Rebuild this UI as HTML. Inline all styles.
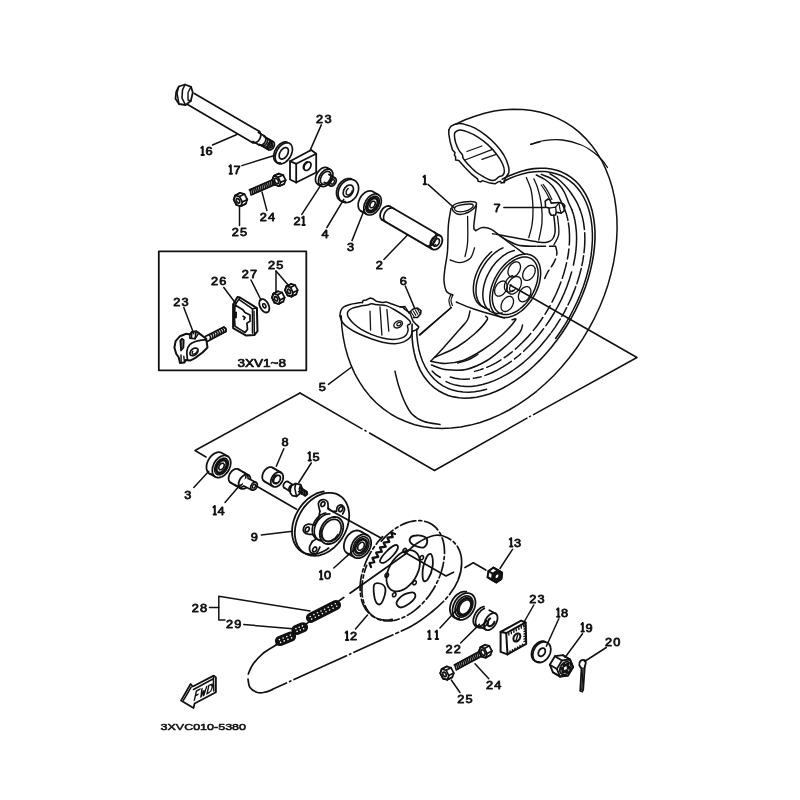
<!DOCTYPE html>
<html><head><meta charset="utf-8"><title>Rear Wheel</title>
<style>html,body{margin:0;padding:0;background:#fff}body{width:800px;height:800px;overflow:hidden}svg{display:block;filter:grayscale(1)}text{font-family:"Liberation Sans",sans-serif;fill:#111}</style>
</head><body>
<svg width="800" height="800" viewBox="0 0 800 800" stroke-linecap="round" stroke-linejoin="round">
<rect width="800" height="800" fill="#fff"/>
<path d="M206,457 L195,450.5 L300,393" fill="none" stroke="#111" stroke-width="1.5"/>
<path d="M300,393 L362,428.8" fill="none" stroke="#111" stroke-width="1.5"/>
<path d="M365,430.5 L366,431.1" fill="none" stroke="#111" stroke-width="1.5"/>
<path d="M369.5,433 L434.5,470.5" fill="none" stroke="#111" stroke-width="1.5"/>
<path d="M434.5,470.5 L527,418.2" fill="none" stroke="#111" stroke-width="1.5"/>
<path d="M529.5,416.7 L530.5,416.2" fill="none" stroke="#111" stroke-width="1.5"/>
<path d="M533.5,414.6 L637,357.5 L510,285" fill="none" stroke="#111" stroke-width="1.5"/>
<path d="M455.6,124.2 L465.2,119.8 L474.9,116.2 L484.6,113.3 L494.3,111.1 L503.9,109.8 L513.4,109.2 L522.7,109.4 L531.8,110.4 L540.6,112.2 L549.1,114.8 L557.3,118.1 L565.1,122.2 L572.5,126.9 L579.4,132.4 L585.8,138.6 L591.7,145.4 L597,152.8 L601.8,160.8 L605.9,169.4 L609.4,178.4 L612.3,187.8 L614.5,197.7 L616,207.9 L616.9,218.5 L617.1,229.2 L616.6,240.2 L615.4,251.3 L613.6,262.5 L611,273.7 L607.9,284.9 L604.1,296 L599.7,307 L594.6,317.8 L589,328.3 L582.9,338.6 L576.3,348.5 L569.1,358 L561.6,367.1 L553.6,375.7 L545.2,383.8 L536.6,391.3 L527.6,398.2 L518.4,404.4 L509,410 L499.5,414.9 L489.9,419 L480.2,422.5 L470.5,425.1 L460.8,427 L451.2,428.1 L441.8,428.4 L432.6,427.9 L423.6,426.7 L414.8,424.7 L406.4,421.8 L398.3,418.3 L390.7,414 L383.4,408.9 L376.7,403.2 L370.4,396.9 L364.7,389.8 L359.6,382.2 L355,374.1 L351.1,365.4 L347.8,356.2 L345.1,346.6 L343.1,336.6 L341.8,326.3 L341.2,315.7" fill="none" stroke="#111" stroke-width="1.5"/>
<path d="M530.6,144.4 C532.8,143.8 538.5,141.3 543.8,140.6 C549.1,139.9 556.2,139.3 562.5,140 C568.8,140.7 576.1,142.9 581.3,145 C586.5,147.1 590.3,150 593.8,152.5 C597.2,155 599.7,157.5 602,160 C604.3,162.5 606.6,166.2 607.5,167.5" fill="none" stroke="#111" stroke-width="1.3"/>
<path d="M502.2,179.2 L508.6,176 L515.1,173.4 L521.4,171.2 L527.7,169.6 L533.8,168.6 L539.8,168.2 L545.7,168.3 L551.3,169 L556.7,170.3 L561.8,172.1 L566.6,174.5 L571.1,177.4 L575.3,180.8 L579.1,184.8 L582.5,189.2 L585.6,194.1 L588.2,199.4 L590.5,205.2 L592.3,211.3 L593.6,217.8 L594.5,224.7 L595,231.8 L595,239.1 L594.5,246.7 L593.6,254.5 L592.2,262.4 L590.4,270.4 L588.2,278.5 L585.6,286.6 L582.5,294.7 L579.1,302.7 L575.3,310.6 L571.1,318.4 L566.6,326 L561.7,333.5 L556.6,340.6 L551.2,347.5 L545.6,354 L539.8,360.2 L533.8,366 L527.6,371.5 L521.4,376.4 L515,380.9 L508.6,384.9 L502.1,388.5 L495.7,391.5 L489.3,393.9 L483,395.8 L476.7,397.2 L470.6,397.9 L464.7,398.2 L459,397.8 L453.5,396.9 L448.2,395.4 L443.2,393.3 L438.5,390.7 L434.1,387.6 L430.1,384 L426.4,379.8 L423.1,375.2 L420.2,370.1 L417.8,364.6 L415.7,358.7 L414.1,352.4 L412.9,345.7 L412.2,338.8 L412,331.6 L412.1,324.1" fill="none" stroke="#111" stroke-width="1.6"/>
<path d="M503.8,181.3 L510,178.3 L516.2,175.9 L522.3,174 L528.3,172.6 L534.2,171.7 L539.9,171.4 L545.5,171.6 L550.9,172.4 L556,173.7 L560.9,175.5 L565.5,177.9 L569.8,180.8 L573.8,184.1 L577.4,188 L580.7,192.3 L583.6,197.1 L586.1,202.3 L588.2,207.8 L589.9,213.8 L591.2,220.1 L592,226.7 L592.4,233.5 L592.4,240.6 L591.9,248 L591.1,255.4 L589.8,263.1 L588,270.8 L585.9,278.6 L583.3,286.4 L580.4,294.2 L577.1,301.9 L573.4,309.5 L569.4,317.1 L565.1,324.4 L560.5,331.5 L555.6,338.5" fill="none" stroke="#111" stroke-width="1.5"/>
<path d="M486.6,389.3 L480.6,390.8 L474.6,391.8 L468.8,392.2 L463.1,392 L457.7,391.3 L452.5,390.1 L447.6,388.2 L442.9,385.8 L438.6,382.9 L434.6,379.5 L431,375.6 L427.7,371.1 L424.9,366.3 L422.4,361 L420.4,355.3 L418.8,349.2 L417.7,342.7 L416.9,336 L416.7,329" fill="none" stroke="#111" stroke-width="1.5"/>
<path d="M550,173.8 C551.3,174.7 555.5,177.1 558,179 C560.5,180.9 562.8,183.2 565,185.5 C567.2,187.8 569.1,190.3 571,193 C572.9,195.7 575.1,199.2 576.6,201.9 C578.1,204.6 579.4,208.1 579.9,209.3" fill="none" stroke="#111" stroke-width="1.5"/>
<path d="M541.3,174.4 C542.9,175.1 548,176.8 551,178.5 C554,180.2 556.8,182.2 559,184.5 C561.2,186.8 562.9,189.5 564.5,192.5 C566.1,195.5 567.4,199.8 568.6,202.7 C569.9,205.5 571.3,208.6 571.9,209.7" fill="none" stroke="#111" stroke-width="1.5"/>
<path d="M536.3,175 C537.8,175.8 542.3,177.7 545,179.5 C547.7,181.3 550.4,183.6 552.5,186 C554.6,188.4 555.9,191.1 557.5,194 C559.1,196.9 560.7,200.7 561.9,203.4 C563.2,206.1 564.5,209.1 565,210.2" fill="none" stroke="#111" stroke-width="1.5"/>
<path d="M579.9,209.3 L581,212.4 L582,215.6 L582.8,218.9 L583.5,222.3 L584,225.9 L584.4,229.5" fill="none" stroke="#111" stroke-width="1.5"/>
<path d="M584.7,232.7 L584.9,239.4 L584.6,246.4 L583.9,253.6 L582.8,260.9 L581.3,268.3 L579.3,275.8 L577,283.4 L574.2,290.9 L571.1,298.4 L567.6,305.8 L563.8,313.1 L559.6,320.2 L555.2,327.1 L550.4,333.8" fill="none" stroke="#111" stroke-width="1.5" stroke-dasharray="20 3 10 3 16 3"/>
<path d="M550.4,333.8 L545.5,340.1 L540.3,346.2 L534.9,351.9 L529.4,357.3 L523.7,362.3 L517.9,366.9 L512.1,371 L506.1,374.7 L500.2,377.9 L494.3,380.6 L488.4,382.8 L482.5,384.5 L476.8,385.7 L471.2,386.4 L465.8,386.5 L460.5,386 L455.5,385.1 L450.6,383.6 L446.1,381.6" fill="none" stroke="#111" stroke-width="1.5"/>
<path d="M571.9,209.7 L573.6,214.9 L574.9,220.3 L575.8,226.1 L576.4,232.1 L576.6,238.3 L576.4,244.8 L575.8,251.4 L574.8,258.1 L573.4,265" fill="none" stroke="#111" stroke-width="1.5"/>
<path d="M571.7,271.9 L569.6,278.8 L567.2,285.8 L564.4,292.7 L561.3,299.6 L557.8,306.4 L554.1,313 L550.1,319.5 L545.9,325.7" fill="none" stroke="#111" stroke-width="1.5"/>
<path d="M543.6,328.8 L539,334.7 L534.2,340.4 L529.2,345.7 L524.1,350.8 L518.8,355.5 L513.4,359.8 L508,363.7 L502.5,367.2 L496.9,370.3 L491.4,373 L485.9,375.1 L480.4,376.9 L475.1,378.1 L469.8,378.9 L464.7,379.2 L459.7,379 L454.9,378.3 L450.3,377.1" fill="none" stroke="#111" stroke-width="1.5" stroke-dasharray="30 4 8 4"/>
<path d="M565,210.2 L565.6,211.8 L566.2,213.5 L566.7,215.1 L567.1,216.9 L567.6,218.6 L567.9,220.4" fill="none" stroke="#111" stroke-width="1.5"/>
<path d="M568.4,223.1 L569.2,228.9 L569.5,234.9 L569.5,241.1 L569.1,247.5 L568.3,254 L567.1,260.7 L565.5,267.4 L563.6,274.2 L561.3,281 L558.7,287.8 L555.8,294.5 L552.5,301.2 L549,307.7 L545.1,314.1 L541,320.2 L536.7,326.2 L532.1,331.9 L527.4,337.4 L522.4,342.5 L517.4,347.3 L512.2,351.8 L506.9,355.8 L501.5,359.5 L496.1,362.8 L490.7,365.6 L485.3,368 L479.9,369.9 L474.6,371.4" fill="none" stroke="#111" stroke-width="1.5" stroke-dasharray="22 4 10 4 16 4"/>
<path d="M526.3,177.5 C527.1,179.8 530.2,185.6 531.3,191 C532.4,196.4 532.9,204.3 533,210 C533.1,215.7 532.7,220.4 532,225 C531.3,229.6 529.3,235.4 528.8,237.5" fill="none" stroke="#111" stroke-width="1.3"/>
<path d="M533.8,178.8 C534.4,180.2 536.2,183.3 537.5,187.5 C538.8,191.7 540.5,198 541.3,203.8 C542,209.6 542.4,216.5 542,222.5 C541.6,228.5 539.3,237.1 538.8,240" fill="none" stroke="#111" stroke-width="1.3"/>
<path d="M448.8,130 C449.2,129.4 449.8,127.3 451.2,126.2 C452.7,125.2 455.2,124.1 457.5,123.8 C459.8,123.4 462.1,123.6 465,124.4 C467.9,125.1 471.5,126.2 475,128.1 C478.5,130 482.7,132.8 486.2,135.6 C489.8,138.4 493.3,141.8 496.2,145 C499.2,148.2 501.8,151.7 503.8,155 C505.7,158.3 507.3,162.1 508.1,165 C509,167.9 509.2,170.3 508.8,172.5 C508.3,174.7 505.8,177.2 505.2,178.1" fill="none" stroke="#111" stroke-width="1.5"/>
<path d="M505.2,178.1 L504.4,182.5 L501.2,183.1 L500.6,181.2 L498.1,181.9 L495,183.8 L490,183.1 L482.5,180.6 L480.6,181.9 L478.1,181.2 L477.5,178.8 L471.2,173.8 L465,167.5 L460.6,162.5 L458.8,160.6 L455.6,160 L455.6,156.9 L454.4,155 L455,152.5 L452.5,150 L450,141.2 L448.8,133.8 L448.8,130" fill="none" stroke="#111" stroke-width="1.5"/>
<path d="M454.4,135 C454.4,133.2 454.7,132.7 455.6,131.9 C456.6,131 458,130 460,130 C462,130 464.6,130.7 467.5,131.9 C470.4,133 474.2,134.8 477.5,136.9 C480.8,139 484.4,141.6 487.5,144.4 C490.6,147.2 493.8,150.5 496.2,153.8 C498.8,157 501.1,160.8 502.5,163.8 C503.9,166.7 504.4,169.3 504.4,171.2 C504.4,173.2 503.4,174.7 502.5,175.6 C501.6,176.6 500,176.1 498.8,176.9 C497.5,177.6 496.5,179.5 495,180 C493.5,180.5 492.1,180.6 490,180 C487.9,179.4 485,177.7 482.5,176.2 C480,174.8 477.5,173.3 475,171.2 C472.5,169.2 469.5,165.9 467.5,163.8 C465.5,161.6 464,159.6 463.1,158.1 C462.3,156.7 463.2,156.4 462.5,155 C461.8,153.6 459.9,152.1 458.8,150 C457.6,147.9 456.4,145 455.6,142.5 C454.9,140 454.4,136.8 454.4,135 Z" fill="none" stroke="#111" stroke-width="1.5"/>
<path d="M466.9,151.5 L481.9,146" fill="none" stroke="#111" stroke-width="1.3"/>
<path d="M465,160 L492.5,149.4" fill="none" stroke="#111" stroke-width="1.3"/>
<path d="M481.9,159.4 L496.2,154.4" fill="none" stroke="#111" stroke-width="1.3"/>
<path d="M530.6,144.4 L540,141.9" fill="none" stroke="#111" stroke-width="1.3"/>
<path d="M532.8,256 L534,256.8 L535.2,257.8 L536.2,258.9 L537.2,260.1 L538,261.5 L538.7,263 L539.4,264.6 L539.9,266.3 L540.2,268.1 L540.5,269.9 L540.6,271.9 L540.7,273.9 L540.5,276 L540.3,278.1 L539.9,280.3 L539.5,282.5 L538.9,284.7 L538.2,286.9 L537.3,289.1 L536.4,291.3 L535.4,293.5 L534.2,295.6 L533,297.7 L531.7,299.7 L530.3,301.7 L528.8,303.6 L527.3,305.3 L525.7,307 L524.1,308.6 L522.4,310.1 L520.7,311.5 L518.9,312.7 L517.2,313.8 L515.4,314.8 L513.6,315.6 L511.8,316.3 L510.1,316.8 L508.4,317.2 L506.7,317.5 L505,317.5 L503.4,317.5 L501.9,317.2 L500.4,316.8 L499,316.3 L497.6,315.6 L496.4,314.8 L495.2,313.8 L494.2,312.7 L493.2,311.5 L492.4,310.1 L491.7,308.6 L491,307 L490.5,305.3 L490.2,303.5 L489.9,301.7 L489.8,299.7 L489.7,297.7 L489.9,295.6 L490.1,293.5 L490.5,291.3 L490.9,289.1 L491.5,286.9 L492.2,284.7 L493.1,282.5 L494,280.3 L495,278.1 L496.2,276 L497.4,273.9 L498.7,271.9 L500.1,269.9 L501.6,268 L503.1,266.3 L504.7,264.6 L506.3,263 L508,261.5 L509.7,260.1 L511.5,258.9 L513.2,257.8 L515,256.8 L516.8,256 L518.6,255.3 L520.3,254.8 L522,254.4 L523.7,254.1 L525.4,254.1 L527,254.1 L528.5,254.4 L530,254.8 L531.4,255.3 Z" fill="none" stroke="#111" stroke-width="1.5"/>
<path d="M531.2,258.7 L532.3,259.4 L533.3,260.3 L534.2,261.3 L535.1,262.4 L535.8,263.6 L536.5,264.9 L537,266.4 L537.4,267.9 L537.8,269.5 L538,271.2 L538.1,273 L538.1,274.8 L537.9,276.7 L537.7,278.6 L537.4,280.6 L536.9,282.6 L536.4,284.6 L535.7,286.6 L535,288.6 L534.1,290.6 L533.2,292.6 L532.1,294.5 L531,296.4 L529.8,298.2 L528.5,300 L527.2,301.7 L525.8,303.4 L524.4,304.9 L522.9,306.4 L521.4,307.7 L519.8,309 L518.3,310.1 L516.7,311.1 L515.1,312 L513.5,312.8 L511.9,313.4 L510.3,313.9 L508.8,314.3 L507.3,314.5 L505.8,314.6 L504.3,314.5 L503,314.4 L501.6,314 L500.4,313.5 L499.2,312.9 L498.1,312.2 L497.1,311.3 L496.2,310.3 L495.3,309.2 L494.6,308 L493.9,306.7 L493.4,305.2 L493,303.7 L492.6,302.1 L492.4,300.4 L492.3,298.6 L492.3,296.8 L492.5,294.9 L492.7,293 L493,291 L493.5,289 L494,287 L494.7,285 L495.4,283 L496.3,281 L497.2,279 L498.3,277.1 L499.4,275.2 L500.6,273.4 L501.9,271.6 L503.2,269.9 L504.6,268.2 L506,266.7 L507.5,265.2 L509,263.9 L510.6,262.6 L512.1,261.5 L513.7,260.5 L515.3,259.6 L516.9,258.8 L518.5,258.2 L520.1,257.7 L521.6,257.3 L523.1,257.1 L524.6,257 L526.1,257.1 L527.4,257.2 L528.8,257.6 L530,258.1 Z" fill="none" stroke="#111" stroke-width="1.5"/>
<path d="M502.3,313 L500.6,313.3 L498.9,313.4 L497.3,313.4 L495.7,313.3 L494.2,313 L492.8,312.5 L491.4,311.9 L490.1,311.2 L488.9,310.3 L487.8,309.2 L486.8,308 L485.9,306.7 L485.1,305.3 L484.4,303.8 L483.9,302.1 L483.4,300.4 L483.1,298.5 L482.9,296.6 L482.8,294.6 L482.9,292.6 L483.1,290.5 L483.4,288.3 L483.8,286.1 L484.3,283.9 L485,281.7 L485.7,279.5 L486.6,277.3 L487.6,275.1 L488.7,273 L489.9,270.9 L491.1,268.8 L492.5,266.8 L493.9,264.9 L495.4,263.1 L497,261.3 L498.6,259.7 L500.3,258.2 L502,256.7 L503.7,255.4 L505.5,254.3 L507.2,253.2 L509,252.3 L510.8,251.6 L512.6,251 L514.3,250.5" fill="none" stroke="#111" stroke-width="1.5"/>
<path d="M489.2,309.3 L487.7,309 L486.2,308.6 L484.8,308 L483.4,307.2 L482.2,306.3 L481.1,305.3 L480,304.1 L479.1,302.8 L478.3,301.4 L477.6,299.8 L477,298.1 L476.5,296.3 L476.2,294.5 L476,292.5 L476,290.5 L476,288.4 L476.2,286.2 L476.5,284 L476.9,281.8 L477.5,279.6 L478.2,277.3 L479,275 L479.9,272.8 L480.9,270.6 L482.1,268.4 L483.3,266.3 L484.6,264.2 L486,262.2 L487.5,260.3 L489.1,258.4 L490.7,256.7 L492.3,255 L494.1,253.5 L495.8,252.1 L497.6,250.8 L499.4,249.7 L501.2,248.7 L503,247.9" fill="none" stroke="#111" stroke-width="1.5"/>
<path d="M484.7,307.4 L483.3,306.9 L481.9,306.3 L480.6,305.5 L479.4,304.6 L478.3,303.5 L477.2,302.3 L476.3,301 L475.5,299.5 L474.9,298 L474.3,296.3 L473.9,294.5 L473.6,292.6 L473.4,290.6 L473.4,288.6 L473.4,286.5 L473.7,284.4 L474,282.2 L474.4,279.9 L475,277.7 L475.7,275.5 L476.5,273.2 L477.5,271 L478.5,268.8 L479.6,266.6 L480.9,264.5 L482.2,262.4 L483.6,260.4 L485.1,258.5 L486.6,256.7 L488.3,255 L489.9,253.3 L491.6,251.8" fill="none" stroke="#111" stroke-width="1.5"/>
<path d="M533.1,265.8 L533.4,266 L533.7,266.2 L534,266.5 L534.2,266.8 L534.5,267.2 L534.6,267.5 L534.8,267.9 L534.9,268.3 L535.1,268.8 L535.1,269.2 L535.2,269.7 L535.2,270.2 L535.2,270.7 L535.1,271.2 L535.1,271.7 L535,272.2 L534.8,272.8 L534.7,273.3 L534.5,273.8 L534.3,274.3 L534,274.9 L533.7,275.4 L533.5,275.8 L533.1,276.3 L532.8,276.8 L532.5,277.2 L532.1,277.7 L531.7,278.1 L531.3,278.4 L530.9,278.8 L530.5,279.1 L530.1,279.4 L529.6,279.6 L529.2,279.8 L528.8,280 L528.3,280.2 L527.9,280.3 L527.5,280.4 L527,280.4 L526.6,280.4 L526.2,280.4 L525.8,280.3 L525.5,280.2 L525.1,280.1 L524.8,279.9 L524.5,279.7 L524.2,279.5 L523.9,279.2 L523.7,278.9 L523.4,278.6 L523.3,278.2 L523.1,277.8 L523,277.4 L522.8,277 L522.8,276.5 L522.7,276 L522.7,275.6 L522.7,275.1 L522.8,274.5 L522.8,274 L522.9,273.5 L523.1,273 L523.2,272.4 L523.4,271.9 L523.6,271.4 L523.9,270.9 L524.2,270.4 L524.4,269.9 L524.8,269.4 L525.1,268.9 L525.4,268.5 L525.8,268.1 L526.2,267.7 L526.6,267.3 L527,267 L527.4,266.6 L527.8,266.4 L528.3,266.1 L528.7,265.9 L529.1,265.7 L529.6,265.5 L530,265.4 L530.4,265.3 L530.9,265.3 L531.3,265.3 L531.7,265.3 L532.1,265.4 L532.4,265.5 L532.8,265.6 Z" fill="none" stroke="#111" stroke-width="1.3"/>
<path d="M528.8,287.1 L529.1,287.3 L529.4,287.6 L529.7,287.9 L529.9,288.2 L530.2,288.5 L530.3,288.9 L530.5,289.2 L530.6,289.7 L530.8,290.1 L530.8,290.5 L530.9,291 L530.9,291.5 L530.9,292 L530.8,292.5 L530.8,293 L530.7,293.6 L530.5,294.1 L530.4,294.6 L530.2,295.1 L530,295.7 L529.7,296.2 L529.4,296.7 L529.2,297.2 L528.8,297.7 L528.5,298.1 L528.2,298.6 L527.8,299 L527.4,299.4 L527,299.8 L526.6,300.1 L526.2,300.4 L525.8,300.7 L525.3,301 L524.9,301.2 L524.5,301.4 L524,301.5 L523.6,301.6 L523.2,301.7 L522.7,301.8 L522.3,301.8 L521.9,301.7 L521.5,301.7 L521.2,301.6 L520.8,301.4 L520.5,301.3 L520.2,301.1 L519.9,300.8 L519.6,300.5 L519.4,300.2 L519.2,299.9 L519,299.5 L518.8,299.1 L518.7,298.7 L518.6,298.3 L518.5,297.8 L518.4,297.4 L518.4,296.9 L518.4,296.4 L518.5,295.9 L518.5,295.4 L518.6,294.8 L518.8,294.3 L518.9,293.8 L519.1,293.2 L519.3,292.7 L519.6,292.2 L519.9,291.7 L520.1,291.2 L520.5,290.7 L520.8,290.3 L521.1,289.8 L521.5,289.4 L521.9,289 L522.3,288.6 L522.7,288.3 L523.1,288 L523.5,287.7 L524,287.4 L524.4,287.2 L524.9,287 L525.3,286.9 L525.7,286.8 L526.1,286.7 L526.6,286.6 L527,286.6 L527.4,286.6 L527.8,286.7 L528.1,286.8 L528.5,287 Z" fill="none" stroke="#111" stroke-width="1.3"/>
<path d="M511.5,296.9 L511.8,297.1 L512.1,297.3 L512.3,297.6 L512.6,297.9 L512.8,298.2 L513,298.6 L513.1,299 L513.3,299.4 L513.4,299.8 L513.5,300.3 L513.5,300.7 L513.5,301.2 L513.5,301.7 L513.5,302.2 L513.4,302.8 L513.3,303.3 L513.2,303.8 L513,304.3 L512.8,304.9 L512.6,305.4 L512.4,305.9 L512.1,306.4 L511.8,306.9 L511.5,307.4 L511.2,307.9 L510.8,308.3 L510.4,308.7 L510,309.1 L509.6,309.5 L509.2,309.8 L508.8,310.1 L508.4,310.4 L508,310.7 L507.5,310.9 L507.1,311.1 L506.7,311.3 L506.2,311.4 L505.8,311.5 L505.4,311.5 L505,311.5 L504.6,311.5 L504.2,311.4 L503.8,311.3 L503.5,311.2 L503.1,311 L502.8,310.8 L502.5,310.5 L502.3,310.3 L502,310 L501.8,309.6 L501.6,309.3 L501.4,308.9 L501.3,308.5 L501.2,308 L501.1,307.6 L501.1,307.1 L501,306.6 L501.1,306.1 L501.1,305.6 L501.2,305.1 L501.3,304.6 L501.4,304 L501.6,303.5 L501.8,303 L502,302.5 L502.2,301.9 L502.5,301.4 L502.8,300.9 L503.1,300.5 L503.4,300 L503.8,299.6 L504.2,299.1 L504.5,298.7 L504.9,298.4 L505.3,298 L505.8,297.7 L506.2,297.4 L506.6,297.2 L507.1,296.9 L507.5,296.8 L507.9,296.6 L508.4,296.5 L508.8,296.4 L509.2,296.4 L509.6,296.3 L510,296.4 L510.4,296.4 L510.8,296.5 L511.1,296.7 Z" fill="none" stroke="#111" stroke-width="1.3"/>
<path d="M505,281.5 L505.3,281.7 L505.6,282 L505.9,282.3 L506.1,282.6 L506.4,282.9 L506.6,283.3 L506.7,283.7 L506.9,284.1 L507,284.5 L507,285 L507.1,285.4 L507.1,285.9 L507.1,286.4 L507,286.9 L507,287.4 L506.9,288 L506.7,288.5 L506.6,289 L506.4,289.6 L506.2,290.1 L505.9,290.6 L505.7,291.1 L505.4,291.6 L505.1,292.1 L504.7,292.5 L504.4,293 L504,293.4 L503.6,293.8 L503.2,294.2 L502.8,294.5 L502.4,294.8 L502,295.1 L501.5,295.4 L501.1,295.6 L500.7,295.8 L500.2,295.9 L499.8,296 L499.4,296.1 L498.9,296.2 L498.5,296.2 L498.1,296.2 L497.8,296.1 L497.4,296 L497,295.8 L496.7,295.7 L496.4,295.5 L496.1,295.2 L495.8,294.9 L495.6,294.6 L495.4,294.3 L495.2,293.9 L495,293.6 L494.9,293.1 L494.8,292.7 L494.7,292.3 L494.6,291.8 L494.6,291.3 L494.6,290.8 L494.7,290.3 L494.7,289.8 L494.9,289.2 L495,288.7 L495.1,288.2 L495.3,287.7 L495.6,287.1 L495.8,286.6 L496.1,286.1 L496.4,285.6 L496.7,285.1 L497,284.7 L497.4,284.2 L497.7,283.8 L498.1,283.4 L498.5,283 L498.9,282.7 L499.3,282.4 L499.8,282.1 L500.2,281.8 L500.6,281.6 L501.1,281.4 L501.5,281.3 L501.9,281.2 L502.3,281.1 L502.8,281 L503.2,281 L503.6,281.1 L504,281.1 L504.3,281.2 L504.7,281.4 Z" fill="none" stroke="#111" stroke-width="1.3"/>
<path d="M518.4,262.3 L518.7,262.6 L519,262.8 L519.3,263.1 L519.5,263.4 L519.7,263.7 L519.9,264.1 L520.1,264.5 L520.2,264.9 L520.3,265.3 L520.4,265.8 L520.5,266.2 L520.5,266.7 L520.5,267.2 L520.4,267.7 L520.4,268.2 L520.3,268.8 L520.1,269.3 L520,269.8 L519.8,270.4 L519.6,270.9 L519.3,271.4 L519,271.9 L518.8,272.4 L518.4,272.9 L518.1,273.3 L517.8,273.8 L517.4,274.2 L517,274.6 L516.6,275 L516.2,275.3 L515.8,275.6 L515.4,275.9 L514.9,276.2 L514.5,276.4 L514,276.6 L513.6,276.7 L513.2,276.9 L512.8,276.9 L512.3,277 L511.9,277 L511.5,277 L511.1,276.9 L510.8,276.8 L510.4,276.6 L510.1,276.5 L509.8,276.3 L509.5,276 L509.2,275.7 L509,275.4 L508.7,275.1 L508.6,274.7 L508.4,274.4 L508.3,273.9 L508.1,273.5 L508.1,273.1 L508,272.6 L508,272.1 L508,271.6 L508.1,271.1 L508.1,270.6 L508.2,270 L508.4,269.5 L508.5,269 L508.7,268.5 L508.9,267.9 L509.2,267.4 L509.5,266.9 L509.7,266.4 L510.1,265.9 L510.4,265.5 L510.7,265 L511.1,264.6 L511.5,264.2 L511.9,263.8 L512.3,263.5 L512.7,263.2 L513.1,262.9 L513.6,262.6 L514,262.4 L514.4,262.2 L514.9,262.1 L515.3,262 L515.7,261.9 L516.2,261.8 L516.6,261.8 L517,261.9 L517.3,261.9 L517.7,262 L518.1,262.2 Z" fill="none" stroke="#111" stroke-width="1.3"/>
<path d="M519,277.1 L519.4,277.4 L519.7,277.6 L520,277.9 L520.3,278.3 L520.6,278.7 L520.8,279.1 L521,279.5 L521.1,280 L521.2,280.5 L521.3,281.1 L521.4,281.6 L521.4,282.2 L521.4,282.7 L521.3,283.3 L521.2,283.9 L521.1,284.5 L521,285.2 L520.8,285.8 L520.5,286.4 L520.3,287 L520,287.6 L519.7,288.2 L519.4,288.7 L519,289.3 L518.6,289.8 L518.2,290.3 L517.8,290.8 L517.3,291.3 L516.9,291.7 L516.4,292.1 L515.9,292.5 L515.4,292.8 L514.9,293.1 L514.4,293.4 L513.9,293.6 L513.4,293.8 L512.9,293.9 L512.5,294 L512,294.1 L511.5,294.1 L511,294 L510.6,294 L510.2,293.8 L509.8,293.7 L509.4,293.5 L509,293.2 L508.7,293 L508.4,292.7 L508.1,292.3 L507.8,291.9 L507.6,291.5 L507.4,291.1 L507.3,290.6 L507.2,290.1 L507.1,289.5 L507,289 L507,288.4 L507,287.9 L507.1,287.3 L507.2,286.7 L507.3,286.1 L507.4,285.4 L507.6,284.8 L507.9,284.2 L508.1,283.6 L508.4,283 L508.7,282.4 L509,281.9 L509.4,281.3 L509.8,280.8 L510.2,280.3 L510.6,279.8 L511.1,279.3 L511.5,278.9 L512,278.5 L512.5,278.1 L513,277.8 L513.5,277.5 L514,277.2 L514.5,277 L515,276.8 L515.5,276.7 L515.9,276.6 L516.4,276.5 L516.9,276.5 L517.4,276.6 L517.8,276.6 L518.2,276.8 L518.6,276.9 Z" fill="none" stroke="#111" stroke-width="1.3"/>
<path d="M513.2,290.2 L512.8,290.6 L512.3,290.9 L511.8,291.2 L511.4,291.4 L510.9,291.6 L510.4,291.8 L509.9,291.9 L509.5,292 L509,292.1 L508.6,292.1 L508.1,292.1 L507.7,292 L507.3,291.9 L506.9,291.7 L506.6,291.5 L506.2,291.3 L505.9,291 L505.6,290.7 L505.4,290.4 L505.2,290 L505,289.6 L504.8,289.2 L504.7,288.7 L504.5,288.2 L504.5,287.7 L504.4,287.2 L504.4,286.7 L504.5,286.1 L504.5,285.5 L504.6,285 L504.7,284.4 L504.9,283.8 L505.1,283.2 L505.3,282.6 L505.6,282.1 L505.9,281.5 L506.2,280.9 L506.5,280.4 L506.8,279.9 L507.2,279.4 L507.6,278.9 L508,278.4 L508.5,278 L508.9,277.6 L509.4,277.2 L509.8,276.9 L510.3,276.6 L510.8,276.3 L511.2,276.1 L511.7,275.9 L512.2,275.7 L512.7,275.6" fill="none" stroke="#111" stroke-width="1.3"/>
<path d="M515.3,289 L515.1,289.3 L514.9,289.6 L514.6,289.8 L514.4,290.1 L514.2,290.3 L513.9,290.5 L513.7,290.7 L513.4,290.8 L513.2,291 L512.9,291.1 L512.7,291.2 L512.4,291.3 L512.2,291.3 L511.9,291.4 L511.7,291.4 L511.5,291.4 L511.3,291.3 L511,291.3 L510.8,291.2 L510.7,291.1 L510.5,291 L510.3,290.9 L510.2,290.7 L510,290.5 L509.9,290.3 L509.8,290.1 L509.7,289.9 L509.7,289.6 L509.6,289.4 L509.6,289.1 L509.6,288.8 L509.6,288.6 L509.6,288.3 L509.6,287.9 L509.7,287.6 L509.8,287.3 L509.9,287 L510,286.7 L510.1,286.4 L510.2,286 L510.4,285.7 L510.5,285.4 L510.7,285.1 L510.9,284.8 L511.1,284.6" fill="none" stroke="#111" stroke-width="1.2"/>
<path d="M475.9,230.6 C477,230.1 479.9,227.8 482.5,227.6 C485.1,227.4 486.9,226.9 491.3,229.4 C495.6,231.9 503.2,238.4 508.8,242.5 C514.4,246.6 522.2,252.1 524.9,254.1" fill="none" stroke="#111" stroke-width="1.5"/>
<path d="M504.4,318.1 C499.3,316.6 481.8,311.7 473.8,309 C465.7,306.3 459.2,303.2 456.3,302" fill="none" stroke="#111" stroke-width="1.5"/>
<path d="M451,208.4 C450.6,211.1 449,217.9 448.4,225 C447.8,232.1 448.1,244 447.5,251.3 C446.9,258.5 445.5,263.8 444.9,268.8 C444.3,273.7 443.7,277.2 444,281 C444.3,284.8 445.2,289.2 446.6,291.5 C448.1,293.8 451.7,294.4 452.8,295" fill="none" stroke="#111" stroke-width="1.5"/>
<path d="M476.4,205.8 C475.9,209.3 473.8,222.6 473.8,226.8 C473.7,230.9 475.5,230 475.9,230.6" fill="none" stroke="#111" stroke-width="1.5"/>
<path d="M467.6,216.3 C467.6,220.6 468.1,235.8 467.6,242.5 C467.2,249.2 465.4,254.2 465,256.5" fill="none" stroke="#111" stroke-width="1.3"/>
<path d="M450.1,260 C451.7,260.4 456.4,262.9 459.8,262.6 C463.1,262.3 467.8,260.7 470.3,258.3 C472.7,255.8 473.9,249.5 474.6,247.8" fill="none" stroke="#111" stroke-width="1.3"/>
<path d="M451.9,207.5 C452.2,205.8 454.9,204.1 458,203.1 C461.1,202.1 467.2,201.4 470.3,201.4 C473.3,201.4 475.9,201.8 476.4,203.1 C476.8,204.4 474.8,207.5 472.9,209.3 C471,211 467.8,212.9 465,213.6 C462.2,214.4 458.4,214.6 456.3,213.6 C454.1,212.6 451.6,209.3 451.9,207.5 Z" fill="none" stroke="#111" stroke-width="1.5"/>
<path d="M454.5,208 C454.8,207 456.4,206.1 458.9,205.4 C461.4,204.7 467,204.1 469.4,204 C471.8,203.9 472.9,204.1 473.2,204.9 C473.5,205.6 472.6,207.3 471.1,208.4 C469.6,209.5 466.5,210.9 464.1,211.4 C461.8,211.8 458.7,211.9 457.1,211.4 C455.5,210.8 454.2,209 454.5,208 Z" fill="none" stroke="#111" stroke-width="1.3"/>
<path d="M452.8,295 C452.5,295.9 451.1,298.5 451,300.3 C450.9,302 452.2,304.6 452.4,305.5" fill="none" stroke="#111" stroke-width="1.2"/>
<path d="M450.7,295 C450.4,295.9 449,298.4 448.9,300.3 C448.8,302.2 450.1,305.4 450.3,306.4" fill="none" stroke="#111" stroke-width="1.2"/>
<path d="M451.3,307.5 L419.4,334.7" fill="none" stroke="#111" stroke-width="1.5"/>
<path d="M492.5,233.8 C493.8,234 492.5,233.6 500,235 C507.5,236.4 529.2,240.8 537.5,241.9 C545.8,242.9 547.1,242.8 550,241.2 C552.9,239.7 554.4,236.9 555,232.5 C555.6,228.1 554,217.9 553.8,215" fill="none" stroke="#111" stroke-width="1.5"/>
<path d="M500,236.2 C502.9,237.7 511.5,243.3 517.5,245 C523.5,246.7 533.1,246 536.2,246.2" fill="none" stroke="#111" stroke-width="1.5"/>
<path d="M537.5,246.2 L555,246.2" fill="none" stroke="#111" stroke-width="1.5" stroke-dasharray="8 4"/>
<path d="M557.5,216.2 C557.7,219.2 559.4,229 558.8,233.8 C558.1,238.5 554.6,243.1 553.8,245" fill="none" stroke="#111" stroke-width="1.3"/>
<path d="M541.2,185 C542.1,186.2 544.8,190 546.2,192.5 C547.7,195 549.4,198.8 550,200" fill="none" stroke="#111" stroke-width="1.2"/>
<path d="M543.1,184.4 C544,185.6 546.7,189.4 548.1,191.9 C549.6,194.4 551.2,198.1 551.9,199.4" fill="none" stroke="#111" stroke-width="1.2"/>
<path d="M545.2,201.2 L548.1,199 L550,199.8 L551.2,203.1 L558.8,202.5 L563.1,203.8 L564.8,205.6 L564,211.2 L561.2,213.1 L556.2,212.2 L555.6,215 L551.2,215.2 L549.4,212.5 L549,208.1 L545.6,207.2 Z" fill="none" stroke="#111" stroke-width="1.6"/>
<path d="M549,208.1 L555.6,207.2 L556.2,212.2" fill="none" stroke="#111" stroke-width="1.3"/>
<path d="M555.6,207.2 L558.8,203.1" fill="none" stroke="#111" stroke-width="1.3"/>
<path d="M558.8,202.5 L560,209.4 L561.2,213.1" fill="none" stroke="#111" stroke-width="1.2"/>
<path d="M555.6,246.3 C555.8,247.3 556.9,250.4 556.9,252.5 C556.9,254.6 556.3,256.7 555.6,258.8 C554.9,260.9 553.9,262.7 552.5,265 C551.1,267.3 548.9,270 547.5,272.5 C546.1,275 544.6,278.8 544,280" fill="none" stroke="#111" stroke-width="1.5" stroke-dasharray="9 4"/>
<path d="M340,316.2 C340.1,315.4 340,312.8 340.6,311.2 C341.2,309.7 342.2,308 343.8,306.9 C345.3,305.7 347.7,305 350,304.4 C352.3,303.8 355.4,303.4 357.5,303.1 C359.6,302.8 361.7,302.6 362.5,302.5" fill="none" stroke="#111" stroke-width="1.5"/>
<path d="M362.5,302.5 L363.1,300.6 L366.2,300 L370,298.1 L373.1,298.8 L376.2,301.2 L382.5,302.5 L386.2,301.9 L391.2,303.8 L400,306.9 L402.5,306.9 L405,309.4 L410,313.1 L411.2,316.2 L413.1,321.2 L416.2,324.4 L418.8,326.9 L417.5,329.4 L412.5,331.2" fill="none" stroke="#111" stroke-width="1.5"/>
<path d="M340,316.2 C340.4,317.3 341,320.5 342.5,322.5 C344,324.5 346,326.2 348.8,328.1 C351.5,330 355,332 358.8,333.8 C362.5,335.5 367.1,337.3 371.2,338.8 C375.4,340.2 379.8,341.7 383.8,342.5 C387.7,343.3 391.7,343.9 395,343.8 C398.3,343.6 401.2,342.9 403.8,341.9 C406.2,340.8 408.5,339.3 410,337.5 C411.5,335.7 412.1,332.3 412.5,331.2" fill="none" stroke="#111" stroke-width="1.5"/>
<path d="M347.5,315 C347.3,313.8 347.3,312.4 348.1,311.2 C349,310.1 350.5,309 352.5,308.1 C354.5,307.3 357.5,306.8 360,306.2 C362.5,305.7 365.6,305.4 367.5,305 C369.4,304.6 370,303.9 371.2,303.8 C372.5,303.6 373.5,304.2 375,304.4 C376.5,304.6 378.1,304.8 380,305 C381.9,305.2 383.8,304.8 386.2,305.6 C388.8,306.5 392.1,308.3 395,310 C397.9,311.7 401.2,313.8 403.8,315.6 C406.2,317.5 409,319.9 410,321.2 C411,322.6 410.4,323 410,323.8 C409.6,324.5 407.8,324.6 407.5,325.6 C407.2,326.7 408.3,328.4 408.1,330 C407.9,331.6 407.4,333.6 406.2,335 C405.1,336.4 403.5,337.4 401.2,338.1 C399,338.9 395.6,339.4 392.5,339.4 C389.4,339.4 386,339 382.5,338.1 C379,337.3 374.8,335.8 371.2,334.4 C367.7,332.9 364.2,331.1 361.2,329.4 C358.3,327.6 355.7,325.5 353.8,323.8 C351.8,322 350.4,320.2 349.4,318.8 C348.3,317.3 347.7,316.2 347.5,315 Z" fill="none" stroke="#111" stroke-width="1.5"/>
<path d="M370,311.2 L370.6,330" fill="none" stroke="#111" stroke-width="1.3"/>
<path d="M380,306.9 L381.9,335" fill="none" stroke="#111" stroke-width="1.3"/>
<path d="M386.9,309.4 L388.8,331.2" fill="none" stroke="#111" stroke-width="1.3"/>
<path d="M402.1,322.1 L402.2,322.3 L402.3,322.5 L402.4,322.7 L402.4,322.9 L402.4,323.2 L402.4,323.4 L402.4,323.6 L402.4,323.9 L402.3,324.1 L402.2,324.4 L402.1,324.6 L402,324.9 L401.8,325.1 L401.7,325.4 L401.5,325.6 L401.3,325.9 L401.1,326.1 L400.9,326.3 L400.6,326.5 L400.4,326.7 L400.1,326.9 L399.9,327.1 L399.6,327.2 L399.3,327.4 L399,327.5 L398.7,327.6 L398.4,327.7 L398.1,327.8 L397.8,327.9 L397.5,327.9 L397.2,328 L396.9,328 L396.6,328 L396.4,328 L396.1,327.9 L395.8,327.9 L395.6,327.8 L395.4,327.7 L395.1,327.6 L394.9,327.5 L394.7,327.3 L394.6,327.2 L394.4,327 L394.3,326.9 L394.1,326.7 L394,326.5 L394,326.3 L393.9,326 L393.9,325.8 L393.8,325.6 L393.8,325.3 L393.9,325.1 L393.9,324.9 L394,324.6 L394,324.4 L394.1,324.1 L394.3,323.9 L394.4,323.6 L394.6,323.4 L394.7,323.1 L394.9,322.9 L395.1,322.7 L395.4,322.5 L395.6,322.2 L395.9,322 L396.1,321.9 L396.4,321.7 L396.7,321.5 L397,321.4 L397.2,321.2 L397.5,321.1 L397.8,321 L398.1,320.9 L398.4,320.9 L398.7,320.8 L399,320.8 L399.3,320.8 L399.6,320.8 L399.9,320.8 L400.1,320.8 L400.4,320.9 L400.7,321 L400.9,321 L401.1,321.1 L401.3,321.3 L401.5,321.4 L401.7,321.5 L401.8,321.7 L402,321.9 Z" fill="none" stroke="#111" stroke-width="1.3"/>
<path d="M400.8,323 L400.9,323.1 L400.9,323.2 L400.9,323.3 L401,323.4 L401,323.5 L401,323.6 L401,323.7 L400.9,323.8 L400.9,323.9 L400.9,324.1 L400.8,324.2 L400.8,324.3 L400.7,324.4 L400.6,324.5 L400.5,324.6 L400.4,324.8 L400.3,324.9 L400.2,325 L400.1,325.1 L400,325.2 L399.9,325.3 L399.7,325.3 L399.6,325.4 L399.5,325.5 L399.3,325.5 L399.2,325.6 L399,325.7 L398.9,325.7 L398.8,325.7 L398.6,325.8 L398.5,325.8 L398.3,325.8 L398.2,325.8 L398.1,325.8 L397.9,325.8 L397.8,325.7 L397.7,325.7 L397.6,325.7 L397.5,325.6 L397.4,325.6 L397.3,325.5 L397.2,325.4 L397.1,325.3 L397.1,325.3 L397,325.2 L397,325.1 L396.9,325 L396.9,324.9 L396.9,324.8 L396.9,324.7 L396.9,324.6 L396.9,324.4 L396.9,324.3 L396.9,324.2 L397,324.1 L397,324 L397.1,323.8 L397.2,323.7 L397.2,323.6 L397.3,323.5 L397.4,323.4 L397.5,323.3 L397.6,323.2 L397.7,323.1 L397.9,323 L398,322.9 L398.1,322.8 L398.2,322.7 L398.4,322.7 L398.5,322.6 L398.7,322.5 L398.8,322.5 L398.9,322.5 L399.1,322.4 L399.2,322.4 L399.4,322.4 L399.5,322.4 L399.6,322.4 L399.8,322.4 L399.9,322.4 L400,322.4 L400.1,322.5 L400.3,322.5 L400.4,322.5 L400.5,322.6 L400.5,322.7 L400.6,322.7 L400.7,322.8 L400.8,322.9 Z" fill="none" stroke="#111" stroke-width="1.2"/>
<path d="M409,312.8 L413.1,309 L417.5,308.1 L421,310.6 L420.6,313.8 L417.5,317.5 L413.5,317.5" fill="none" stroke="#111" stroke-width="1.6"/>
<path d="M411.2,312.2 L414,316.5" fill="none" stroke="#111" stroke-width="1.1"/>
<path d="M413.4,311.2 L415.9,315.4" fill="none" stroke="#111" stroke-width="1.1"/>
<path d="M415.5,310.2 L417.8,314.2" fill="none" stroke="#111" stroke-width="1.1"/>
<path d="M417.6,309.2 L419.6,313.1" fill="none" stroke="#111" stroke-width="1.1"/>
<path d="M400,306.9 L405,306.5 L409,312.8" fill="none" stroke="#111" stroke-width="1.3"/>
<path d="M395,371.3 C395.6,373.8 397.2,381.3 398.8,386.3 C400.4,391.3 402.2,396.7 404.4,401.3 C406.6,405.9 408.6,410.6 411.9,414 C415.2,417.4 419.3,419.8 424,421.5 C428.7,423.2 437.3,424 440,424.5" fill="none" stroke="#111" stroke-width="1.5"/>
<path d="M420,335 L451.3,307.5" fill="none" stroke="#111" stroke-width="1.5"/>
<path d="M470,311 C469.6,312.5 469.2,317 467.5,320 C465.8,323 464,324.4 460,329 C456,333.6 448.4,342.4 443.5,347.7 C438.6,353.1 432.9,359 430.7,361.2" fill="none" stroke="#111" stroke-width="1.5"/>
<path d="M485.8,316.3 C486,316.9 488.8,317.1 487,320 C485.2,322.9 480,329 475,333.5 C470,338 463.7,343 457,347 C450.2,351 438.2,355.7 434.5,357.5" fill="none" stroke="#111" stroke-width="1.5"/>
<path d="M430.7,361.2 C433.1,361.6 439.6,363.6 445,363.5 C450.4,363.4 456.7,362.7 463,360.5 C469.2,358.2 476,354.2 482.5,350 C489,345.7 496.5,340 502,335 C507.5,330 513.8,322.5 515.5,320 C517.2,317.5 512.6,319.8 512,319.8" fill="none" stroke="#111" stroke-width="1.5"/>
<path d="M457.7,363 C459.4,362.6 464.1,361.6 467.5,360.2 C470.9,358.8 476.2,355.4 478,354.5" fill="none" stroke="#111" stroke-width="1.3"/>
<path d="M431.5,365 C433.7,365.7 439.2,368.7 445,369.5 C450.7,370.2 459,371 466,369.5 C473,368 480,364.7 487,360.5 C494,356.2 502.5,348.7 508,344 C513.5,339.2 517.6,335.2 520,332 C522.4,328.8 522.1,326.2 522.5,325" fill="none" stroke="#111" stroke-width="1.5"/>
<path d="M432.2,371 C432.9,371.6 434.7,373.7 436,374.7 C437.3,375.8 439.5,376.9 440.2,377.3" fill="none" stroke="#111" stroke-width="1.6"/>
<path d="M194.3,93.5 L259.1,131.3" fill="none" stroke="#111" stroke-width="1.7"/>
<path d="M187.6,104.6 L252.4,142.5" fill="none" stroke="#111" stroke-width="1.7"/>
<path d="M259.1,131.3 L259.3,131.5 L259.6,131.7 L259.8,131.9 L260,132.2 L260.2,132.5 L260.3,132.8 L260.4,133.1 L260.6,133.4 L260.6,133.7 L260.7,134.1 L260.8,134.5 L260.8,134.9 L260.8,135.3 L260.7,135.7 L260.7,136.1 L260.6,136.5 L260.5,136.9 L260.3,137.4 L260.2,137.8 L260,138.2 L259.8,138.6 L259.6,139 L259.4,139.4 L259.1,139.8 L258.9,140.1 L258.6,140.5 L258.3,140.8 L258,141.1 L257.6,141.4 L257.3,141.7 L257,141.9 L256.6,142.1 L256.3,142.3 L255.9,142.5 L255.6,142.6 L255.2,142.8 L254.9,142.8 L254.5,142.9 L254.2,142.9 L253.9,142.9 L253.5,142.9 L253.2,142.8 L252.9,142.7 L252.6,142.6 L252.4,142.5" fill="none" stroke="#111" stroke-width="1.7"/>
<path d="M258.4,132.5 L264.4,136" fill="none" stroke="#111" stroke-width="1.7"/>
<path d="M253,141.4 L259.1,144.9" fill="none" stroke="#111" stroke-width="1.7"/>
<path d="M264.4,136 L264.6,136.1 L264.8,136.3 L265,136.5 L265.2,136.7 L265.3,136.9 L265.4,137.1 L265.5,137.4 L265.6,137.6 L265.7,137.9 L265.8,138.2 L265.8,138.5 L265.8,138.8 L265.8,139.1 L265.8,139.5 L265.7,139.8 L265.7,140.1 L265.6,140.5 L265.5,140.8 L265.3,141.1 L265.2,141.5 L265.1,141.8 L264.9,142.1 L264.7,142.4 L264.5,142.7 L264.3,143 L264.1,143.3 L263.8,143.6 L263.6,143.8 L263.3,144 L263,144.3 L262.8,144.5 L262.5,144.6 L262.2,144.8 L261.9,144.9 L261.7,145 L261.4,145.1 L261.1,145.2 L260.8,145.2 L260.5,145.3 L260.3,145.3 L260,145.2 L259.8,145.2 L259.5,145.1 L259.3,145 L259.1,144.9" fill="none" stroke="#111" stroke-width="1.7"/>
<path d="M273.2,141.8 L273.4,141.9 L273.6,142.1 L273.7,142.2 L273.8,142.4 L274,142.6 L274.1,142.8 L274.2,143 L274.3,143.3 L274.3,143.5 L274.4,143.8 L274.4,144 L274.4,144.3 L274.4,144.6 L274.4,144.9 L274.3,145.2 L274.3,145.5 L274.2,145.8 L274.1,146.1 L274,146.4 L273.9,146.7 L273.7,146.9 L273.6,147.2 L273.4,147.5 L273.3,147.8 L273.1,148 L272.9,148.3 L272.6,148.5 L272.4,148.7 L272.2,148.9 L272,149.1 L271.7,149.3 L271.5,149.4 L271.2,149.6 L271,149.7 L270.7,149.8 L270.5,149.9 L270.2,150 L270,150 L269.8,150 L269.5,150 L269.3,150 L269.1,149.9 L268.9,149.9 L268.7,149.8 L268.5,149.7 L268.3,149.6 L268.1,149.4 L268,149.3 L267.8,149.1 L267.7,148.9 L267.6,148.7 L267.5,148.5 L267.4,148.2 L267.3,148 L267.3,147.7 L267.3,147.5 L267.3,147.2 L267.3,146.9 L267.3,146.6 L267.3,146.3 L267.4,146 L267.5,145.7 L267.5,145.4 L267.7,145.1 L267.8,144.9 L267.9,144.6 L268.1,144.3 L268.2,144 L268.4,143.7 L268.6,143.5 L268.8,143.2 L269,143 L269.2,142.8 L269.5,142.6 L269.7,142.4 L269.9,142.2 L270.2,142.1 L270.4,141.9 L270.7,141.8 L270.9,141.7 L271.2,141.6 L271.4,141.6 L271.7,141.5 L271.9,141.5 L272.1,141.5 L272.4,141.5 L272.6,141.6 L272.8,141.6 L273,141.7 Z" fill="none" stroke="#111" stroke-width="1.7"/>
<path d="M264.1,136.5 L273.2,141.8" fill="none" stroke="#111" stroke-width="1.7"/>
<path d="M259.4,144.4 L268.5,149.7" fill="none" stroke="#111" stroke-width="1.7"/>
<path d="M266.5,137.9 L266.7,138.1 L266.8,138.2 L267,138.4 L267.1,138.6 L267.2,138.8 L267.3,139.1 L267.4,139.3 L267.4,139.6 L267.5,139.8 L267.5,140.1 L267.5,140.4 L267.5,140.7 L267.5,141 L267.4,141.3 L267.3,141.6 L267.3,141.9 L267.2,142.2 L267,142.5 L266.9,142.8 L266.8,143 L266.6,143.3 L266.4,143.6 L266.2,143.9 L266,144.1 L265.8,144.4 L265.6,144.6 L265.4,144.8 L265.2,145 L264.9,145.2 L264.7,145.4 L264.4,145.5 L264.2,145.6 L263.9,145.7 L263.7,145.8 L263.4,145.9 L263.2,145.9 L262.9,146 L262.7,146 L262.4,146 L262.2,145.9 L262,145.9 L261.8,145.8" fill="none" stroke="#111" stroke-width="1.7"/>
<path d="M268.7,139.2 L268.8,139.3 L269,139.5 L269.1,139.7 L269.3,139.9 L269.4,140.1 L269.5,140.3 L269.5,140.6 L269.6,140.8 L269.6,141.1 L269.7,141.4 L269.7,141.6 L269.6,141.9 L269.6,142.2 L269.6,142.5 L269.5,142.8 L269.4,143.1 L269.3,143.4 L269.2,143.7 L269.1,144 L268.9,144.3 L268.8,144.6 L268.6,144.9 L268.4,145.1 L268.2,145.4 L268,145.6 L267.8,145.9 L267.5,146.1 L267.3,146.3 L267.1,146.4 L266.8,146.6 L266.6,146.8 L266.3,146.9 L266.1,147 L265.8,147.1 L265.6,147.2 L265.3,147.2 L265.1,147.2 L264.8,147.2 L264.6,147.2 L264.4,147.2 L264.2,147.1 L264,147" fill="none" stroke="#111" stroke-width="1.7"/>
<path d="M270.8,140.4 L271,140.6 L271.2,140.8 L271.3,140.9 L271.4,141.1 L271.5,141.4 L271.6,141.6 L271.7,141.8 L271.8,142.1 L271.8,142.3 L271.8,142.6 L271.8,142.9 L271.8,143.2 L271.8,143.5 L271.7,143.8 L271.7,144.1 L271.6,144.4 L271.5,144.7 L271.4,145 L271.2,145.3 L271.1,145.6 L270.9,145.8 L270.7,146.1 L270.6,146.4 L270.4,146.6 L270.2,146.9 L269.9,147.1 L269.7,147.3 L269.5,147.5 L269.2,147.7 L269,147.9 L268.7,148 L268.5,148.2 L268.2,148.3 L268,148.3 L267.7,148.4 L267.5,148.5 L267.2,148.5 L267,148.5 L266.8,148.5 L266.5,148.4 L266.3,148.4 L266.1,148.3" fill="none" stroke="#111" stroke-width="1.7"/>
<path d="M272.1,143.7 L272.2,143.8 L272.3,143.8 L272.3,143.9 L272.4,144 L272.5,144.1 L272.5,144.2 L272.6,144.3 L272.6,144.5 L272.7,144.6 L272.7,144.7 L272.7,144.9 L272.7,145 L272.7,145.1 L272.7,145.3 L272.7,145.5 L272.6,145.6 L272.6,145.8 L272.5,145.9 L272.5,146.1 L272.4,146.2 L272.4,146.4 L272.3,146.5 L272.2,146.7 L272.1,146.8 L272,146.9 L271.9,147.1 L271.8,147.2 L271.7,147.3 L271.5,147.4 L271.4,147.5 L271.3,147.6 L271.2,147.7 L271,147.8 L270.9,147.8 L270.8,147.9 L270.7,147.9 L270.5,147.9 L270.4,148 L270.3,148 L270.1,148 L270,148 L269.9,147.9 L269.8,147.9 L269.7,147.9 L269.6,147.8 L269.5,147.7 L269.4,147.7 L269.3,147.6 L269.3,147.5 L269.2,147.4 L269.1,147.3 L269.1,147.2 L269,147.1 L269,146.9 L269,146.8 L269,146.6 L269,146.5 L269,146.4 L269,146.2 L269,146.1 L269,145.9 L269.1,145.7 L269.1,145.6 L269.2,145.4 L269.2,145.3 L269.3,145.1 L269.4,145 L269.5,144.8 L269.6,144.7 L269.7,144.6 L269.8,144.4 L269.9,144.3 L270,144.2 L270.1,144.1 L270.2,144 L270.4,143.9 L270.5,143.8 L270.6,143.8 L270.7,143.7 L270.9,143.6 L271,143.6 L271.1,143.6 L271.3,143.5 L271.4,143.5 L271.5,143.5 L271.6,143.5 L271.8,143.6 L271.9,143.6 L272,143.6 Z" fill="none" stroke="#111" stroke-width="1.4"/>
<path d="M176.2,92 L178.8,86.5 L185,84.5 L191,86.8 L192.8,92.5 L190.8,101 L185.5,105 L179,104 L175.5,98.8 Z" fill="none" stroke="#111" stroke-width="1.8"/>
<path d="M185,84.5 L182.5,90 L182,98 L185.5,105" fill="none" stroke="#111" stroke-width="1.6"/>
<path d="M178.8,86.5 L177,93 L179,104" fill="none" stroke="#111" stroke-width="1.4"/>
<path d="M191,86.8 L188,92.5 L188,100 L190.8,101" fill="none" stroke="#111" stroke-width="1.4"/>
<path d="M280.3,162.8 L279.7,162.9 L279.1,163 L278.6,163 L278.1,162.9 L277.5,162.8 L277.1,162.6 L276.6,162.4 L276.2,162.1 L275.7,161.8 L275.4,161.5 L275,161.1 L274.7,160.6 L274.5,160.2 L274.2,159.6 L274,159.1 L273.9,158.5 L273.8,157.9 L273.7,157.2 L273.7,156.6 L273.7,155.9 L273.7,155.2 L273.8,154.5 L274,153.7 L274.2,153 L274.4,152.3 L274.6,151.5 L274.9,150.8 L275.3,150.1 L275.6,149.4 L276,148.7 L276.5,148 L276.9,147.3 L277.4,146.7 L277.9,146.1 L278.4,145.5 L279,145 L279.5,144.5 L280.1,144 L280.7,143.6 L281.3,143.2 L281.9,142.9 L282.5,142.6 L283.1,142.3 L283.7,142.2 L284.3,142 L284.9,141.9 L285.4,141.9 L286,141.9 L286.5,142 L287,142.1" fill="none" stroke="#111" stroke-width="1.7"/>
<path d="M289.7,143.5 L290.1,143.8 L290.5,144.1 L290.9,144.5 L291.2,144.9 L291.5,145.4 L291.7,145.9 L292,146.4 L292.1,147 L292.3,147.6 L292.4,148.2 L292.4,148.8 L292.4,149.5 L292.4,150.2 L292.3,150.9 L292.2,151.7 L292,152.4 L291.8,153.1 L291.6,153.9 L291.3,154.6 L291,155.3 L290.6,156 L290.3,156.7 L289.8,157.4 L289.4,158.1 L288.9,158.7 L288.4,159.4 L287.9,159.9 L287.4,160.5 L286.8,161 L286.2,161.5 L285.7,162 L285.1,162.4 L284.5,162.7 L283.9,163 L283.3,163.3 L282.7,163.5 L282.1,163.7 L281.5,163.8 L280.9,163.9 L280.4,163.9 L279.8,163.8 L279.3,163.8 L278.8,163.6 L278.3,163.4 L277.9,163.2 L277.4,162.9 L277.1,162.6 L276.7,162.2 L276.4,161.8 L276.1,161.3 L275.8,160.8 L275.6,160.3 L275.5,159.7 L275.3,159.1 L275.2,158.5 L275.2,157.8 L275.2,157.1 L275.2,156.4 L275.3,155.7 L275.4,155 L275.6,154.3 L275.8,153.5 L276,152.8 L276.3,152.1 L276.6,151.3 L276.9,150.6 L277.3,149.9 L277.7,149.2 L278.2,148.6 L278.7,147.9 L279.2,147.3 L279.7,146.7 L280.2,146.1 L280.8,145.6 L281.3,145.1 L281.9,144.7 L282.5,144.3 L283.1,143.9 L283.7,143.6 L284.3,143.4 L284.9,143.1 L285.5,143 L286.1,142.9 L286.7,142.8 L287.2,142.8 L287.8,142.8 L288.3,142.9 L288.8,143 L289.3,143.2 Z" fill="none" stroke="#111" stroke-width="1.7"/>
<path d="M287,147.9 L287.3,148.1 L287.5,148.3 L287.6,148.5 L287.8,148.7 L288,148.9 L288.1,149.2 L288.2,149.5 L288.3,149.8 L288.3,150.1 L288.4,150.4 L288.4,150.8 L288.4,151.2 L288.4,151.5 L288.3,151.9 L288.2,152.3 L288.1,152.7 L288,153.1 L287.9,153.5 L287.7,153.9 L287.6,154.3 L287.4,154.7 L287.2,155.1 L286.9,155.5 L286.7,155.8 L286.4,156.2 L286.2,156.5 L285.9,156.9 L285.6,157.2 L285.3,157.5 L285,157.7 L284.7,158 L284.4,158.2 L284,158.4 L283.7,158.6 L283.4,158.7 L283.1,158.8 L282.8,158.9 L282.5,159 L282.2,159.1 L281.9,159.1 L281.6,159.1 L281.3,159 L281,158.9 L280.8,158.9 L280.5,158.7 L280.3,158.6 L280.1,158.4 L279.9,158.2 L279.8,158 L279.6,157.7 L279.5,157.5 L279.4,157.2 L279.3,156.9 L279.3,156.5 L279.2,156.2 L279.2,155.9 L279.2,155.5 L279.2,155.1 L279.3,154.7 L279.3,154.3 L279.4,153.9 L279.6,153.5 L279.7,153.1 L279.8,152.7 L280,152.3 L280.2,151.9 L280.4,151.6 L280.6,151.2 L280.9,150.8 L281.1,150.5 L281.4,150.1 L281.7,149.8 L282,149.5 L282.3,149.2 L282.6,148.9 L282.9,148.7 L283.2,148.5 L283.5,148.3 L283.9,148.1 L284.2,147.9 L284.5,147.8 L284.8,147.7 L285.1,147.6 L285.4,147.6 L285.7,147.6 L286,147.6 L286.3,147.6 L286.6,147.7 L286.8,147.8 Z" fill="none" stroke="#111" stroke-width="1.7"/>
<path d="M296.2,163.8 L316.2,153.8 L316.2,172.5 L296.2,182.5 Z" fill="none" stroke="#111" stroke-width="1.8"/>
<path d="M296.2,163.8 L290,161.2 L311.2,150 L316.2,153.8" fill="none" stroke="#111" stroke-width="1.8"/>
<path d="M290,161.2 L290,179.5 L296.2,182.5" fill="none" stroke="#111" stroke-width="1.8"/>
<path d="M309.9,162.3 L310,162.4 L310.2,162.6 L310.4,162.7 L310.5,162.9 L310.6,163.1 L310.7,163.3 L310.8,163.5 L310.9,163.7 L310.9,164 L311,164.2 L311,164.5 L311,164.8 L311,165 L311,165.3 L310.9,165.6 L310.8,165.9 L310.8,166.2 L310.7,166.5 L310.6,166.8 L310.4,167.1 L310.3,167.4 L310.2,167.7 L310,167.9 L309.8,168.2 L309.6,168.5 L309.4,168.7 L309.2,168.9 L309,169.2 L308.8,169.4 L308.5,169.6 L308.3,169.7 L308.1,169.9 L307.8,170 L307.6,170.2 L307.3,170.3 L307.1,170.3 L306.9,170.4 L306.6,170.5 L306.4,170.5 L306.2,170.5 L305.9,170.5 L305.7,170.4 L305.5,170.4 L305.3,170.3 L305.1,170.2 L305,170.1 L304.8,169.9 L304.6,169.8 L304.5,169.6 L304.4,169.4 L304.3,169.2 L304.2,169 L304.1,168.8 L304.1,168.5 L304,168.3 L304,168 L304,167.7 L304,167.5 L304,167.2 L304.1,166.9 L304.2,166.6 L304.2,166.3 L304.3,166 L304.4,165.7 L304.6,165.4 L304.7,165.1 L304.8,164.8 L305,164.6 L305.2,164.3 L305.4,164 L305.6,163.8 L305.8,163.6 L306,163.3 L306.2,163.1 L306.5,162.9 L306.7,162.8 L306.9,162.6 L307.2,162.5 L307.4,162.3 L307.7,162.2 L307.9,162.2 L308.1,162.1 L308.4,162 L308.6,162 L308.8,162 L309.1,162 L309.3,162.1 L309.5,162.1 L309.7,162.2 Z" fill="none" stroke="#111" stroke-width="1.7"/>
<path d="M303.6,169 L303.5,168.8 L303.4,168.6 L303.3,168.4 L303.3,168.1 L303.2,167.9 L303.2,167.6 L303.2,167.3 L303.2,167 L303.2,166.7 L303.3,166.4 L303.4,166.1 L303.4,165.8 L303.5,165.5 L303.7,165.2 L303.8,164.9 L303.9,164.7 L304.1,164.4 L304.3,164.1 L304.4,163.8 L304.6,163.6 L304.8,163.3 L305.1,163.1 L305.3,162.9 L305.5,162.7 L305.7,162.5 L306,162.3 L306.2,162.1 L306.5,162 L306.7,161.9 L307,161.8 L307.2,161.7 L307.5,161.7" fill="none" stroke="#111" stroke-width="1.4"/>
<path d="M322.4,184.4 L321.9,184.6 L321.4,184.7 L320.9,184.8 L320.4,184.9 L319.9,184.9 L319.5,184.8 L319,184.7 L318.6,184.6 L318.2,184.5 L317.8,184.3 L317.4,184 L317.1,183.7 L316.8,183.4 L316.5,183.1 L316.3,182.7 L316.1,182.3 L315.9,181.8 L315.7,181.3 L315.6,180.8 L315.5,180.3 L315.5,179.8 L315.5,179.2 L315.5,178.6 L315.6,178 L315.6,177.4 L315.8,176.8 L315.9,176.2 L316.1,175.6 L316.4,175 L316.6,174.4 L316.9,173.8 L317.2,173.2 L317.6,172.6 L317.9,172.1 L318.3,171.6 L318.7,171.1 L319.2,170.6 L319.6,170.1 L320.1,169.7 L320.5,169.3 L321,168.9 L321.5,168.6 L322,168.3 L322.5,168 L323,167.8 L323.5,167.7 L324,167.5 L324.5,167.4 L325,167.4 L325.5,167.4 L325.9,167.4 L326.4,167.5 L326.8,167.6 L327.2,167.8 L327.6,168" fill="none" stroke="#111" stroke-width="1.7"/>
<path d="M330.6,169.7 L330.9,169.9 L331.3,170.2 L331.6,170.5 L331.9,170.9 L332.1,171.3 L332.3,171.7 L332.5,172.1 L332.7,172.6 L332.8,173.1 L332.9,173.6 L332.9,174.2 L332.9,174.7 L332.9,175.3 L332.8,175.9 L332.7,176.5 L332.6,177.1 L332.5,177.7 L332.3,178.3 L332,178.9 L331.8,179.6 L331.5,180.1 L331.2,180.7 L330.8,181.3 L330.5,181.8 L330.1,182.4 L329.7,182.9 L329.2,183.4 L328.8,183.8 L328.3,184.3 L327.9,184.7 L327.4,185 L326.9,185.3 L326.4,185.6 L325.9,185.9 L325.4,186.1 L324.9,186.3 L324.4,186.4 L323.9,186.5 L323.4,186.6 L322.9,186.6 L322.5,186.5 L322,186.4 L321.6,186.3 L321.2,186.2 L320.8,186 L320.4,185.7 L320.1,185.4 L319.8,185.1 L319.5,184.8 L319.3,184.4 L319.1,184 L318.9,183.5 L318.7,183 L318.6,182.5 L318.5,182 L318.5,181.5 L318.5,180.9 L318.5,180.3 L318.6,179.7 L318.6,179.1 L318.8,178.5 L318.9,177.9 L319.1,177.3 L319.4,176.7 L319.6,176.1 L319.9,175.5 L320.2,174.9 L320.6,174.3 L320.9,173.8 L321.3,173.3 L321.7,172.8 L322.2,172.3 L322.6,171.8 L323.1,171.4 L323.5,171 L324,170.6 L324.5,170.3 L325,170 L325.5,169.7 L326,169.5 L326.5,169.4 L327,169.2 L327.5,169.1 L328,169.1 L328.5,169.1 L328.9,169.1 L329.4,169.2 L329.8,169.3 L330.2,169.5 Z" fill="none" stroke="#111" stroke-width="1.7"/>
<path d="M327.6,168 L330.6,169.7" fill="none" stroke="#111" stroke-width="1.7"/>
<path d="M317.8,184.3 L320.8,186" fill="none" stroke="#111" stroke-width="1.7"/>
<path d="M329.3,171.8 L329.6,172 L329.8,172.2 L330,172.4 L330.2,172.7 L330.4,173 L330.6,173.3 L330.7,173.6 L330.8,174 L330.9,174.3 L330.9,174.7 L331,175.1 L331,175.5 L331,176 L330.9,176.4 L330.8,176.8 L330.7,177.3 L330.6,177.7 L330.5,178.2 L330.3,178.6 L330.1,179.1 L329.9,179.5 L329.7,179.9 L329.4,180.3 L329.2,180.8 L328.9,181.1 L328.6,181.5 L328.3,181.9 L327.9,182.2 L327.6,182.5 L327.2,182.8 L326.9,183.1 L326.5,183.3 L326.2,183.6 L325.8,183.7 L325.4,183.9 L325,184 L324.7,184.1 L324.3,184.2 L324,184.2 L323.6,184.3 L323.3,184.2 L323,184.2 L322.7,184.1 L322.4,184 L322.1,183.8 L321.8,183.6 L321.6,183.4 L321.4,183.2 L321.2,182.9 L321,182.7 L320.8,182.4 L320.7,182 L320.6,181.7 L320.5,181.3 L320.5,180.9 L320.4,180.5 L320.4,180.1 L320.4,179.7 L320.5,179.3 L320.6,178.8 L320.6,178.4 L320.8,177.9 L320.9,177.5 L321.1,177 L321.3,176.6 L321.5,176.1 L321.7,175.7 L322,175.3 L322.2,174.9 L322.5,174.5 L322.8,174.1 L323.1,173.8 L323.5,173.4 L323.8,173.1 L324.2,172.8 L324.5,172.5 L324.9,172.3 L325.2,172.1 L325.6,171.9 L326,171.7 L326.3,171.6 L326.7,171.5 L327.1,171.4 L327.4,171.4 L327.8,171.4 L328.1,171.4 L328.4,171.5 L328.7,171.6 L329,171.7 Z" fill="none" stroke="#111" stroke-width="1.6"/>
<path d="M335,177.9 L335.2,178 L335.3,178.2 L335.5,178.3 L335.6,178.5 L335.8,178.7 L335.9,178.9 L336,179.1 L336,179.4 L336.1,179.6 L336.1,179.9 L336.2,180.1 L336.2,180.4 L336.2,180.7 L336.2,181 L336.1,181.3 L336.1,181.6 L336,181.9 L335.9,182.2 L335.8,182.5 L335.7,182.8 L335.5,183.1 L335.4,183.3 L335.2,183.6 L335,183.9 L334.8,184.1 L334.6,184.4 L334.4,184.6 L334.2,184.8 L334,185 L333.7,185.2 L333.5,185.4 L333.3,185.6 L333,185.7 L332.8,185.8 L332.5,185.9 L332.3,186 L332,186.1 L331.8,186.1 L331.5,186.1 L331.3,186.1 L331.1,186.1 L330.8,186.1 L330.6,186 L330.4,185.9 L330.2,185.8 L330.1,185.7 L329.9,185.5 L329.7,185.4 L329.6,185.2 L329.5,185 L329.4,184.8 L329.3,184.6 L329.2,184.4 L329.1,184.1 L329.1,183.8 L329,183.6 L329,183.3 L329,183 L329.1,182.7 L329.1,182.4 L329.2,182.1 L329.2,181.8 L329.3,181.5 L329.4,181.3 L329.6,181 L329.7,180.7 L329.8,180.4 L330,180.1 L330.2,179.8 L330.4,179.6 L330.6,179.3 L330.8,179.1 L331,178.9 L331.2,178.7 L331.5,178.5 L331.7,178.3 L332,178.2 L332.2,178 L332.4,177.9 L332.7,177.8 L332.9,177.7 L333.2,177.7 L333.4,177.6 L333.7,177.6 L333.9,177.6 L334.1,177.6 L334.4,177.7 L334.6,177.7 L334.8,177.8 Z" fill="none" stroke="#111" stroke-width="1.7"/>
<path d="M328.9,174.4 L335,177.9" fill="none" stroke="#111" stroke-width="1.7"/>
<path d="M324.2,182.3 L330.2,185.8" fill="none" stroke="#111" stroke-width="1.7"/>
<path d="M333.9,179.7 L334,179.8 L334.1,179.9 L334.2,179.9 L334.2,180 L334.3,180.1 L334.3,180.2 L334.4,180.4 L334.4,180.5 L334.5,180.6 L334.5,180.7 L334.5,180.9 L334.5,181 L334.5,181.2 L334.5,181.3 L334.4,181.5 L334.4,181.7 L334.4,181.8 L334.3,182 L334.3,182.1 L334.2,182.3 L334.1,182.5 L334,182.6 L333.9,182.8 L333.8,182.9 L333.7,183 L333.6,183.2 L333.5,183.3 L333.4,183.4 L333.3,183.5 L333.2,183.6 L333,183.7 L332.9,183.8 L332.8,183.9 L332.6,184 L332.5,184 L332.4,184.1 L332.2,184.1 L332.1,184.1 L332,184.2 L331.9,184.2 L331.7,184.1 L331.6,184.1 L331.5,184.1 L331.4,184.1 L331.3,184 L331.2,183.9 L331.1,183.9 L331.1,183.8 L331,183.7 L330.9,183.6 L330.9,183.5 L330.8,183.4 L330.8,183.2 L330.8,183.1 L330.7,183 L330.7,182.8 L330.7,182.7 L330.7,182.5 L330.8,182.4 L330.8,182.2 L330.8,182.1 L330.9,181.9 L330.9,181.7 L331,181.6 L331,181.4 L331.1,181.3 L331.2,181.1 L331.3,181 L331.4,180.8 L331.5,180.7 L331.6,180.5 L331.7,180.4 L331.8,180.3 L331.9,180.2 L332.1,180.1 L332.2,180 L332.3,179.9 L332.5,179.8 L332.6,179.7 L332.7,179.7 L332.8,179.6 L333,179.6 L333.1,179.6 L333.2,179.6 L333.3,179.6 L333.5,179.6 L333.6,179.6 L333.7,179.6 L333.8,179.7 Z" fill="none" stroke="#111" stroke-width="1.4"/>
<path d="M345.3,201.6 L344.6,201.7 L343.9,201.7 L343.2,201.6 L342.5,201.5 L341.9,201.3 L341.3,201.1 L340.7,200.8 L340.1,200.5 L339.6,200.1 L339.1,199.6 L338.6,199.2 L338.2,198.6 L337.8,198.1 L337.5,197.5 L337.2,196.8 L337,196.1 L336.8,195.4 L336.6,194.7 L336.5,193.9 L336.5,193.2 L336.5,192.4 L336.5,191.6 L336.6,190.8 L336.8,190 L337,189.2 L337.2,188.3 L337.5,187.6 L337.9,186.8 L338.2,186 L338.7,185.3 L339.1,184.5 L339.6,183.8 L340.2,183.2 L340.7,182.5 L341.3,181.9 L341.9,181.4 L342.6,180.9 L343.3,180.4 L343.9,180 L344.6,179.6 L345.3,179.3 L346,179 L346.8,178.8 L347.5,178.6 L348.2,178.5 L348.9,178.5 L349.6,178.5 L350.3,178.6 L350.9,178.7 L351.6,178.9" fill="none" stroke="#111" stroke-width="1.7"/>
<path d="M354.7,180.5 L355.2,180.8 L355.7,181.2 L356.2,181.7 L356.6,182.2 L357,182.7 L357.4,183.3 L357.7,184 L358,184.6 L358.2,185.3 L358.4,186 L358.5,186.8 L358.6,187.5 L358.6,188.3 L358.6,189.1 L358.5,189.9 L358.3,190.7 L358.2,191.5 L357.9,192.3 L357.7,193.1 L357.4,193.9 L357,194.7 L356.6,195.5 L356.2,196.2 L355.7,196.9 L355.2,197.6 L354.6,198.2 L354,198.9 L353.4,199.4 L352.8,200 L352.1,200.5 L351.5,200.9 L350.8,201.3 L350.1,201.7 L349.4,201.9 L348.7,202.2 L347.9,202.4 L347.2,202.5 L346.5,202.6 L345.8,202.6 L345.1,202.6 L344.5,202.5 L343.8,202.3 L343.2,202.1 L342.6,201.9 L342,201.5 L341.4,201.2 L340.9,200.8 L340.5,200.3 L340,199.8 L339.6,199.2 L339.3,198.7 L339,198 L338.7,197.4 L338.5,196.7 L338.3,196 L338.2,195.2 L338.1,194.5 L338.1,193.7 L338.1,192.9 L338.2,192.1 L338.3,191.3 L338.5,190.5 L338.7,189.7 L339,188.9 L339.3,188.1 L339.7,187.3 L340.1,186.5 L340.5,185.8 L341,185.1 L341.5,184.4 L342,183.7 L342.6,183.1 L343.2,182.6 L343.9,182 L344.5,181.5 L345.2,181.1 L345.9,180.7 L346.6,180.3 L347.3,180.1 L348,179.8 L348.7,179.6 L349.4,179.5 L350.1,179.4 L350.8,179.4 L351.5,179.4 L352.2,179.5 L352.8,179.7 L353.5,179.9 L354.1,180.1 Z" fill="none" stroke="#111" stroke-width="1.7"/>
<path d="M351.7,185.4 L351.9,185.6 L352.2,185.8 L352.4,186 L352.6,186.3 L352.8,186.6 L353,186.9 L353.1,187.2 L353.2,187.5 L353.3,187.9 L353.4,188.2 L353.4,188.6 L353.4,189 L353.4,189.4 L353.4,189.8 L353.3,190.2 L353.3,190.6 L353.2,191.1 L353,191.5 L352.9,191.9 L352.7,192.3 L352.5,192.7 L352.3,193.1 L352.1,193.5 L351.8,193.9 L351.5,194.2 L351.3,194.6 L351,194.9 L350.7,195.2 L350.3,195.5 L350,195.8 L349.7,196 L349.3,196.3 L349,196.4 L348.6,196.6 L348.2,196.8 L347.9,196.9 L347.5,197 L347.2,197 L346.8,197 L346.5,197 L346.2,197 L345.9,196.9 L345.5,196.8 L345.3,196.7 L345,196.6 L344.7,196.4 L344.5,196.2 L344.3,196 L344,195.7 L343.9,195.4 L343.7,195.1 L343.6,194.8 L343.4,194.5 L343.4,194.1 L343.3,193.8 L343.2,193.4 L343.2,193 L343.2,192.6 L343.3,192.2 L343.3,191.8 L343.4,191.4 L343.5,190.9 L343.6,190.5 L343.8,190.1 L343.9,189.7 L344.1,189.3 L344.4,188.9 L344.6,188.5 L344.8,188.1 L345.1,187.7 L345.4,187.4 L345.7,187.1 L346,186.8 L346.3,186.5 L346.7,186.2 L347,186 L347.3,185.7 L347.7,185.5 L348.1,185.4 L348.4,185.2 L348.8,185.1 L349.1,185 L349.5,185 L349.8,185 L350.2,185 L350.5,185 L350.8,185.1 L351.1,185.2 L351.4,185.3 Z" fill="none" stroke="#111" stroke-width="1.7"/>
<path d="M352.1,190.7 L352,191 L352,191.3 L351.9,191.5 L351.8,191.8 L351.7,192 L351.6,192.3 L351.4,192.5 L351.3,192.8 L351.1,193 L351,193.2 L350.8,193.4 L350.6,193.6 L350.4,193.8 L350.2,194 L350,194.2 L349.8,194.3 L349.6,194.5 L349.4,194.6 L349.2,194.7 L349,194.8 L348.8,194.9 L348.6,194.9 L348.4,195 L348.2,195 L348,195 L347.8,195 L347.6,194.9 L347.4,194.9 L347.2,194.8 L347.1,194.7 L346.9,194.6 L346.8,194.5 L346.6,194.4 L346.5,194.2 L346.4,194.1 L346.3,193.9 L346.3,193.7 L346.2,193.5 L346.2,193.3 L346.1,193.1 L346.1,192.8 L346.1,192.6 L346.1,192.4 L346.1,192.1 L346.2,191.9 L346.2,191.6 L346.3,191.3 L346.4,191.1 L346.5,190.8 L346.6,190.6 L346.7,190.3 L346.8,190.1 L347,189.8 L347.1,189.6 L347.3,189.4 L347.5,189.2 L347.6,189 L347.8,188.8 L348,188.6 L348.2,188.4" fill="none" stroke="#111" stroke-width="1.4"/>
<path d="M363,211.8 L362.4,211.7 L361.9,211.6 L361.4,211.3 L360.9,211.1 L360.5,210.8 L360.1,210.4 L359.7,210 L359.4,209.6 L359.1,209.1 L358.9,208.5 L358.6,208 L358.5,207.4 L358.3,206.8 L358.2,206.1 L358.2,205.4 L358.2,204.7 L358.2,204 L358.3,203.3 L358.4,202.6 L358.6,201.8 L358.8,201.1 L359.1,200.3 L359.4,199.6 L359.7,198.9 L360,198.2 L360.4,197.5 L360.9,196.8 L361.3,196.1 L361.8,195.5 L362.3,194.9 L362.9,194.3 L363.4,193.8 L364,193.3 L364.6,192.8 L365.2,192.4 L365.8,192.1 L366.4,191.7 L367.1,191.5 L367.7,191.2 L368.3,191.1 L368.9,191 L369.5,190.9 L370.1,190.9 L370.6,190.9 L371.2,191 L371.7,191.1 L372.2,191.3" fill="none" stroke="#111" stroke-width="1.7"/>
<path d="M372.8,191.6 L378.4,194.7" fill="none" stroke="#111" stroke-width="1.7"/>
<path d="M361.1,211.2 L366.7,214.3" fill="none" stroke="#111" stroke-width="1.7"/>
<path d="M378.4,194.7 L378.9,195 L379.3,195.4 L379.6,195.7 L380,196.2 L380.3,196.6 L380.6,197.2 L380.8,197.7 L381,198.3 L381.1,198.9 L381.2,199.5 L381.3,200.2 L381.3,200.9 L381.3,201.6 L381.2,202.3 L381.1,203 L381,203.7 L380.8,204.5 L380.6,205.2 L380.3,205.9 L380,206.6 L379.6,207.4 L379.3,208.1 L378.9,208.7 L378.4,209.4 L377.9,210 L377.5,210.7 L376.9,211.2 L376.4,211.8 L375.8,212.3 L375.3,212.8 L374.7,213.2 L374.1,213.6 L373.5,213.9 L372.9,214.2 L372.2,214.5 L371.6,214.7 L371,214.9 L370.4,215 L369.8,215 L369.3,215 L368.7,215 L368.2,214.9 L367.6,214.7 L367.1,214.5 L366.7,214.3 L366.2,214 L365.8,213.6 L365.5,213.2 L365.1,212.8 L364.8,212.3 L364.5,211.8 L364.3,211.3 L364.1,210.7 L364,210.1 L363.9,209.5 L363.8,208.8 L363.8,208.1 L363.8,207.4 L363.9,206.7 L364,206 L364.1,205.3 L364.3,204.5 L364.5,203.8 L364.8,203.1 L365.1,202.3 L365.5,201.6 L365.8,200.9 L366.2,200.2 L366.7,199.6 L367.2,198.9 L367.7,198.3 L368.2,197.7 L368.7,197.2 L369.3,196.7 L369.8,196.2 L370.4,195.8 L371,195.4 L371.6,195 L372.3,194.7 L372.9,194.5 L373.5,194.3 L374.1,194.1 L374.7,194 L375.3,194 L375.8,194 L376.4,194 L376.9,194.1 L377.5,194.3 L378,194.5 Z" fill="none" stroke="#111" stroke-width="1.7"/>
<path d="M377.2,196.8 L377.5,197 L377.8,197.3 L378.1,197.6 L378.4,197.9 L378.6,198.3 L378.8,198.7 L379,199.1 L379.1,199.5 L379.2,200 L379.3,200.5 L379.3,201 L379.3,201.5 L379.3,202.1 L379.3,202.7 L379.2,203.2 L379.1,203.8 L378.9,204.4 L378.7,204.9 L378.5,205.5 L378.3,206.1 L378,206.7 L377.7,207.2 L377.4,207.7 L377,208.3 L376.6,208.8 L376.3,209.3 L375.8,209.7 L375.4,210.1 L375,210.6 L374.5,210.9 L374.1,211.3 L373.6,211.6 L373.1,211.9 L372.7,212.1 L372.2,212.3 L371.7,212.5 L371.3,212.6 L370.8,212.7 L370.3,212.8 L369.9,212.8 L369.5,212.7 L369.1,212.7 L368.7,212.5 L368.3,212.4 L367.9,212.2 L367.6,212 L367.3,211.7 L367,211.4 L366.7,211.1 L366.5,210.7 L366.3,210.3 L366.1,209.9 L366,209.4 L365.9,209 L365.8,208.5 L365.8,208 L365.8,207.4 L365.8,206.9 L365.8,206.3 L365.9,205.8 L366.1,205.2 L366.2,204.6 L366.4,204 L366.6,203.5 L366.9,202.9 L367.1,202.3 L367.4,201.8 L367.7,201.2 L368.1,200.7 L368.5,200.2 L368.8,199.7 L369.3,199.3 L369.7,198.8 L370.1,198.4 L370.6,198 L371,197.7 L371.5,197.4 L372,197.1 L372.4,196.9 L372.9,196.7 L373.4,196.5 L373.8,196.4 L374.3,196.3 L374.8,196.2 L375.2,196.2 L375.6,196.3 L376.1,196.3 L376.5,196.4 L376.8,196.6 Z" fill="none" stroke="#111" stroke-width="1.6"/>
<path d="M376.2,198.5 L376.4,198.7 L376.6,198.9 L376.9,199.1 L377.1,199.3 L377.2,199.6 L377.4,199.9 L377.5,200.3 L377.6,200.6 L377.7,201 L377.7,201.4 L377.8,201.7 L377.8,202.2 L377.7,202.6 L377.7,203 L377.6,203.5 L377.5,203.9 L377.4,204.3 L377.3,204.8 L377.1,205.2 L376.9,205.7 L376.7,206.1 L376.4,206.5 L376.2,207 L375.9,207.4 L375.6,207.8 L375.3,208.1 L375,208.5 L374.7,208.8 L374.4,209.2 L374,209.5 L373.7,209.7 L373.3,210 L372.9,210.2 L372.6,210.4 L372.2,210.5 L371.9,210.7 L371.5,210.8 L371.1,210.9 L370.8,210.9 L370.5,210.9 L370.1,210.9 L369.8,210.8 L369.5,210.7 L369.2,210.6 L368.9,210.5 L368.7,210.3 L368.5,210.1 L368.2,209.9 L368,209.6 L367.9,209.4 L367.7,209 L367.6,208.7 L367.5,208.4 L367.4,208 L367.4,207.6 L367.3,207.2 L367.3,206.8 L367.4,206.4 L367.4,206 L367.5,205.5 L367.6,205.1 L367.7,204.6 L367.9,204.2 L368,203.7 L368.2,203.3 L368.4,202.9 L368.7,202.4 L368.9,202 L369.2,201.6 L369.5,201.2 L369.8,200.8 L370.1,200.5 L370.4,200.1 L370.7,199.8 L371.1,199.5 L371.4,199.3 L371.8,199 L372.2,198.8 L372.5,198.6 L372.9,198.4 L373.3,198.3 L373.6,198.2 L374,198.1 L374.3,198.1 L374.6,198.1 L375,198.1 L375.3,198.1 L375.6,198.2 L375.9,198.3 Z" fill="none" stroke="#111" stroke-width="2.7"/>
<path d="M374.4,201.4 L374.5,201.5 L374.7,201.6 L374.8,201.7 L374.9,201.9 L375,202 L375,202.2 L375.1,202.3 L375.2,202.5 L375.2,202.7 L375.2,202.9 L375.3,203.1 L375.3,203.3 L375.2,203.5 L375.2,203.7 L375.2,204 L375.1,204.2 L375.1,204.4 L375,204.7 L374.9,204.9 L374.8,205.1 L374.7,205.3 L374.6,205.6 L374.5,205.8 L374.3,206 L374.2,206.2 L374,206.4 L373.9,206.6 L373.7,206.7 L373.5,206.9 L373.3,207.1 L373.1,207.2 L373,207.3 L372.8,207.4 L372.6,207.5 L372.4,207.6 L372.2,207.7 L372,207.7 L371.8,207.8 L371.7,207.8 L371.5,207.8 L371.3,207.8 L371.1,207.8 L371,207.7 L370.8,207.7 L370.7,207.6 L370.6,207.5 L370.4,207.4 L370.3,207.3 L370.2,207.1 L370.1,207 L370.1,206.8 L370,206.7 L369.9,206.5 L369.9,206.3 L369.9,206.1 L369.8,205.9 L369.8,205.7 L369.9,205.5 L369.9,205.2 L369.9,205 L370,204.8 L370,204.5 L370.1,204.3 L370.2,204.1 L370.3,203.9 L370.4,203.6 L370.5,203.4 L370.6,203.2 L370.8,203 L370.9,202.8 L371.1,202.6 L371.2,202.4 L371.4,202.2 L371.6,202.1 L371.8,201.9 L372,201.8 L372.1,201.7 L372.3,201.5 L372.5,201.4 L372.7,201.4 L372.9,201.3 L373.1,201.2 L373.3,201.2 L373.4,201.2 L373.6,201.2 L373.8,201.2 L374,201.2 L374.1,201.3 L374.3,201.3 Z" fill="none" stroke="#111" stroke-width="1.6"/>
<path d="M440.3,235.8 L440.6,236 L440.9,236.2 L441.2,236.5 L441.4,236.8 L441.6,237.1 L441.8,237.5 L442,237.8 L442.1,238.2 L442.2,238.7 L442.3,239.1 L442.3,239.5 L442.4,240 L442.3,240.5 L442.3,241 L442.2,241.5 L442.1,242 L442,242.5 L441.9,243 L441.7,243.5 L441.5,244 L441.2,244.5 L441,245 L440.7,245.4 L440.4,245.9 L440.1,246.3 L439.7,246.7 L439.4,247.1 L439,247.5 L438.6,247.8 L438.2,248.2 L437.8,248.5 L437.4,248.7 L437,249 L436.6,249.2 L436.1,249.3 L435.7,249.5 L435.3,249.6 L434.9,249.6 L434.5,249.7 L434.1,249.7 L433.7,249.6 L433.3,249.6 L432.9,249.5 L432.6,249.3 L432.3,249.1 L432,248.9 L431.7,248.7 L431.4,248.4 L431.2,248.1 L431,247.8 L430.8,247.5 L430.6,247.1 L430.5,246.7 L430.4,246.3 L430.3,245.8 L430.2,245.4 L430.2,244.9 L430.2,244.4 L430.3,243.9 L430.3,243.4 L430.4,242.9 L430.6,242.4 L430.7,241.9 L430.9,241.4 L431.1,240.9 L431.3,240.4 L431.6,240 L431.9,239.5 L432.2,239 L432.5,238.6 L432.8,238.2 L433.2,237.8 L433.6,237.4 L434,237.1 L434.4,236.8 L434.8,236.5 L435.2,236.2 L435.6,236 L436,235.8 L436.4,235.6 L436.9,235.4 L437.3,235.3 L437.7,235.3 L438.1,235.2 L438.5,235.2 L438.9,235.3 L439.3,235.4 L439.6,235.5 L440,235.6 Z" fill="none" stroke="#111" stroke-width="1.8"/>
<path d="M382.2,219.9 L381.9,219.6 L381.6,219.4 L381.3,219.1 L381.1,218.8 L380.8,218.5 L380.7,218.2 L380.5,217.8 L380.4,217.4 L380.3,217 L380.2,216.5 L380.1,216.1 L380.1,215.6 L380.1,215.1 L380.2,214.6 L380.2,214.1 L380.3,213.6 L380.5,213.1 L380.6,212.6 L380.8,212.1 L381,211.6 L381.2,211.2 L381.5,210.7 L381.8,210.2 L382.1,209.8 L382.4,209.3 L382.7,208.9 L383.1,208.5 L383.5,208.1 L383.9,207.8 L384.2,207.5 L384.7,207.2 L385.1,206.9 L385.5,206.7 L385.9,206.5 L386.3,206.3 L386.8,206.2 L387.2,206.1 L387.6,206 L388,206 L388.4,206 L388.8,206 L389.2,206.1 L389.5,206.2 L389.9,206.3 L390.2,206.5" fill="none" stroke="#111" stroke-width="1.8"/>
<path d="M390.2,206.5 L440.3,235.8" fill="none" stroke="#111" stroke-width="1.8"/>
<path d="M382.2,219.9 L432.3,249.1" fill="none" stroke="#111" stroke-width="1.8"/>
<path d="M385.6,221.9 L385.3,221.7 L385,221.4 L384.8,221.2 L384.5,220.9 L384.3,220.5 L384.1,220.2 L384,219.8 L383.8,219.4 L383.7,219 L383.6,218.6 L383.6,218.1 L383.6,217.6 L383.6,217.2 L383.6,216.7 L383.7,216.2 L383.8,215.7 L383.9,215.2 L384.1,214.7 L384.2,214.2 L384.5,213.7 L384.7,213.2 L384.9,212.7 L385.2,212.2 L385.5,211.8 L385.9,211.3 L386.2,210.9 L386.5,210.5 L386.9,210.2 L387.3,209.8 L387.7,209.5 L388.1,209.2 L388.5,208.9 L388.9,208.7 L389.4,208.5 L389.8,208.3 L390.2,208.2 L390.6,208.1 L391,208 L391.5,208 L391.9,208 L392.2,208 L392.6,208.1 L393,208.2 L393.3,208.3 L393.6,208.5" fill="none" stroke="#111" stroke-width="1.6"/>
<path d="M434.3,232.2 L434.6,232.4 L434.9,232.7 L435.1,233 L435.4,233.3 L435.6,233.6 L435.8,233.9 L435.9,234.3 L436.1,234.7 L436.2,235.1 L436.2,235.6 L436.3,236 L436.3,236.5 L436.3,237 L436.3,237.5 L436.2,237.9 L436.1,238.4 L436,239 L435.8,239.5 L435.6,240 L435.4,240.5 L435.2,240.9 L434.9,241.4 L434.6,241.9 L434.3,242.3 L434,242.8 L433.7,243.2 L433.3,243.6 L433,244 L432.6,244.3 L432.2,244.6 L431.8,244.9 L431.3,245.2 L430.9,245.4 L430.5,245.6 L430.1,245.8 L429.7,245.9 L429.2,246 L428.8,246.1 L428.4,246.1 L428,246.1 L427.6,246.1 L427.3,246 L426.9,245.9 L426.5,245.8 L426.2,245.6" fill="none" stroke="#111" stroke-width="1.6"/>
<path d="M438.5,238.9 L438.6,239 L438.8,239.1 L438.9,239.2 L439,239.4 L439.1,239.6 L439.2,239.7 L439.3,239.9 L439.3,240.1 L439.4,240.4 L439.4,240.6 L439.5,240.8 L439.5,241.1 L439.4,241.3 L439.4,241.6 L439.4,241.9 L439.3,242.1 L439.2,242.4 L439.2,242.7 L439.1,242.9 L438.9,243.2 L438.8,243.5 L438.7,243.7 L438.5,244 L438.4,244.2 L438.2,244.5 L438,244.7 L437.8,244.9 L437.6,245.1 L437.4,245.3 L437.2,245.5 L437,245.6 L436.8,245.8 L436.6,245.9 L436.3,246 L436.1,246.1 L435.9,246.2 L435.7,246.2 L435.5,246.3 L435.3,246.3 L435,246.3 L434.8,246.3 L434.7,246.3 L434.5,246.2 L434.3,246.1 L434.1,246.1 L434,246 L433.8,245.8 L433.7,245.7 L433.6,245.5 L433.5,245.4 L433.4,245.2 L433.3,245 L433.2,244.8 L433.2,244.6 L433.1,244.3 L433.1,244.1 L433.1,243.8 L433.1,243.6 L433.2,243.3 L433.2,243.1 L433.3,242.8 L433.3,242.5 L433.4,242.2 L433.5,242 L433.6,241.7 L433.8,241.5 L433.9,241.2 L434.1,240.9 L434.2,240.7 L434.4,240.5 L434.6,240.2 L434.8,240 L435,239.8 L435.2,239.6 L435.4,239.5 L435.6,239.3 L435.8,239.1 L436,239 L436.2,238.9 L436.5,238.8 L436.7,238.7 L436.9,238.7 L437.1,238.6 L437.3,238.6 L437.5,238.6 L437.7,238.6 L437.9,238.6 L438.1,238.7 L438.3,238.8 Z" fill="none" stroke="#111" stroke-width="1.6"/>
<path d="M435.7,244.6 L435.5,244.7 L435.3,244.9 L435.1,245 L434.8,245.1 L434.6,245.2 L434.4,245.3 L434.2,245.3 L434,245.4 L433.8,245.4 L433.5,245.4 L433.3,245.4 L433.2,245.4 L433,245.3 L432.8,245.2 L432.6,245.2 L432.5,245.1 L432.3,244.9 L432.2,244.8 L432.1,244.6 L432,244.5 L431.9,244.3 L431.8,244.1 L431.7,243.9 L431.7,243.7 L431.6,243.4 L431.6,243.2 L431.6,242.9 L431.6,242.7 L431.7,242.4 L431.7,242.2 L431.8,241.9 L431.8,241.6 L431.9,241.3 L432,241.1 L432.1,240.8 L432.3,240.6 L432.4,240.3 L432.6,240 L432.7,239.8 L432.9,239.6 L433.1,239.3 L433.3,239.1 L433.5,238.9 L433.7,238.7 L433.9,238.6 L434.1,238.4 L434.3,238.2 L434.5,238.1 L434.7,238 L435,237.9" fill="none" stroke="#111" stroke-width="1.4"/>
<path d="M251.5,194.7 L277,183.6" fill="none" stroke="#111" stroke-width="1.7"/>
<path d="M249.5,189.9 L275,178.8" fill="none" stroke="#111" stroke-width="1.7"/>
<path d="M251,194.9 L250,189.7" fill="none" stroke="#111" stroke-width="1.6"/>
<path d="M252.8,194.1 L251.8,188.9" fill="none" stroke="#111" stroke-width="1.6"/>
<path d="M254.7,193.3 L253.7,188.1" fill="none" stroke="#111" stroke-width="1.6"/>
<path d="M256.5,192.5 L255.5,187.3" fill="none" stroke="#111" stroke-width="1.6"/>
<path d="M258.3,191.7 L257.3,186.5" fill="none" stroke="#111" stroke-width="1.6"/>
<path d="M260.2,190.9 L259.2,185.7" fill="none" stroke="#111" stroke-width="1.6"/>
<path d="M262,190.1 L261,184.9" fill="none" stroke="#111" stroke-width="1.6"/>
<path d="M263.8,189.3 L262.8,184.1" fill="none" stroke="#111" stroke-width="1.6"/>
<path d="M265.7,188.5 L264.7,183.3" fill="none" stroke="#111" stroke-width="1.6"/>
<path d="M267.5,187.7 L266.5,182.5" fill="none" stroke="#111" stroke-width="1.6"/>
<path d="M269.3,186.9 L268.4,181.7" fill="none" stroke="#111" stroke-width="1.6"/>
<path d="M271.2,186.1 L270.2,180.9" fill="none" stroke="#111" stroke-width="1.6"/>
<path d="M273,185.3 L272,180.1" fill="none" stroke="#111" stroke-width="1.6"/>
<path d="M272.3,179.7 L273.9,175.8 L278.9,173.6 L283.1,175 L285.7,180.1 L284.2,184 L279.1,186.2 L275,184.8 Z" fill="#fff" stroke="#111" stroke-width="1.7"/>
<path d="M279.1,186.2 L275,184.8 L272.3,179.7 L273.9,175.8 L278,177.2 L280.7,182.3 Z" fill="none" stroke="#111" stroke-width="1.7"/>
<path d="M279.1,186.2 L284.2,184" fill="none" stroke="#111" stroke-width="1.7"/>
<path d="M273.9,175.8 L278.9,173.6" fill="none" stroke="#111" stroke-width="1.7"/>
<path d="M278,177.2 L283.1,175" fill="none" stroke="#111" stroke-width="1.7"/>
<path d="M280.7,182.3 L285.7,180.1" fill="none" stroke="#111" stroke-width="1.7"/>
<path d="M277.8,183.6 L277.7,183.6 L277.6,183.7 L277.5,183.7 L277.3,183.7 L277.2,183.7 L277.1,183.7 L276.9,183.7 L276.8,183.6 L276.6,183.6 L276.5,183.5 L276.3,183.4 L276.2,183.3 L276,183.2 L275.9,183.1 L275.8,183 L275.6,182.9 L275.5,182.7 L275.4,182.6 L275.3,182.4 L275.2,182.3 L275,182.1 L274.9,181.9 L274.9,181.7 L274.8,181.5 L274.7,181.4 L274.6,181.2 L274.6,181 L274.5,180.8 L274.5,180.6 L274.5,180.4 L274.4,180.2 L274.4,180.1 L274.4,179.9 L274.4,179.7 L274.5,179.5 L274.5,179.4 L274.5,179.2 L274.6,179.1 L274.6,179 L274.7,178.9 L274.8,178.7 L274.9,178.6 L275,178.6 L275.1,178.5 L275.2,178.4 L275.3,178.4 L275.4,178.3 L275.5,178.3 L275.7,178.3 L275.8,178.3 L275.9,178.3 L276.1,178.3 L276.2,178.4 L276.4,178.4 L276.5,178.5 L276.7,178.6 L276.8,178.7 L277,178.8 L277.1,178.9 L277.2,179 L277.4,179.1 L277.5,179.3 L277.6,179.4 L277.7,179.6 L277.8,179.7 L278,179.9 L278.1,180.1 L278.1,180.3 L278.2,180.5 L278.3,180.6 L278.4,180.8 L278.4,181 L278.5,181.2 L278.5,181.4 L278.5,181.6 L278.6,181.8 L278.6,181.9 L278.6,182.1 L278.6,182.3 L278.5,182.5 L278.5,182.6 L278.5,182.8 L278.4,182.9 L278.4,183 L278.3,183.1 L278.2,183.3 L278.1,183.4 L278,183.4 L277.9,183.5 Z" fill="none" stroke="#111" stroke-width="1.7"/>
<path d="M233.7,199.6 L235.2,195.4 L240.2,192.8 L244.5,194.1 L247.3,199.5 L245.8,203.7 L240.8,206.2 L236.5,205 Z" fill="#fff" stroke="#111" stroke-width="1.7"/>
<path d="M240.8,206.2 L236.5,205 L233.7,199.6 L235.2,195.4 L239.5,196.6 L242.3,202 Z" fill="none" stroke="#111" stroke-width="1.7"/>
<path d="M240.8,206.2 L245.8,203.7" fill="none" stroke="#111" stroke-width="1.7"/>
<path d="M235.2,195.4 L240.2,192.8" fill="none" stroke="#111" stroke-width="1.7"/>
<path d="M239.5,196.6 L244.5,194.1" fill="none" stroke="#111" stroke-width="1.7"/>
<path d="M242.3,202 L247.3,199.5" fill="none" stroke="#111" stroke-width="1.7"/>
<path d="M239.1,203 L239,203 L238.9,203 L238.8,203.1 L238.7,203.1 L238.6,203.1 L238.5,203.1 L238.3,203 L238.2,203 L238.1,203 L238,202.9 L237.9,202.8 L237.7,202.8 L237.6,202.7 L237.5,202.6 L237.4,202.5 L237.3,202.4 L237.2,202.3 L237.1,202.1 L237,202 L236.9,201.9 L236.8,201.7 L236.7,201.6 L236.6,201.4 L236.5,201.3 L236.5,201.1 L236.4,200.9 L236.4,200.8 L236.3,200.6 L236.3,200.5 L236.3,200.3 L236.3,200.2 L236.3,200 L236.3,199.9 L236.3,199.7 L236.3,199.6 L236.3,199.4 L236.3,199.3 L236.4,199.2 L236.4,199.1 L236.5,199 L236.6,198.9 L236.6,198.8 L236.7,198.7 L236.8,198.7 L236.9,198.6 L237,198.6 L237.1,198.6 L237.2,198.5 L237.3,198.5 L237.4,198.5 L237.5,198.5 L237.7,198.6 L237.8,198.6 L237.9,198.6 L238,198.7 L238.1,198.8 L238.3,198.8 L238.4,198.9 L238.5,199 L238.6,199.1 L238.7,199.2 L238.8,199.3 L238.9,199.5 L239,199.6 L239.1,199.7 L239.2,199.9 L239.3,200 L239.4,200.2 L239.5,200.3 L239.5,200.5 L239.6,200.7 L239.6,200.8 L239.7,201 L239.7,201.1 L239.7,201.3 L239.7,201.4 L239.7,201.6 L239.7,201.7 L239.7,201.9 L239.7,202 L239.7,202.2 L239.7,202.3 L239.6,202.4 L239.6,202.5 L239.5,202.6 L239.4,202.7 L239.4,202.8 L239.3,202.9 L239.2,202.9 Z" fill="none" stroke="#111" stroke-width="1.7"/>
<path d="M158.8,251.3 L306.3,251.3 L306.3,370.3 L158.8,370.3 Z" fill="none" stroke="#111" stroke-width="1.8"/>
<path d="M174.4,347.5 L175.6,341.2 L180,336.2 L186.2,333.8 L190,334.4 L191.9,331.9 L196.2,331.2 L198.8,333.1 L206.2,338.8 L207.5,347.5 L202.5,352.5 L195,358.1 L190,360.6 L185.6,360 L184.4,362.5 L180,363.1 L178.8,357.5 L176.2,353.8 Z" fill="none" stroke="#111" stroke-width="2"/>
<path d="M187.5,360 C187.4,358.5 186.5,353.9 186.9,351.2 C187.3,348.6 188.4,346 190,344.4 C191.6,342.7 193.6,342 196.2,341.2 C198.9,340.5 204.1,340 205.6,339.8" fill="none" stroke="#111" stroke-width="1.7"/>
<path d="M197.5,348.9 L197.7,349.1 L197.8,349.3 L197.9,349.5 L197.9,349.7 L198,349.9 L198,350.1 L198,350.4 L198,350.6 L198,350.9 L198,351.1 L197.9,351.4 L197.8,351.7 L197.7,351.9 L197.6,352.2 L197.5,352.5 L197.3,352.7 L197.2,353 L197,353.2 L196.8,353.5 L196.6,353.7 L196.4,353.9 L196.1,354.1 L195.9,354.4 L195.6,354.5 L195.4,354.7 L195.1,354.9 L194.8,355 L194.5,355.2 L194.2,355.3 L194,355.4 L193.7,355.5 L193.4,355.6 L193.1,355.6 L192.8,355.7 L192.6,355.7 L192.3,355.7 L192.1,355.6 L191.8,355.6 L191.6,355.5 L191.4,355.5 L191.2,355.4 L191,355.3 L190.8,355.1 L190.6,355 L190.5,354.8 L190.3,354.7 L190.2,354.5 L190.1,354.3 L190.1,354.1 L190,353.8 L190,353.6 L190,353.4 L190,353.1 L190,352.9 L190,352.6 L190.1,352.4 L190.2,352.1 L190.3,351.8 L190.4,351.6 L190.5,351.3 L190.7,351 L190.8,350.8 L191,350.5 L191.2,350.3 L191.4,350 L191.6,349.8 L191.9,349.6 L192.1,349.4 L192.4,349.2 L192.6,349 L192.9,348.9 L193.2,348.7 L193.5,348.6 L193.8,348.4 L194,348.3 L194.3,348.3 L194.6,348.2 L194.9,348.1 L195.2,348.1 L195.4,348.1 L195.7,348.1 L195.9,348.1 L196.2,348.1 L196.4,348.2 L196.6,348.3 L196.8,348.4 L197,348.5 L197.2,348.6 L197.4,348.8 Z" fill="none" stroke="#111" stroke-width="1.7"/>
<path d="M197,351 L197,351.2 L197,351.3 L197,351.5 L196.9,351.6 L196.9,351.8 L196.8,351.9 L196.7,352.1 L196.6,352.2 L196.5,352.4 L196.4,352.6 L196.3,352.7 L196.2,352.8 L196,353 L195.9,353.1 L195.8,353.3 L195.6,353.4 L195.4,353.5 L195.3,353.6 L195.1,353.7 L195,353.8 L194.8,353.9 L194.6,353.9 L194.4,354 L194.3,354 L194.1,354.1 L193.9,354.1 L193.8,354.1 L193.6,354.1 L193.5,354.1 L193.3,354.1 L193.2,354.1 L193,354.1 L192.9,354 L192.8,354 L192.7,353.9 L192.6,353.8 L192.5,353.7 L192.4,353.6 L192.3,353.5 L192.3,353.4 L192.2,353.3 L192.2,353.2 L192.2,353 L192.2,352.9 L192.2,352.7 L192.2,352.6 L192.2,352.4 L192.2,352.3 L192.3,352.1 L192.3,352 L192.4,351.8 L192.5,351.7 L192.6,351.5 L192.7,351.3 L192.8,351.2" fill="none" stroke="#111" stroke-width="1.4"/>
<path d="M180.2,340.6 L181.9,338.8 L183.8,340 L183.5,347.5 L181,350.6 Z" fill="none" stroke="#111" stroke-width="1.6"/>
<path d="M181.9,338.8 L181.9,348.8" fill="none" stroke="#111" stroke-width="1.4"/>
<path d="M190,334.4 L189.8,338.1 L195,338.8 L196.2,331.2" fill="none" stroke="#111" stroke-width="1.6"/>
<path d="M191.9,331.9 L191.6,337.8" fill="none" stroke="#111" stroke-width="1.4"/>
<path d="M195,338.8 L198.8,333.1" fill="none" stroke="#111" stroke-width="1.4"/>
<path d="M181,355 L181.2,362.5" fill="none" stroke="#111" stroke-width="1.4"/>
<path d="M183.8,356.2 L184.4,361.9" fill="none" stroke="#111" stroke-width="1.4"/>
<path d="M205.2,336.5 L223.5,327.2" fill="none" stroke="#111" stroke-width="1.7"/>
<path d="M207.2,341.5 L226,331.5" fill="none" stroke="#111" stroke-width="1.7"/>
<path d="M208.8,334.8 C209,335.1 210.3,336 210.5,336.8 C210.7,337.5 210.1,339 210,339.5" fill="none" stroke="#111" stroke-width="1.6"/>
<path d="M210.9,333.6 C211.2,334 212.5,334.9 212.7,335.6 C212.9,336.4 212.3,337.9 212.2,338.4" fill="none" stroke="#111" stroke-width="1.6"/>
<path d="M213.1,332.6 C213.4,332.9 214.7,333.8 214.9,334.6 C215.1,335.3 214.5,336.8 214.4,337.3" fill="none" stroke="#111" stroke-width="1.6"/>
<path d="M215.3,331.4 C215.6,331.8 216.9,332.7 217.1,333.4 C217.3,334.2 216.6,335.7 216.6,336.2" fill="none" stroke="#111" stroke-width="1.6"/>
<path d="M217.5,330.4 C217.8,330.7 219,331.6 219.2,332.4 C219.5,333.1 218.8,334.6 218.8,335.1" fill="none" stroke="#111" stroke-width="1.6"/>
<path d="M219.7,329.2 C220,329.6 221.2,330.5 221.4,331.2 C221.6,332 221,333.5 220.9,334" fill="none" stroke="#111" stroke-width="1.6"/>
<path d="M221.9,328.1 C222.2,328.5 223.4,329.4 223.6,330.1 C223.8,330.9 223.2,332.4 223.1,332.9" fill="none" stroke="#111" stroke-width="1.6"/>
<path d="M224.1,327.1 C224.4,327.4 225.6,328.3 225.8,329.1 C226,329.8 225.4,331.3 225.3,331.8" fill="none" stroke="#111" stroke-width="1.6"/>
<path d="M223.5,327.2 C223.9,327.5 225.3,327.8 225.8,328.5 C226.2,329.2 226,331 226,331.5" fill="none" stroke="#111" stroke-width="1.6"/>
<path d="M233.1,304.4 L237.5,296.9 L240,297.5 L256.9,308.1 L257.5,331.2 L254.4,335 L246.2,335.6 L233.1,328.1 Z" fill="none" stroke="#111" stroke-width="2"/>
<path d="M235,305 L238.8,299.4 L252.5,308.8 L252.5,333.1" fill="none" stroke="#111" stroke-width="1.6"/>
<path d="M240,297.5 L238.8,299.4" fill="none" stroke="#111" stroke-width="1.4"/>
<path d="M252.5,308.8 L256.9,308.1" fill="none" stroke="#111" stroke-width="1.4"/>
<path d="M235,305 L242.5,309.4 L245,312.5 L250,315 L250,321.2 L246.9,323.1 L247.5,329.4 L245,332.5 L240,329.4 L235,326.2 L234.4,317.5 L235,305" fill="none" stroke="#111" stroke-width="1.7"/>
<path d="M236,312.5 L235.8,317.5" fill="none" stroke="#111" stroke-width="2.1"/>
<path d="M243.1,316.2 L245,317.5 L244,319.4" fill="none" stroke="#111" stroke-width="1.7"/>
<path d="M254.4,335 L254,311.2" fill="none" stroke="#111" stroke-width="1.4"/>
<path d="M267.6,312.2 L267.3,312.3 L267,312.4 L266.7,312.5 L266.4,312.5 L266.1,312.5 L265.7,312.5 L265.4,312.4 L265,312.3 L264.7,312.1 L264.3,312 L264,311.8 L263.6,311.5 L263.3,311.3 L263,311 L262.6,310.7 L262.3,310.4 L262,310 L261.7,309.6 L261.4,309.2 L261.1,308.8 L260.8,308.4 L260.6,308 L260.4,307.5 L260.1,307.1 L260,306.6 L259.8,306.1 L259.6,305.7 L259.5,305.2 L259.4,304.7 L259.3,304.3 L259.3,303.8 L259.3,303.4 L259.3,303 L259.3,302.5 L259.3,302.1 L259.4,301.8 L259.5,301.4 L259.6,301.1 L259.8,300.7 L259.9,300.4 L260.1,300.2 L260.3,299.9 L260.5,299.7 L260.8,299.5 L261,299.4 L261.3,299.3 L261.6,299.2 L261.9,299.1 L262.2,299.1 L262.5,299.1 L262.9,299.1 L263.2,299.2 L263.6,299.3 L263.9,299.5 L264.3,299.6 L264.6,299.8 L265,300.1 L265.3,300.3 L265.6,300.6 L266,300.9 L266.3,301.2 L266.6,301.6 L266.9,302 L267.2,302.4 L267.5,302.8 L267.8,303.2 L268,303.6 L268.2,304.1 L268.5,304.5 L268.6,305 L268.8,305.5 L269,305.9 L269.1,306.4 L269.2,306.9 L269.3,307.3 L269.3,307.8 L269.3,308.2 L269.3,308.6 L269.3,309.1 L269.3,309.5 L269.2,309.8 L269.1,310.2 L269,310.5 L268.8,310.9 L268.7,311.2 L268.5,311.4 L268.3,311.7 L268.1,311.9 L267.8,312.1 Z" fill="none" stroke="#111" stroke-width="1.8"/>
<path d="M265.3,307.8 L265.3,307.9 L265.2,307.9 L265.1,307.9 L265,307.9 L264.9,307.9 L264.7,307.9 L264.6,307.9 L264.5,307.9 L264.4,307.8 L264.3,307.8 L264.2,307.7 L264.1,307.6 L264,307.6 L263.8,307.5 L263.7,307.4 L263.6,307.3 L263.5,307.2 L263.4,307 L263.3,306.9 L263.3,306.8 L263.2,306.6 L263.1,306.5 L263,306.4 L263,306.2 L262.9,306.1 L262.8,305.9 L262.8,305.8 L262.8,305.6 L262.7,305.5 L262.7,305.3 L262.7,305.2 L262.7,305 L262.7,304.9 L262.7,304.8 L262.7,304.6 L262.7,304.5 L262.8,304.4 L262.8,304.3 L262.8,304.2 L262.9,304.1 L263,304 L263,303.9 L263.1,303.9 L263.2,303.8 L263.3,303.8 L263.3,303.7 L263.4,303.7 L263.5,303.7 L263.6,303.7 L263.7,303.7 L263.9,303.7 L264,303.7 L264.1,303.7 L264.2,303.8 L264.3,303.8 L264.4,303.9 L264.5,304 L264.6,304 L264.8,304.1 L264.9,304.2 L265,304.3 L265.1,304.4 L265.2,304.6 L265.3,304.7 L265.3,304.8 L265.4,305 L265.5,305.1 L265.6,305.2 L265.6,305.4 L265.7,305.5 L265.8,305.7 L265.8,305.8 L265.8,306 L265.9,306.1 L265.9,306.3 L265.9,306.4 L265.9,306.6 L265.9,306.7 L265.9,306.8 L265.9,307 L265.9,307.1 L265.8,307.2 L265.8,307.3 L265.8,307.4 L265.7,307.5 L265.6,307.6 L265.6,307.7 L265.5,307.7 L265.4,307.8 Z" fill="none" stroke="#111" stroke-width="1.6"/>
<path d="M271.9,297.6 L273.4,293.6 L278,291.3 L282.1,292.5 L284.7,297.6 L283.3,301.6 L278.6,304 L274.5,302.8 Z" fill="#fff" stroke="#111" stroke-width="1.7"/>
<path d="M278.6,304 L274.5,302.8 L271.9,297.6 L273.4,293.6 L277.5,294.8 L280.1,300 Z" fill="none" stroke="#111" stroke-width="1.7"/>
<path d="M278.6,304 L283.3,301.6" fill="none" stroke="#111" stroke-width="1.7"/>
<path d="M273.4,293.6 L278,291.3" fill="none" stroke="#111" stroke-width="1.7"/>
<path d="M277.5,294.8 L282.1,292.5" fill="none" stroke="#111" stroke-width="1.7"/>
<path d="M280.1,300 L284.7,297.6" fill="none" stroke="#111" stroke-width="1.7"/>
<path d="M277.1,300.9 L277,300.9 L276.9,300.9 L276.8,301 L276.7,301 L276.6,301 L276.4,301 L276.3,300.9 L276.2,300.9 L276.1,300.9 L276,300.8 L275.9,300.7 L275.8,300.7 L275.6,300.6 L275.5,300.5 L275.4,300.4 L275.3,300.3 L275.2,300.2 L275.1,300.1 L275,299.9 L274.9,299.8 L274.8,299.7 L274.8,299.5 L274.7,299.4 L274.6,299.2 L274.6,299.1 L274.5,298.9 L274.5,298.8 L274.4,298.6 L274.4,298.5 L274.4,298.3 L274.3,298.2 L274.3,298 L274.3,297.9 L274.4,297.8 L274.4,297.6 L274.4,297.5 L274.4,297.4 L274.5,297.3 L274.5,297.2 L274.6,297.1 L274.6,297 L274.7,296.9 L274.8,296.8 L274.9,296.8 L274.9,296.7 L275,296.7 L275.1,296.7 L275.2,296.6 L275.3,296.6 L275.4,296.6 L275.6,296.6 L275.7,296.7 L275.8,296.7 L275.9,296.7 L276,296.8 L276.1,296.9 L276.2,296.9 L276.4,297 L276.5,297.1 L276.6,297.2 L276.7,297.3 L276.8,297.4 L276.9,297.5 L277,297.7 L277.1,297.8 L277.2,297.9 L277.2,298.1 L277.3,298.2 L277.4,298.4 L277.4,298.5 L277.5,298.7 L277.5,298.8 L277.6,299 L277.6,299.1 L277.6,299.3 L277.7,299.4 L277.7,299.6 L277.7,299.7 L277.6,299.8 L277.6,300 L277.6,300.1 L277.6,300.2 L277.5,300.3 L277.5,300.4 L277.4,300.5 L277.4,300.6 L277.3,300.7 L277.2,300.8 L277.1,300.8 Z" fill="none" stroke="#111" stroke-width="1.7"/>
<path d="M284.9,290.2 L286.4,286.2 L291,283.9 L295.1,285.1 L297.7,290.2 L296.3,294.2 L291.6,296.6 L287.5,295.4 Z" fill="#fff" stroke="#111" stroke-width="1.7"/>
<path d="M291.6,296.6 L287.5,295.4 L284.9,290.2 L286.4,286.2 L290.5,287.4 L293.1,292.6 Z" fill="none" stroke="#111" stroke-width="1.7"/>
<path d="M291.6,296.6 L296.3,294.2" fill="none" stroke="#111" stroke-width="1.7"/>
<path d="M286.4,286.2 L291,283.9" fill="none" stroke="#111" stroke-width="1.7"/>
<path d="M290.5,287.4 L295.1,285.1" fill="none" stroke="#111" stroke-width="1.7"/>
<path d="M293.1,292.6 L297.7,290.2" fill="none" stroke="#111" stroke-width="1.7"/>
<path d="M290.1,293.5 L290,293.5 L289.9,293.5 L289.8,293.6 L289.7,293.6 L289.6,293.6 L289.4,293.6 L289.3,293.5 L289.2,293.5 L289.1,293.5 L289,293.4 L288.9,293.3 L288.8,293.3 L288.6,293.2 L288.5,293.1 L288.4,293 L288.3,292.9 L288.2,292.8 L288.1,292.7 L288,292.5 L287.9,292.4 L287.8,292.3 L287.8,292.1 L287.7,292 L287.6,291.8 L287.6,291.7 L287.5,291.5 L287.5,291.4 L287.4,291.2 L287.4,291.1 L287.4,290.9 L287.3,290.8 L287.3,290.6 L287.3,290.5 L287.4,290.4 L287.4,290.2 L287.4,290.1 L287.4,290 L287.5,289.9 L287.5,289.8 L287.6,289.7 L287.6,289.6 L287.7,289.5 L287.8,289.4 L287.9,289.4 L287.9,289.3 L288,289.3 L288.1,289.3 L288.2,289.2 L288.3,289.2 L288.4,289.2 L288.6,289.2 L288.7,289.3 L288.8,289.3 L288.9,289.3 L289,289.4 L289.1,289.5 L289.2,289.5 L289.4,289.6 L289.5,289.7 L289.6,289.8 L289.7,289.9 L289.8,290 L289.9,290.1 L290,290.3 L290.1,290.4 L290.2,290.5 L290.2,290.7 L290.3,290.8 L290.4,291 L290.4,291.1 L290.5,291.3 L290.5,291.4 L290.6,291.6 L290.6,291.7 L290.6,291.9 L290.7,292 L290.7,292.2 L290.7,292.3 L290.6,292.4 L290.6,292.6 L290.6,292.7 L290.6,292.8 L290.5,292.9 L290.5,293 L290.4,293.1 L290.4,293.2 L290.3,293.3 L290.2,293.4 L290.1,293.4 Z" fill="none" stroke="#111" stroke-width="1.7"/>
<path d="M211.5,474.3 L210.9,474.2 L210.4,474 L209.9,473.8 L209.4,473.5 L208.9,473.2 L208.5,472.8 L208.1,472.4 L207.8,471.9 L207.4,471.4 L207.2,470.8 L206.9,470.2 L206.8,469.6 L206.6,468.9 L206.5,468.3 L206.5,467.5 L206.5,466.8 L206.5,466.1 L206.6,465.3 L206.7,464.5 L206.9,463.7 L207.1,463 L207.4,462.2 L207.7,461.4 L208.1,460.6 L208.4,459.9 L208.9,459.2 L209.3,458.4 L209.8,457.8 L210.3,457.1 L210.8,456.5 L211.4,455.9 L212,455.3 L212.6,454.8 L213.2,454.3 L213.9,453.9 L214.5,453.5 L215.2,453.1 L215.8,452.9 L216.5,452.6 L217.1,452.4 L217.7,452.3 L218.4,452.2 L219,452.2 L219.6,452.3 L220.2,452.3 L220.7,452.5 L221.3,452.7" fill="none" stroke="#111" stroke-width="1.8"/>
<path d="M221.9,453 L227.7,456.2" fill="none" stroke="#111" stroke-width="1.8"/>
<path d="M209.5,473.6 L215.3,476.8" fill="none" stroke="#111" stroke-width="1.8"/>
<path d="M227.7,456.2 L228.1,456.5 L228.6,456.9 L229,457.3 L229.3,457.7 L229.7,458.2 L229.9,458.8 L230.2,459.4 L230.4,460 L230.5,460.6 L230.6,461.3 L230.7,462 L230.7,462.7 L230.7,463.4 L230.6,464.2 L230.5,464.9 L230.4,465.7 L230.2,466.5 L229.9,467.2 L229.6,468 L229.3,468.8 L229,469.5 L228.6,470.3 L228.1,471 L227.7,471.7 L227.2,472.3 L226.7,473 L226.1,473.6 L225.5,474.2 L225,474.7 L224.3,475.2 L223.7,475.7 L223.1,476.1 L222.5,476.4 L221.8,476.8 L221.2,477 L220.5,477.2 L219.9,477.4 L219.3,477.5 L218.6,477.6 L218,477.6 L217.4,477.5 L216.9,477.4 L216.3,477.3 L215.8,477 L215.3,476.8 L214.9,476.5 L214.4,476.1 L214,475.7 L213.7,475.3 L213.3,474.8 L213.1,474.2 L212.8,473.6 L212.6,473 L212.5,472.4 L212.4,471.7 L212.3,471 L212.3,470.3 L212.3,469.6 L212.4,468.8 L212.5,468.1 L212.6,467.3 L212.8,466.5 L213.1,465.8 L213.4,465 L213.7,464.2 L214,463.5 L214.4,462.7 L214.9,462 L215.3,461.3 L215.8,460.7 L216.3,460 L216.9,459.4 L217.5,458.8 L218,458.3 L218.7,457.8 L219.3,457.3 L219.9,456.9 L220.5,456.6 L221.2,456.2 L221.8,456 L222.5,455.8 L223.1,455.6 L223.7,455.5 L224.4,455.4 L225,455.4 L225.6,455.5 L226.1,455.6 L226.7,455.7 L227.2,456 Z" fill="none" stroke="#111" stroke-width="1.8"/>
<path d="M226.1,458.8 L226.5,459 L226.8,459.3 L227.1,459.6 L227.3,459.9 L227.6,460.3 L227.8,460.7 L227.9,461.1 L228.1,461.5 L228.2,462 L228.2,462.5 L228.3,463 L228.3,463.6 L228.3,464.1 L228.2,464.7 L228.1,465.2 L228,465.8 L227.8,466.4 L227.7,467 L227.4,467.5 L227.2,468.1 L226.9,468.7 L226.6,469.2 L226.3,469.8 L226,470.3 L225.6,470.8 L225.2,471.3 L224.8,471.7 L224.4,472.2 L223.9,472.6 L223.5,472.9 L223,473.3 L222.6,473.6 L222.1,473.9 L221.6,474.1 L221.1,474.3 L220.7,474.5 L220.2,474.6 L219.7,474.7 L219.3,474.8 L218.8,474.8 L218.4,474.7 L218,474.7 L217.6,474.6 L217.2,474.4 L216.9,474.2 L216.5,474 L216.2,473.7 L215.9,473.4 L215.7,473.1 L215.4,472.7 L215.2,472.3 L215.1,471.9 L214.9,471.5 L214.8,471 L214.8,470.5 L214.7,470 L214.7,469.4 L214.7,468.9 L214.8,468.3 L214.9,467.8 L215,467.2 L215.2,466.6 L215.3,466 L215.6,465.5 L215.8,464.9 L216.1,464.3 L216.4,463.8 L216.7,463.2 L217,462.7 L217.4,462.2 L217.8,461.7 L218.2,461.3 L218.6,460.8 L219.1,460.4 L219.5,460.1 L220,459.7 L220.4,459.4 L220.9,459.1 L221.4,458.9 L221.9,458.7 L222.3,458.5 L222.8,458.4 L223.3,458.3 L223.7,458.2 L224.2,458.2 L224.6,458.3 L225,458.3 L225.4,458.4 L225.8,458.6 Z" fill="none" stroke="#111" stroke-width="1.6"/>
<path d="M225.1,460.5 L225.4,460.7 L225.6,460.9 L225.8,461.1 L226,461.4 L226.2,461.6 L226.3,461.9 L226.5,462.3 L226.6,462.6 L226.6,463 L226.7,463.4 L226.7,463.8 L226.7,464.2 L226.7,464.6 L226.6,465 L226.6,465.5 L226.5,465.9 L226.3,466.4 L226.2,466.8 L226,467.2 L225.8,467.7 L225.6,468.1 L225.4,468.6 L225.1,469 L224.9,469.4 L224.6,469.8 L224.3,470.2 L224,470.5 L223.6,470.8 L223.3,471.2 L223,471.5 L222.6,471.7 L222.3,472 L221.9,472.2 L221.5,472.4 L221.2,472.6 L220.8,472.7 L220.4,472.8 L220.1,472.9 L219.7,472.9 L219.4,472.9 L219.1,472.9 L218.8,472.8 L218.5,472.8 L218.2,472.6 L217.9,472.5 L217.6,472.3 L217.4,472.1 L217.2,471.9 L217,471.6 L216.8,471.4 L216.7,471.1 L216.5,470.7 L216.4,470.4 L216.4,470 L216.3,469.6 L216.3,469.2 L216.3,468.8 L216.3,468.4 L216.4,468 L216.4,467.5 L216.5,467.1 L216.7,466.6 L216.8,466.2 L217,465.8 L217.2,465.3 L217.4,464.9 L217.6,464.4 L217.9,464 L218.1,463.6 L218.4,463.2 L218.7,462.8 L219,462.5 L219.4,462.2 L219.7,461.8 L220,461.5 L220.4,461.3 L220.7,461 L221.1,460.8 L221.5,460.6 L221.8,460.4 L222.2,460.3 L222.6,460.2 L222.9,460.1 L223.3,460.1 L223.6,460.1 L223.9,460.1 L224.2,460.2 L224.5,460.2 L224.8,460.4 Z" fill="none" stroke="#111" stroke-width="2.7"/>
<path d="M223.4,463.4 L223.5,463.5 L223.6,463.6 L223.7,463.7 L223.8,463.9 L223.9,464 L224,464.2 L224.1,464.3 L224.1,464.5 L224.2,464.7 L224.2,464.9 L224.2,465.1 L224.2,465.3 L224.2,465.5 L224.2,465.8 L224.1,466 L224.1,466.2 L224,466.4 L223.9,466.7 L223.9,466.9 L223.8,467.1 L223.7,467.4 L223.5,467.6 L223.4,467.8 L223.3,468 L223.1,468.2 L223,468.4 L222.8,468.6 L222.6,468.8 L222.5,468.9 L222.3,469.1 L222.1,469.2 L221.9,469.3 L221.7,469.4 L221.5,469.5 L221.3,469.6 L221.2,469.7 L221,469.7 L220.8,469.8 L220.6,469.8 L220.4,469.8 L220.3,469.8 L220.1,469.8 L219.9,469.7 L219.8,469.7 L219.6,469.6 L219.5,469.5 L219.4,469.4 L219.3,469.3 L219.2,469.1 L219.1,469 L219,468.8 L218.9,468.7 L218.9,468.5 L218.8,468.3 L218.8,468.1 L218.8,467.9 L218.8,467.7 L218.8,467.5 L218.8,467.2 L218.9,467 L218.9,466.8 L219,466.6 L219.1,466.3 L219.1,466.1 L219.2,465.9 L219.3,465.6 L219.5,465.4 L219.6,465.2 L219.7,465 L219.9,464.8 L220,464.6 L220.2,464.4 L220.4,464.2 L220.5,464.1 L220.7,463.9 L220.9,463.8 L221.1,463.7 L221.3,463.6 L221.5,463.5 L221.7,463.4 L221.8,463.3 L222,463.3 L222.2,463.2 L222.4,463.2 L222.6,463.2 L222.7,463.2 L222.9,463.2 L223.1,463.3 L223.2,463.3 Z" fill="none" stroke="#111" stroke-width="1.6"/>
<path d="M248.6,475.2 L248.9,475.4 L249.2,475.6 L249.4,475.9 L249.6,476.2 L249.9,476.5 L250,476.9 L250.2,477.2 L250.3,477.6 L250.4,478 L250.5,478.5 L250.6,478.9 L250.6,479.4 L250.6,479.9 L250.5,480.3 L250.5,480.8 L250.4,481.3 L250.2,481.8 L250.1,482.3 L249.9,482.8 L249.7,483.3 L249.5,483.8 L249.2,484.3 L248.9,484.7 L248.6,485.2 L248.3,485.6 L248,486 L247.6,486.4 L247.3,486.8 L246.9,487.1 L246.5,487.4 L246.1,487.7 L245.7,488 L245.3,488.2 L244.9,488.4 L244.4,488.6 L244,488.7 L243.6,488.8 L243.2,488.9 L242.8,488.9 L242.4,488.9 L242,488.9 L241.7,488.8 L241.3,488.7 L241,488.6 L240.6,488.4 L240.3,488.2 L240,488 L239.8,487.7 L239.6,487.4 L239.3,487.1 L239.2,486.7 L239,486.4 L238.9,486 L238.8,485.6 L238.7,485.1 L238.6,484.7 L238.6,484.2 L238.6,483.7 L238.7,483.3 L238.7,482.8 L238.8,482.3 L239,481.8 L239.1,481.3 L239.3,480.8 L239.5,480.3 L239.7,479.8 L240,479.3 L240.3,478.9 L240.6,478.4 L240.9,478 L241.2,477.6 L241.6,477.2 L241.9,476.8 L242.3,476.5 L242.7,476.2 L243.1,475.9 L243.5,475.6 L243.9,475.4 L244.3,475.2 L244.8,475 L245.2,474.9 L245.6,474.8 L246,474.7 L246.4,474.7 L246.8,474.7 L247.2,474.7 L247.5,474.8 L247.9,474.9 L248.2,475 Z" fill="none" stroke="#111" stroke-width="1.8"/>
<path d="M230.6,482.6 L230.3,482.4 L230,482.2 L229.8,481.9 L229.6,481.6 L229.3,481.3 L229.2,480.9 L229,480.6 L228.9,480.2 L228.8,479.8 L228.7,479.3 L228.6,478.9 L228.6,478.4 L228.6,477.9 L228.7,477.5 L228.7,477 L228.8,476.5 L229,476 L229.1,475.5 L229.3,475 L229.5,474.5 L229.7,474 L230,473.5 L230.3,473.1 L230.6,472.6 L230.9,472.2 L231.2,471.8 L231.6,471.4 L231.9,471 L232.3,470.7 L232.7,470.4 L233.1,470.1 L233.5,469.8 L233.9,469.6 L234.3,469.4 L234.8,469.2 L235.2,469.1 L235.6,469 L236,468.9 L236.4,468.9 L236.8,468.9 L237.2,468.9 L237.5,469 L237.9,469.1 L238.2,469.2 L238.6,469.4" fill="none" stroke="#111" stroke-width="1.8"/>
<path d="M238.6,469.4 L248.6,475.2" fill="none" stroke="#111" stroke-width="1.8"/>
<path d="M230.6,482.6 L240.6,488.4" fill="none" stroke="#111" stroke-width="1.8"/>
<path d="M245.2,473.3 L245.5,473.4 L245.8,473.6 L246.1,473.8 L246.4,474 L246.7,474.2 L247,474.5 L247.2,474.8 L247.4,475.1 L247.6,475.5 L247.7,475.9 L247.8,476.3 L247.9,476.7 L248,477.2 L248,477.6 L248,478.1 L248,478.6 L247.9,479 L247.9,479.5 L247.7,480 L247.6,480.5 L247.4,481 L247.2,481.5 L247,482 L246.8,482.5 L246.5,483 L246.2,483.4 L245.9,483.8 L245.6,484.3 L245.2,484.7 L244.9,485 L244.5,485.4 L244.1,485.7 L243.7,486 L243.3,486.3 L242.9,486.6 L242.5,486.8 L242.1,487 L241.7,487.1 L241.3,487.2 L240.8,487.3 L240.4,487.4 L240,487.4 L239.6,487.4 L239.3,487.3 L238.9,487.2 L238.6,487.1 L238.2,486.9 L237.9,486.8 L237.6,486.5 L237.3,486.3" fill="none" stroke="#111" stroke-width="1.6"/>
<path d="M243,472 L243.4,472.1 L243.7,472.3 L244,472.5 L244.3,472.7 L244.6,472.9 L244.8,473.2 L245,473.5 L245.2,473.9 L245.4,474.2 L245.6,474.6 L245.7,475 L245.8,475.4 L245.8,475.9 L245.9,476.3 L245.9,476.8 L245.8,477.3 L245.8,477.8 L245.7,478.2 L245.6,478.7 L245.5,479.2 L245.3,479.7 L245.1,480.2 L244.9,480.7 L244.6,481.2 L244.4,481.7 L244.1,482.1 L243.8,482.6 L243.5,483 L243.1,483.4 L242.7,483.8 L242.4,484.1 L242,484.4 L241.6,484.8 L241.2,485 L240.8,485.3 L240.4,485.5 L239.9,485.7 L239.5,485.8 L239.1,485.9 L238.7,486 L238.3,486.1 L237.9,486.1 L237.5,486.1 L237.1,486 L236.8,485.9 L236.4,485.8 L236.1,485.7 L235.8,485.5 L235.5,485.2 L235.2,485" fill="none" stroke="#111" stroke-width="1.6"/>
<path d="M248.2,478.6 L256.2,482.5 L256.2,482.5 L256.4,482.6 L256.5,482.8 L256.7,482.9 L256.8,483.1 L256.9,483.3 L257,483.4 L257.1,483.7 L257.2,483.9 L257.3,484.1 L257.3,484.3 L257.3,484.6 L257.3,484.9 L257.3,485.1 L257.3,485.4 L257.3,485.7 L257.2,485.9 L257.2,486.2 L257.1,486.5 L257,486.8 L256.9,487 L256.7,487.3 L256.6,487.6 L256.4,487.8 L256.3,488.1 L256.1,488.3 L255.9,488.6 L255.7,488.8 L255.5,489 L255.3,489.2 L255.1,489.3 L254.8,489.5 L254.6,489.7 L254.4,489.8 L254.1,489.9 L253.9,490 L253.7,490.1 L253.5,490.1 L253.2,490.2 L253,490.2 L252.8,490.2 L252.6,490.2 L252.4,490.1 L252.2,490.1 L252,490 L251.8,489.9 L251.8,489.9 L243.8,486 L243.8,486 L243.6,485.9 L243.5,485.7 L243.3,485.6 L243.2,485.4 L243.1,485.2 L243,485.1 L242.9,484.8 L242.8,484.6 L242.7,484.4 L242.7,484.2 L242.7,483.9 L242.7,483.6 L242.7,483.4 L242.7,483.1 L242.7,482.8 L242.8,482.6 L242.8,482.3 L242.9,482 L243,481.7 L243.1,481.5 L243.3,481.2 L243.4,480.9 L243.6,480.7 L243.7,480.4 L243.9,480.2 L244.1,479.9 L244.3,479.7 L244.5,479.5 L244.7,479.3 L244.9,479.2 L245.2,479 L245.4,478.8 L245.6,478.7 L245.9,478.6 L246.1,478.5 L246.3,478.4 L246.5,478.4 L246.8,478.3 L247,478.3 L247.2,478.3 L247.4,478.3 L247.6,478.4 L247.8,478.4 L248,478.5 L248.2,478.6 Z" fill="#fff" stroke="none" stroke-width="0"/>
<path d="M256.2,482.5 L256.4,482.6 L256.5,482.8 L256.7,482.9 L256.8,483.1 L256.9,483.3 L257,483.4 L257.1,483.7 L257.2,483.9 L257.3,484.1 L257.3,484.3 L257.3,484.6 L257.3,484.9 L257.3,485.1 L257.3,485.4 L257.3,485.7 L257.2,485.9 L257.2,486.2 L257.1,486.5 L257,486.8 L256.9,487 L256.7,487.3 L256.6,487.6 L256.4,487.8 L256.3,488.1 L256.1,488.3 L255.9,488.6 L255.7,488.8 L255.5,489 L255.3,489.2 L255.1,489.3 L254.8,489.5 L254.6,489.7 L254.4,489.8 L254.1,489.9 L253.9,490 L253.7,490.1 L253.5,490.1 L253.2,490.2 L253,490.2 L252.8,490.2 L252.6,490.2 L252.4,490.1 L252.2,490.1 L252,490 L251.8,489.9 L251.6,489.8 L251.5,489.6 L251.3,489.5 L251.2,489.3 L251.1,489.1 L251,489 L250.9,488.7 L250.8,488.5 L250.7,488.3 L250.7,488.1 L250.7,487.8 L250.7,487.5 L250.7,487.3 L250.7,487 L250.7,486.7 L250.8,486.5 L250.8,486.2 L250.9,485.9 L251,485.6 L251.1,485.4 L251.3,485.1 L251.4,484.8 L251.6,484.6 L251.7,484.3 L251.9,484.1 L252.1,483.8 L252.3,483.6 L252.5,483.4 L252.7,483.2 L252.9,483.1 L253.2,482.9 L253.4,482.7 L253.6,482.6 L253.9,482.5 L254.1,482.4 L254.3,482.3 L254.5,482.3 L254.8,482.2 L255,482.2 L255.2,482.2 L255.4,482.2 L255.6,482.3 L255.8,482.3 L256,482.4 Z" fill="none" stroke="#111" stroke-width="1.7"/>
<path d="M248.2,478.6 L256.2,482.5" fill="none" stroke="#111" stroke-width="1.7"/>
<path d="M243.8,486 L251.8,489.9" fill="none" stroke="#111" stroke-width="1.7"/>
<path d="M255.1,484.4 L255.2,484.5 L255.2,484.5 L255.3,484.6 L255.4,484.7 L255.4,484.8 L255.5,484.8 L255.5,484.9 L255.6,485.1 L255.6,485.2 L255.6,485.3 L255.6,485.4 L255.6,485.5 L255.6,485.7 L255.6,485.8 L255.6,485.9 L255.6,486.1 L255.5,486.2 L255.5,486.3 L255.4,486.5 L255.4,486.6 L255.3,486.7 L255.2,486.9 L255.2,487 L255.1,487.1 L255,487.2 L254.9,487.3 L254.8,487.4 L254.7,487.5 L254.6,487.6 L254.5,487.7 L254.4,487.8 L254.3,487.9 L254.2,487.9 L254.1,488 L253.9,488 L253.8,488.1 L253.7,488.1 L253.6,488.1 L253.5,488.1 L253.4,488.1 L253.3,488.1 L253.2,488.1 L253.1,488.1 L253,488 L252.9,488 L252.8,487.9 L252.8,487.9 L252.7,487.8 L252.6,487.7 L252.6,487.6 L252.5,487.6 L252.5,487.5 L252.4,487.3 L252.4,487.2 L252.4,487.1 L252.4,487 L252.4,486.9 L252.4,486.7 L252.4,486.6 L252.4,486.5 L252.4,486.3 L252.5,486.2 L252.5,486.1 L252.6,485.9 L252.6,485.8 L252.7,485.7 L252.8,485.5 L252.8,485.4 L252.9,485.3 L253,485.2 L253.1,485.1 L253.2,485 L253.3,484.9 L253.4,484.8 L253.5,484.7 L253.6,484.6 L253.7,484.5 L253.8,484.5 L253.9,484.4 L254.1,484.4 L254.2,484.3 L254.3,484.3 L254.4,484.3 L254.5,484.3 L254.6,484.3 L254.7,484.3 L254.8,484.3 L254.9,484.3 L255,484.4 Z" fill="none" stroke="#111" stroke-width="1.4"/>
<path d="M281.1,472.6 L281.4,472.9 L281.7,473.1 L282,473.4 L282.2,473.7 L282.5,474 L282.7,474.4 L282.8,474.8 L283,475.2 L283.1,475.6 L283.2,476 L283.2,476.5 L283.2,477 L283.2,477.5 L283.2,478 L283.1,478.5 L283,479 L282.9,479.5 L282.7,480 L282.5,480.6 L282.3,481.1 L282.1,481.6 L281.8,482.1 L281.5,482.5 L281.2,483 L280.9,483.5 L280.5,483.9 L280.2,484.3 L279.8,484.7 L279.4,485 L279,485.4 L278.6,485.7 L278.1,485.9 L277.7,486.2 L277.3,486.4 L276.8,486.6 L276.4,486.7 L276,486.8 L275.6,486.9 L275.1,486.9 L274.7,486.9 L274.3,486.9 L273.9,486.8 L273.6,486.7 L273.2,486.5 L272.9,486.4 L272.6,486.1 L272.3,485.9 L272,485.6 L271.8,485.3 L271.5,485 L271.3,484.6 L271.2,484.2 L271,483.8 L270.9,483.4 L270.8,483 L270.8,482.5 L270.8,482 L270.8,481.5 L270.8,481 L270.9,480.5 L271,480 L271.1,479.5 L271.3,479 L271.5,478.4 L271.7,477.9 L271.9,477.4 L272.2,476.9 L272.5,476.5 L272.8,476 L273.1,475.5 L273.5,475.1 L273.8,474.7 L274.2,474.3 L274.6,474 L275,473.6 L275.4,473.3 L275.9,473.1 L276.3,472.8 L276.7,472.6 L277.2,472.4 L277.6,472.3 L278,472.2 L278.4,472.1 L278.9,472.1 L279.3,472.1 L279.7,472.1 L280.1,472.2 L280.4,472.3 L280.8,472.5 Z" fill="none" stroke="#111" stroke-width="1.8"/>
<path d="M264.4,481.4 L264.1,481.1 L263.8,480.9 L263.5,480.6 L263.3,480.3 L263,480 L262.8,479.6 L262.7,479.2 L262.5,478.8 L262.4,478.4 L262.3,478 L262.3,477.5 L262.3,477 L262.3,476.5 L262.3,476 L262.4,475.5 L262.5,475 L262.6,474.5 L262.8,474 L263,473.4 L263.2,472.9 L263.4,472.4 L263.7,471.9 L264,471.5 L264.3,471 L264.6,470.5 L265,470.1 L265.3,469.7 L265.7,469.3 L266.1,469 L266.5,468.6 L266.9,468.3 L267.4,468.1 L267.8,467.8 L268.2,467.6 L268.7,467.4 L269.1,467.3 L269.5,467.2 L269.9,467.1 L270.4,467.1 L270.8,467.1 L271.2,467.1 L271.6,467.2 L271.9,467.3 L272.3,467.5 L272.6,467.6" fill="none" stroke="#111" stroke-width="1.8"/>
<path d="M272.6,467.6 L281.1,472.6" fill="none" stroke="#111" stroke-width="1.8"/>
<path d="M264.4,481.4 L272.9,486.4" fill="none" stroke="#111" stroke-width="1.8"/>
<path d="M279.4,475.6 L279.5,475.7 L279.7,475.8 L279.8,476 L280,476.1 L280.1,476.3 L280.2,476.5 L280.3,476.7 L280.3,476.9 L280.4,477.2 L280.4,477.4 L280.4,477.7 L280.4,478 L280.4,478.2 L280.4,478.5 L280.3,478.8 L280.3,479.1 L280.2,479.4 L280.1,479.7 L280,480 L279.9,480.3 L279.7,480.6 L279.6,480.9 L279.4,481.1 L279.2,481.4 L279,481.7 L278.8,481.9 L278.6,482.1 L278.4,482.4 L278.2,482.6 L278,482.8 L277.7,482.9 L277.5,483.1 L277.3,483.2 L277,483.4 L276.8,483.5 L276.5,483.6 L276.3,483.6 L276.1,483.7 L275.8,483.7 L275.6,483.7 L275.4,483.7 L275.2,483.7 L275,483.6 L274.8,483.5 L274.6,483.4 L274.5,483.3 L274.3,483.2 L274.2,483 L274,482.9 L273.9,482.7 L273.8,482.5 L273.7,482.3 L273.7,482.1 L273.6,481.8 L273.6,481.6 L273.6,481.3 L273.6,481 L273.6,480.8 L273.6,480.5 L273.7,480.2 L273.7,479.9 L273.8,479.6 L273.9,479.3 L274,479 L274.1,478.7 L274.3,478.4 L274.4,478.1 L274.6,477.9 L274.8,477.6 L275,477.3 L275.2,477.1 L275.4,476.9 L275.6,476.6 L275.8,476.4 L276,476.2 L276.3,476.1 L276.5,475.9 L276.7,475.8 L277,475.6 L277.2,475.5 L277.5,475.4 L277.7,475.4 L277.9,475.3 L278.2,475.3 L278.4,475.3 L278.6,475.3 L278.8,475.3 L279,475.4 L279.2,475.5 Z" fill="none" stroke="#111" stroke-width="1.7"/>
<path d="M276.4,482.6 L276.1,482.7 L275.9,482.8 L275.7,482.9 L275.4,483 L275.2,483.1 L274.9,483.1 L274.7,483.1 L274.5,483.1 L274.3,483.1 L274.1,483 L273.9,483 L273.7,482.9 L273.5,482.8 L273.4,482.6 L273.2,482.5 L273.1,482.3 L273,482.2 L272.9,482 L272.8,481.7 L272.7,481.5 L272.6,481.3 L272.6,481 L272.6,480.8 L272.6,480.5 L272.6,480.2 L272.6,479.9 L272.7,479.6 L272.7,479.3 L272.8,479 L272.9,478.8 L273,478.5 L273.1,478.2 L273.3,477.9 L273.4,477.6 L273.6,477.3 L273.8,477 L273.9,476.8 L274.1,476.5 L274.4,476.3 L274.6,476.1 L274.8,475.8 L275,475.6 L275.3,475.5 L275.5,475.3 L275.7,475.2 L276,475 L276.2,474.9" fill="none" stroke="#111" stroke-width="1.4"/>
<path d="M293.5,485.1 L293.7,485.2 L293.8,485.3 L293.9,485.4 L294,485.6 L294.1,485.7 L294.2,485.9 L294.3,486.1 L294.4,486.2 L294.4,486.4 L294.5,486.6 L294.5,486.8 L294.5,487.1 L294.5,487.3 L294.5,487.5 L294.4,487.7 L294.4,488 L294.3,488.2 L294.3,488.4 L294.2,488.7 L294.1,488.9 L294,489.1 L293.8,489.3 L293.7,489.6 L293.6,489.8 L293.4,490 L293.3,490.2 L293.1,490.3 L292.9,490.5 L292.8,490.7 L292.6,490.8 L292.4,491 L292.2,491.1 L292,491.2 L291.8,491.3 L291.6,491.4 L291.4,491.4 L291.2,491.5 L291,491.5 L290.8,491.5 L290.7,491.5 L290.5,491.5 L290.3,491.5 L290.1,491.4 L290,491.4 L289.8,491.3 L289.7,491.2 L289.6,491.1 L289.4,490.9 L289.3,490.8 L289.2,490.7 L289.1,490.5 L289.1,490.3 L289,490.1 L289,489.9 L288.9,489.7 L288.9,489.5 L288.9,489.3 L288.9,489.1 L288.9,488.9 L288.9,488.6 L289,488.4 L289,488.2 L289.1,487.9 L289.2,487.7 L289.3,487.5 L289.4,487.3 L289.5,487 L289.7,486.8 L289.8,486.6 L289.9,486.4 L290.1,486.2 L290.3,486 L290.4,485.9 L290.6,485.7 L290.8,485.6 L291,485.4 L291.2,485.3 L291.4,485.2 L291.6,485.1 L291.8,485 L292,484.9 L292.1,484.9 L292.3,484.9 L292.5,484.9 L292.7,484.9 L292.9,484.9 L293.1,484.9 L293.2,485 L293.4,485 Z" fill="none" stroke="#111" stroke-width="1.7"/>
<path d="M284.3,487.8 L284.2,487.7 L284.1,487.6 L283.9,487.5 L283.8,487.4 L283.7,487.2 L283.6,487.1 L283.6,486.9 L283.5,486.7 L283.5,486.5 L283.4,486.3 L283.4,486.1 L283.4,485.9 L283.4,485.7 L283.4,485.4 L283.4,485.2 L283.5,485 L283.5,484.7 L283.6,484.5 L283.7,484.3 L283.8,484 L283.9,483.8 L284,483.6 L284.2,483.4 L284.3,483.2 L284.4,483 L284.6,482.8 L284.8,482.6 L284.9,482.4 L285.1,482.3 L285.3,482.1 L285.5,482 L285.7,481.9 L285.9,481.7 L286.1,481.7 L286.3,481.6 L286.5,481.5 L286.6,481.5 L286.8,481.4 L287,481.4 L287.2,481.4 L287.4,481.4 L287.6,481.5 L287.7,481.5 L287.9,481.6 L288,481.7" fill="none" stroke="#111" stroke-width="1.7"/>
<path d="M288,481.7 L293.5,485.1" fill="none" stroke="#111" stroke-width="1.7"/>
<path d="M284.3,487.8 L289.8,491.3" fill="none" stroke="#111" stroke-width="1.7"/>
<path d="M290.3,488.9 L291.7,485.4 L295.8,483.6 L300.6,484.7 L302,488.2 L300.6,493 L296.5,496.4 L292.4,495.7 L290.3,493 Z" fill="#fff" stroke="#111" stroke-width="1.8"/>
<path d="M295.8,483.6 L294.8,488.2 L296.5,496.4" fill="none" stroke="#111" stroke-width="1.6"/>
<path d="M300.6,484.7 L299.2,488.9 L300.6,493" fill="none" stroke="#111" stroke-width="1.4"/>
<path d="M298.6,491.6 L305.4,495.5" fill="none" stroke="#111" stroke-width="1.7"/>
<path d="M300.6,487.5 L306.8,491.6" fill="none" stroke="#111" stroke-width="1.7"/>
<path d="M300.6,488.2 C300.8,488.6 301.5,490.1 301.4,490.9 C301.4,491.7 300.3,492.7 300.1,493" fill="none" stroke="#111" stroke-width="1.7"/>
<path d="M302.3,489.1 C302.4,489.6 303.2,491.1 303.1,491.9 C303,492.7 302,493.6 301.7,494" fill="none" stroke="#111" stroke-width="1.7"/>
<path d="M303.9,490.1 C304.1,490.6 304.8,492.1 304.7,492.9 C304.7,493.7 303.6,494.6 303.4,494.9" fill="none" stroke="#111" stroke-width="1.7"/>
<path d="M305.6,491.1 C305.7,491.5 306.5,493 306.4,493.8 C306.3,494.6 305.3,495.5 305,495.9" fill="none" stroke="#111" stroke-width="1.7"/>
<path d="M306.8,491.6 C306.9,492 307.7,493.5 307.5,494.1 C307.3,494.7 305.8,495.2 305.4,495.5" fill="none" stroke="#111" stroke-width="1.6"/>
<path d="M328.6,548.1 L326.8,549.4 L325,550.5 L323.1,551.5 L321.2,552.3 L319.3,553 L317.3,553.6 L315.4,554 L313.6,554.2 L311.7,554.3 L309.9,554.2 L308.1,554 L306.4,553.6 L304.7,553.1 L303.1,552.4 L301.6,551.6 L300.2,550.6 L298.9,549.5 L297.7,548.2 L296.6,546.8 L295.6,545.4 L294.7,543.7 L293.9,542 L293.3,540.2 L292.8,538.3 L292.4,536.4 L292.1,534.3 L292,532.2 L292.1,530.1 L292.2,527.9 L292.5,525.7 L292.9,523.5 L293.5,521.3 L294.2,519.1 L295,516.9 L295.9,514.7 L297,512.6 L298.1,510.5 L299.4,508.5 L300.7,506.6 L302.2,504.7 L303.7,502.9 L305.3,501.3 L307,499.7 L308.7,498.2 L310.5,496.9 L312.4,495.7 L314.2,494.7 L316.1,493.7 L318,492.9 L320,492.3 L321.9,491.8 L323.8,491.5" fill="none" stroke="#111" stroke-width="1.8"/>
<path d="M339.4,495.4 L340.8,496.4 L342.1,497.4 L343.3,498.7 L344.4,500 L345.5,501.5 L346.4,503 L347.1,504.7 L347.8,506.5 L348.3,508.3 L348.7,510.2 L349,512.3 L349.2,514.3 L349.2,516.4 L349,518.6 L348.8,520.7 L348.4,522.9 L347.9,525.1 L347.3,527.3 L346.5,529.5 L345.6,531.7 L344.6,533.8 L343.5,535.9 L342.3,537.9 L341,539.8 L339.6,541.7 L338.1,543.5 L336.5,545.2 L334.9,546.8 L333.2,548.3 L331.4,549.6 L329.6,550.9 L327.8,552 L325.9,553 L324,553.8 L322.1,554.5 L320.3,555.1 L318.4,555.5 L316.5,555.7 L314.7,555.8 L312.8,555.7 L311.1,555.5 L309.4,555.2 L307.7,554.7 L306.1,554 L304.6,553.2 L303.2,552.2 L301.9,551.2 L300.7,549.9 L299.6,548.6 L298.5,547.1 L297.6,545.6 L296.9,543.9 L296.2,542.1 L295.7,540.3 L295.3,538.4 L295,536.3 L294.8,534.3 L294.8,532.2 L295,530 L295.2,527.9 L295.6,525.7 L296.1,523.5 L296.7,521.3 L297.5,519.1 L298.4,516.9 L299.4,514.8 L300.5,512.7 L301.7,510.7 L303,508.8 L304.4,506.9 L305.9,505.1 L307.5,503.4 L309.1,501.8 L310.8,500.3 L312.6,499 L314.4,497.7 L316.2,496.6 L318.1,495.6 L320,494.8 L321.9,494.1 L323.7,493.5 L325.6,493.1 L327.5,492.9 L329.3,492.8 L331.2,492.9 L332.9,493.1 L334.6,493.4 L336.3,493.9 L337.9,494.6 Z" fill="none" stroke="#111" stroke-width="1.8"/>
<path d="M324.2,501.9 L324.3,501.9 L324.4,502 L324.5,502.1 L324.6,502.2 L324.7,502.3 L324.7,502.4 L324.8,502.6 L324.9,502.7 L324.9,502.8 L324.9,503 L324.9,503.1 L324.9,503.3 L324.9,503.5 L324.9,503.6 L324.9,503.8 L324.9,504 L324.8,504.1 L324.8,504.3 L324.7,504.5 L324.7,504.6 L324.6,504.8 L324.5,504.9 L324.4,505.1 L324.3,505.3 L324.2,505.4 L324.1,505.5 L324,505.7 L323.8,505.8 L323.7,505.9 L323.6,506 L323.4,506.1 L323.3,506.2 L323.1,506.3 L323,506.3 L322.9,506.4 L322.7,506.4 L322.6,506.5 L322.4,506.5 L322.3,506.5 L322.2,506.5 L322,506.5 L321.9,506.5 L321.8,506.4 L321.7,506.4 L321.6,506.3 L321.5,506.3 L321.4,506.2 L321.3,506.1 L321.2,506 L321.1,505.9 L321,505.8 L321,505.6 L320.9,505.5 L320.9,505.4 L320.9,505.2 L320.9,505.1 L320.9,504.9 L320.9,504.7 L320.9,504.6 L320.9,504.4 L320.9,504.2 L321,504.1 L321,503.9 L321.1,503.7 L321.1,503.6 L321.2,503.4 L321.3,503.2 L321.4,503.1 L321.5,502.9 L321.6,502.8 L321.7,502.7 L321.8,502.5 L322,502.4 L322.1,502.3 L322.2,502.2 L322.4,502.1 L322.5,502 L322.6,501.9 L322.8,501.9 L322.9,501.8 L323.1,501.8 L323.2,501.7 L323.4,501.7 L323.5,501.7 L323.6,501.7 L323.8,501.7 L323.9,501.7 L324,501.8 L324.1,501.8 Z" fill="none" stroke="#111" stroke-width="1.7"/>
<path d="M342.1,507 L342.2,507 L342.3,507.1 L342.4,507.2 L342.5,507.3 L342.6,507.4 L342.6,507.5 L342.7,507.7 L342.7,507.8 L342.8,507.9 L342.8,508.1 L342.8,508.2 L342.8,508.4 L342.8,508.5 L342.8,508.7 L342.8,508.9 L342.7,509 L342.7,509.2 L342.7,509.4 L342.6,509.5 L342.5,509.7 L342.4,509.9 L342.4,510 L342.3,510.2 L342.2,510.3 L342.1,510.5 L341.9,510.6 L341.8,510.8 L341.7,510.9 L341.6,511 L341.4,511.1 L341.3,511.2 L341.2,511.3 L341,511.4 L340.9,511.4 L340.7,511.5 L340.6,511.5 L340.5,511.6 L340.3,511.6 L340.2,511.6 L340,511.6 L339.9,511.6 L339.8,511.6 L339.7,511.5 L339.5,511.5 L339.4,511.4 L339.3,511.3 L339.2,511.3 L339.1,511.2 L339.1,511.1 L339,511 L338.9,510.8 L338.9,510.7 L338.8,510.6 L338.8,510.4 L338.8,510.3 L338.7,510.1 L338.7,510 L338.7,509.8 L338.7,509.7 L338.8,509.5 L338.8,509.3 L338.8,509.2 L338.9,509 L339,508.8 L339,508.7 L339.1,508.5 L339.2,508.3 L339.3,508.2 L339.4,508 L339.5,507.9 L339.6,507.7 L339.7,507.6 L339.8,507.5 L340,507.4 L340.1,507.3 L340.2,507.2 L340.4,507.1 L340.5,507 L340.7,506.9 L340.8,506.9 L340.9,506.8 L341.1,506.8 L341.2,506.8 L341.4,506.8 L341.5,506.8 L341.6,506.8 L341.8,506.8 L341.9,506.9 L342,506.9 Z" fill="none" stroke="#111" stroke-width="1.7"/>
<path d="M308.6,527.2 L308.7,527.2 L308.8,527.3 L308.9,527.4 L308.9,527.5 L309,527.6 L309.1,527.7 L309.1,527.9 L309.2,528 L309.2,528.1 L309.2,528.3 L309.3,528.4 L309.3,528.6 L309.3,528.8 L309.3,528.9 L309.2,529.1 L309.2,529.3 L309.2,529.4 L309.1,529.6 L309,529.8 L309,529.9 L308.9,530.1 L308.8,530.2 L308.7,530.4 L308.6,530.6 L308.5,530.7 L308.4,530.8 L308.3,531 L308.2,531.1 L308,531.2 L307.9,531.3 L307.8,531.4 L307.6,531.5 L307.5,531.6 L307.3,531.6 L307.2,531.7 L307,531.7 L306.9,531.8 L306.8,531.8 L306.6,531.8 L306.5,531.8 L306.4,531.8 L306.2,531.8 L306.1,531.7 L306,531.7 L305.9,531.6 L305.8,531.6 L305.7,531.5 L305.6,531.4 L305.5,531.3 L305.4,531.2 L305.4,531.1 L305.3,530.9 L305.3,530.8 L305.2,530.7 L305.2,530.5 L305.2,530.4 L305.2,530.2 L305.2,530 L305.2,529.9 L305.2,529.7 L305.3,529.5 L305.3,529.4 L305.3,529.2 L305.4,529 L305.5,528.9 L305.5,528.7 L305.6,528.5 L305.7,528.4 L305.8,528.2 L305.9,528.1 L306.1,528 L306.2,527.8 L306.3,527.7 L306.4,527.6 L306.6,527.5 L306.7,527.4 L306.8,527.3 L307,527.2 L307.1,527.2 L307.3,527.1 L307.4,527 L307.5,527 L307.7,527 L307.8,527 L308,527 L308.1,527 L308.2,527 L308.3,527.1 L308.5,527.1 Z" fill="none" stroke="#111" stroke-width="1.7"/>
<path d="M316,547.2 L316.1,547.3 L316.2,547.4 L316.3,547.5 L316.4,547.6 L316.4,547.7 L316.5,547.8 L316.6,547.9 L316.6,548.1 L316.6,548.2 L316.7,548.4 L316.7,548.5 L316.7,548.7 L316.7,548.8 L316.7,549 L316.7,549.2 L316.6,549.3 L316.6,549.5 L316.5,549.7 L316.5,549.8 L316.4,550 L316.3,550.2 L316.2,550.3 L316.1,550.5 L316,550.6 L315.9,550.8 L315.8,550.9 L315.7,551 L315.6,551.2 L315.4,551.3 L315.3,551.4 L315.2,551.5 L315,551.6 L314.9,551.7 L314.8,551.7 L314.6,551.8 L314.5,551.8 L314.3,551.9 L314.2,551.9 L314.1,551.9 L313.9,551.9 L313.8,551.9 L313.7,551.8 L313.5,551.8 L313.4,551.8 L313.3,551.7 L313.2,551.6 L313.1,551.5 L313,551.5 L312.9,551.4 L312.9,551.2 L312.8,551.1 L312.7,551 L312.7,550.9 L312.7,550.7 L312.6,550.6 L312.6,550.4 L312.6,550.3 L312.6,550.1 L312.6,549.9 L312.6,549.8 L312.7,549.6 L312.7,549.4 L312.8,549.3 L312.8,549.1 L312.9,548.9 L313,548.8 L313.1,548.6 L313.2,548.5 L313.3,548.3 L313.4,548.2 L313.5,548 L313.6,547.9 L313.7,547.8 L313.8,547.7 L314,547.6 L314.1,547.5 L314.3,547.4 L314.4,547.3 L314.5,547.2 L314.7,547.2 L314.8,547.1 L315,547.1 L315.1,547.1 L315.2,547.1 L315.4,547.1 L315.5,547.1 L315.6,547.1 L315.8,547.1 L315.9,547.2 Z" fill="none" stroke="#111" stroke-width="1.7"/>
<path d="M319.9,511.2 C319.6,509.9 318,504.9 318.5,503 C319,501.1 321.1,499.8 322.6,499.6 C324.1,499.3 326.5,500.2 327.4,501.6 C328.4,503 328,506.8 328.1,507.8" fill="none" stroke="#111" stroke-width="1.7"/>
<path d="M336.4,511.2 C336.6,510.4 336.8,507.5 337.7,506.4 C338.7,505.4 340.7,504.6 341.9,505.1 C343,505.5 344.5,507.7 344.6,509.2 C344.7,510.7 342.9,513.2 342.6,514" fill="none" stroke="#111" stroke-width="1.7"/>
<path d="M314.4,525 C313.2,524.9 309.3,523.7 307.5,524.3 C305.7,524.9 303.7,526.9 303.4,528.4 C303,529.9 303.8,532.2 305.4,533.2 C307,534.3 311.7,534.4 313,534.6" fill="none" stroke="#111" stroke-width="1.7"/>
<path d="M312.3,541.5 C311.9,542.4 309.8,545.2 309.6,547 C309.3,548.8 309.8,551.5 310.9,552.5 C312.1,553.5 314.9,554.1 316.4,553.2 C317.9,552.3 319.3,548 319.9,547" fill="none" stroke="#111" stroke-width="1.7"/>
<path d="M319.9,511.2 C319.6,512.4 319.4,515.8 318.5,518.1 C317.6,520.4 315.1,523.9 314.4,525" fill="none" stroke="#111" stroke-width="1.7"/>
<path d="M313,534.6 C313.5,535.3 315.9,537.6 315.7,538.7 C315.6,539.9 312.9,541 312.3,541.5" fill="none" stroke="#111" stroke-width="1.7"/>
<path d="M328.1,507.8 C328.8,508.4 330.9,510.7 332.2,511.2 C333.6,511.8 335.7,511.2 336.4,511.2" fill="none" stroke="#111" stroke-width="1.7"/>
<path d="M324.1,541 L323.3,541.1 L322.5,541.1 L321.7,541 L320.9,540.9 L320.2,540.7 L319.5,540.4 L318.8,540.1 L318.2,539.7 L317.6,539.2 L317,538.7 L316.5,538.2 L316,537.6 L315.6,536.9 L315.3,536.2 L314.9,535.4 L314.7,534.6 L314.5,533.8 L314.3,532.9 L314.3,532 L314.2,531.1 L314.3,530.2 L314.4,529.2 L314.5,528.3 L314.7,527.3 L315,526.4 L315.3,525.4 L315.7,524.5 L316.1,523.6 L316.6,522.6 L317.1,521.8 L317.6,520.9 L318.2,520.1 L318.9,519.3 L319.6,518.6 L320.3,517.9 L321,517.2 L321.8,516.6 L322.6,516.1 L323.4,515.6 L324.2,515.2 L325,514.8 L325.8,514.5 L326.7,514.2 L327.5,514.1 L328.3,514 L329.1,513.9 L329.9,514" fill="none" stroke="#111" stroke-width="1.7"/>
<path d="M320.1,540 L319.3,540 L318.6,539.8 L317.8,539.6 L317.2,539.3 L316.5,538.9 L315.9,538.5 L315.3,538 L314.8,537.5 L314.3,536.9 L313.8,536.2 L313.4,535.5 L313.1,534.8 L312.8,534 L312.6,533.2 L312.4,532.4 L312.3,531.5 L312.2,530.6 L312.2,529.7 L312.3,528.7 L312.4,527.8 L312.6,526.8 L312.8,525.8 L313.1,524.9 L313.5,523.9 L313.9,523 L314.3,522.1 L314.8,521.2 L315.4,520.3 L315.9,519.5 L316.6,518.7 L317.2,517.9 L317.9,517.2 L318.7,516.5 L319.4,515.9 L320.2,515.3 L321,514.8 L321.8,514.4 L322.6,514 L323.4,513.6 L324.3,513.4 L325.1,513.1 L325.9,513" fill="none" stroke="#111" stroke-width="1.6"/>
<path d="M339,518.1 L339.6,518.5 L340.2,519 L340.7,519.5 L341.2,520.1 L341.6,520.7 L342,521.4 L342.4,522.1 L342.6,522.9 L342.9,523.7 L343.1,524.5 L343.2,525.4 L343.2,526.2 L343.3,527.2 L343.2,528.1 L343.1,529 L342.9,530 L342.7,530.9 L342.4,531.9 L342.1,532.8 L341.7,533.7 L341.3,534.6 L340.8,535.5 L340.3,536.4 L339.8,537.2 L339.2,538 L338.5,538.8 L337.8,539.5 L337.1,540.2 L336.4,540.9 L335.6,541.4 L334.9,542 L334.1,542.5 L333.3,542.9 L332.4,543.2 L331.6,543.5 L330.8,543.8 L330,543.9 L329.2,544 L328.4,544.1 L327.6,544 L326.8,544 L326.1,543.8 L325.4,543.6 L324.7,543.3 L324,542.9 L323.4,542.5 L322.8,542 L322.3,541.5 L321.8,540.9 L321.4,540.3 L321,539.6 L320.6,538.9 L320.4,538.1 L320.1,537.3 L319.9,536.5 L319.8,535.6 L319.8,534.8 L319.7,533.8 L319.8,532.9 L319.9,532 L320.1,531 L320.3,530.1 L320.6,529.1 L320.9,528.2 L321.3,527.3 L321.7,526.4 L322.2,525.5 L322.7,524.6 L323.2,523.8 L323.8,523 L324.5,522.2 L325.2,521.5 L325.9,520.8 L326.6,520.1 L327.4,519.6 L328.1,519 L328.9,518.5 L329.7,518.1 L330.6,517.8 L331.4,517.5 L332.2,517.2 L333,517.1 L333.8,517 L334.6,516.9 L335.4,517 L336.2,517 L336.9,517.2 L337.6,517.4 L338.3,517.7 Z" fill="#fff" stroke="#111" stroke-width="1.8"/>
<path d="M337.7,520.2 L338.2,520.5 L338.6,520.9 L339.1,521.4 L339.5,521.8 L339.8,522.3 L340.1,522.9 L340.4,523.5 L340.6,524.1 L340.8,524.8 L341,525.5 L341.1,526.2 L341.1,526.9 L341.1,527.7 L341.1,528.4 L341,529.2 L340.8,530 L340.7,530.8 L340.4,531.5 L340.1,532.3 L339.8,533.1 L339.5,533.8 L339.1,534.6 L338.7,535.3 L338.2,536 L337.7,536.6 L337.2,537.3 L336.6,537.9 L336,538.5 L335.4,539 L334.8,539.5 L334.2,539.9 L333.5,540.3 L332.8,540.7 L332.2,541 L331.5,541.2 L330.8,541.4 L330.2,541.6 L329.5,541.7 L328.9,541.7 L328.2,541.7 L327.6,541.6 L327,541.5 L326.4,541.3 L325.8,541.1 L325.3,540.8 L324.8,540.5 L324.4,540.1 L323.9,539.6 L323.5,539.2 L323.2,538.7 L322.9,538.1 L322.6,537.5 L322.4,536.9 L322.2,536.2 L322,535.5 L321.9,534.8 L321.9,534.1 L321.9,533.3 L321.9,532.6 L322,531.8 L322.2,531 L322.3,530.2 L322.6,529.5 L322.9,528.7 L323.2,527.9 L323.5,527.2 L323.9,526.4 L324.3,525.7 L324.8,525 L325.3,524.4 L325.8,523.7 L326.4,523.1 L327,522.5 L327.6,522 L328.2,521.5 L328.8,521.1 L329.5,520.7 L330.2,520.3 L330.8,520 L331.5,519.8 L332.2,519.6 L332.8,519.4 L333.5,519.3 L334.1,519.3 L334.8,519.3 L335.4,519.4 L336,519.5 L336.6,519.7 L337.2,519.9 Z" fill="none" stroke="#111" stroke-width="1.7"/>
<path d="M337.9,534.4 L337.4,535.1 L336.9,535.8 L336.4,536.5 L335.9,537.1 L335.3,537.7 L334.7,538.2 L334.1,538.7 L333.5,539.2 L332.8,539.6 L332.2,540 L331.5,540.3 L330.8,540.6 L330.2,540.8 L329.5,541 L328.8,541.1 L328.2,541.2 L327.5,541.2 L326.9,541.2 L326.3,541.1 L325.7,540.9 L325.1,540.7 L324.6,540.4 L324.1,540.1 L323.6,539.8 L323.1,539.4 L322.7,538.9 L322.3,538.4 L322,537.9 L321.7,537.3 L321.5,536.7 L321.3,536.1 L321.1,535.4 L321,534.7 L320.9,534 L320.9,533.2 L320.9,532.5 L321,531.7 L321.1,530.9 L321.3,530.1 L321.5,529.4" fill="none" stroke="#111" stroke-width="1.4"/>
<path d="M349.6,554.2 L349,554.1 L348.4,553.9 L347.8,553.6 L347.3,553.3 L346.7,552.9 L346.3,552.5 L345.8,552 L345.4,551.5 L345,550.9 L344.7,550.3 L344.5,549.7 L344.2,549 L344.1,548.3 L343.9,547.5 L343.9,546.8 L343.9,546 L343.9,545.2 L344,544.3 L344.1,543.5 L344.3,542.7 L344.5,541.8 L344.8,541 L345.1,540.2 L345.4,539.3 L345.9,538.5 L346.3,537.7 L346.8,537 L347.3,536.2 L347.9,535.5 L348.4,534.9 L349.1,534.2 L349.7,533.7 L350.4,533.1 L351,532.6 L351.7,532.1 L352.4,531.7 L353.1,531.4 L353.8,531.1 L354.6,530.9 L355.3,530.7 L356,530.6 L356.7,530.5 L357.4,530.5 L358,530.5 L358.7,530.7 L359.3,530.8 L359.9,531.1" fill="none" stroke="#111" stroke-width="1.8"/>
<path d="M360.6,531.4 L367.6,535.3" fill="none" stroke="#111" stroke-width="1.8"/>
<path d="M347.4,553.4 L354.4,557.3" fill="none" stroke="#111" stroke-width="1.8"/>
<path d="M367.6,535.3 L368.1,535.7 L368.6,536.1 L369.1,536.5 L369.5,537 L369.8,537.6 L370.2,538.2 L370.4,538.8 L370.7,539.5 L370.9,540.1 L371,540.9 L371.1,541.6 L371.1,542.4 L371.1,543.2 L371.1,544 L371,544.8 L370.8,545.7 L370.6,546.5 L370.4,547.3 L370.1,548.1 L369.7,549 L369.4,549.8 L368.9,550.5 L368.5,551.3 L368,552.1 L367.5,552.8 L366.9,553.5 L366.3,554.1 L365.7,554.7 L365,555.3 L364.4,555.8 L363.7,556.3 L363,556.7 L362.3,557.1 L361.6,557.4 L360.9,557.7 L360.2,557.9 L359.5,558.1 L358.8,558.2 L358.1,558.2 L357.4,558.2 L356.8,558.1 L356.2,558 L355.5,557.8 L355,557.6 L354.4,557.3 L353.9,556.9 L353.4,556.5 L352.9,556.1 L352.5,555.6 L352.2,555 L351.8,554.4 L351.6,553.8 L351.3,553.1 L351.1,552.5 L351,551.7 L350.9,551 L350.9,550.2 L350.9,549.4 L350.9,548.6 L351,547.8 L351.2,546.9 L351.4,546.1 L351.6,545.3 L351.9,544.5 L352.3,543.6 L352.6,542.8 L353.1,542.1 L353.5,541.3 L354,540.5 L354.5,539.8 L355.1,539.1 L355.7,538.5 L356.3,537.9 L357,537.3 L357.6,536.8 L358.3,536.3 L359,535.9 L359.7,535.5 L360.4,535.2 L361.1,534.9 L361.8,534.7 L362.5,534.5 L363.2,534.4 L363.9,534.4 L364.6,534.4 L365.2,534.5 L365.8,534.6 L366.5,534.8 L367,535 Z" fill="none" stroke="#111" stroke-width="1.8"/>
<path d="M366.3,537.5 L366.7,537.7 L367.1,538.1 L367.4,538.4 L367.8,538.8 L368,539.2 L368.3,539.7 L368.5,540.2 L368.7,540.7 L368.8,541.3 L368.9,541.9 L369,542.5 L369,543.1 L369,543.7 L368.9,544.4 L368.8,545 L368.7,545.7 L368.6,546.3 L368.3,547 L368.1,547.7 L367.8,548.3 L367.5,549 L367.2,549.6 L366.8,550.2 L366.4,550.8 L366,551.4 L365.5,551.9 L365.1,552.5 L364.6,553 L364.1,553.4 L363.5,553.8 L363,554.2 L362.5,554.6 L361.9,554.9 L361.4,555.2 L360.8,555.4 L360.2,555.6 L359.7,555.7 L359.1,555.8 L358.6,555.8 L358.1,555.8 L357.6,555.8 L357.1,555.7 L356.6,555.5 L356.1,555.4 L355.7,555.1 L355.3,554.9 L354.9,554.5 L354.6,554.2 L354.2,553.8 L354,553.4 L353.7,552.9 L353.5,552.4 L353.3,551.9 L353.2,551.3 L353.1,550.7 L353,550.1 L353,549.5 L353,548.9 L353.1,548.2 L353.2,547.6 L353.3,546.9 L353.4,546.3 L353.7,545.6 L353.9,544.9 L354.2,544.3 L354.5,543.6 L354.8,543 L355.2,542.4 L355.6,541.8 L356,541.2 L356.5,540.7 L356.9,540.1 L357.4,539.6 L357.9,539.2 L358.5,538.8 L359,538.4 L359.5,538 L360.1,537.7 L360.6,537.4 L361.2,537.2 L361.8,537 L362.3,536.9 L362.9,536.8 L363.4,536.8 L363.9,536.8 L364.4,536.8 L364.9,536.9 L365.4,537.1 L365.9,537.2 Z" fill="none" stroke="#111" stroke-width="1.6"/>
<path d="M364.9,539.8 L365.2,540 L365.5,540.2 L365.7,540.5 L365.9,540.7 L366.1,541.1 L366.3,541.4 L366.5,541.8 L366.6,542.1 L366.7,542.5 L366.8,543 L366.8,543.4 L366.8,543.9 L366.8,544.3 L366.7,544.8 L366.7,545.3 L366.6,545.8 L366.4,546.2 L366.3,546.7 L366.1,547.2 L365.9,547.7 L365.7,548.2 L365.4,548.6 L365.1,549.1 L364.9,549.5 L364.5,550 L364.2,550.4 L363.9,550.8 L363.5,551.1 L363.1,551.5 L362.8,551.8 L362.4,552.1 L362,552.3 L361.6,552.6 L361.2,552.8 L360.8,552.9 L360.4,553.1 L360,553.2 L359.6,553.3 L359.2,553.3 L358.8,553.3 L358.4,553.3 L358.1,553.2 L357.7,553.1 L357.4,553 L357.1,552.8 L356.8,552.6 L356.5,552.4 L356.3,552.1 L356.1,551.9 L355.9,551.5 L355.7,551.2 L355.5,550.8 L355.4,550.5 L355.3,550.1 L355.2,549.6 L355.2,549.2 L355.2,548.7 L355.2,548.3 L355.3,547.8 L355.3,547.3 L355.4,546.8 L355.6,546.4 L355.7,545.9 L355.9,545.4 L356.1,544.9 L356.3,544.4 L356.6,544 L356.9,543.5 L357.1,543.1 L357.5,542.6 L357.8,542.2 L358.1,541.8 L358.5,541.5 L358.9,541.1 L359.2,540.8 L359.6,540.5 L360,540.3 L360.4,540 L360.8,539.8 L361.2,539.7 L361.6,539.5 L362,539.4 L362.4,539.3 L362.8,539.3 L363.2,539.3 L363.6,539.3 L363.9,539.4 L364.3,539.5 L364.6,539.6 Z" fill="none" stroke="#111" stroke-width="2.8"/>
<path d="M363.3,542.5 L363.4,542.6 L363.6,542.8 L363.7,542.9 L363.8,543.1 L364,543.2 L364,543.4 L364.1,543.6 L364.2,543.9 L364.2,544.1 L364.3,544.3 L364.3,544.6 L364.3,544.8 L364.3,545.1 L364.3,545.4 L364.2,545.7 L364.2,545.9 L364.1,546.2 L364,546.5 L363.9,546.8 L363.8,547.1 L363.6,547.3 L363.5,547.6 L363.3,547.9 L363.2,548.1 L363,548.4 L362.8,548.6 L362.6,548.8 L362.4,549 L362.2,549.2 L361.9,549.4 L361.7,549.6 L361.5,549.8 L361.3,549.9 L361,550 L360.8,550.1 L360.6,550.2 L360.4,550.3 L360.1,550.3 L359.9,550.3 L359.7,550.3 L359.5,550.3 L359.3,550.3 L359.1,550.2 L358.9,550.2 L358.7,550.1 L358.6,550 L358.4,549.8 L358.3,549.7 L358.2,549.5 L358,549.4 L358,549.2 L357.9,549 L357.8,548.7 L357.8,548.5 L357.7,548.3 L357.7,548 L357.7,547.8 L357.7,547.5 L357.7,547.2 L357.8,546.9 L357.8,546.7 L357.9,546.4 L358,546.1 L358.1,545.8 L358.2,545.5 L358.4,545.3 L358.5,545 L358.7,544.7 L358.8,544.5 L359,544.2 L359.2,544 L359.4,543.8 L359.6,543.6 L359.8,543.4 L360.1,543.2 L360.3,543 L360.5,542.8 L360.7,542.7 L361,542.6 L361.2,542.5 L361.4,542.4 L361.6,542.3 L361.9,542.3 L362.1,542.3 L362.3,542.3 L362.5,542.3 L362.7,542.3 L362.9,542.4 L363.1,542.4 Z" fill="none" stroke="#111" stroke-width="1.6"/>
<path d="M255.5,485.5 L296.5,509.2" fill="none" stroke="#111" stroke-width="1.7"/>
<path d="M328,509 L381,538" fill="none" stroke="#111" stroke-width="1.7"/>
<path d="M405.5,552.8 L446,576 L453.5,572.2" fill="none" stroke="#111" stroke-width="1.7"/>
<path d="M465,567.5 L473.3,562.8 L485.8,570" fill="none" stroke="#111" stroke-width="1.7"/>
<path d="M381.3,541.1 L383.8,538.4 L386.4,535.7 L389.1,533.3 L391.8,531.1 L394.6,529 L397.5,527.2 L400.4,525.5 L403.3,524.1 L406.2,522.9 L409.1,522 L411.9,521.3 L414.7,520.8 L417.5,520.6 L420.2,520.6 L422.8,520.9 L425.3,521.5 L427.7,522.2 L429.9,523.2 L432.1,524.5 L434.1,526 L435.9,527.6 L437.6,529.6 L439.1,531.7 L440.5,534 L441.6,536.5 L442.6,539.1 L443.4,541.9 L444,544.9 L444.3,548 L444.5,551.2 L444.5,554.4 L444.2,557.8 L443.8,561.2 L443.1,564.7 L442.3,568.2 L441.3,571.8 L440.1,575.3 L438.7,578.8 L437.1,582.2 L435.4,585.7 L433.5,589 L431.4,592.2 L429.2,595.4 L426.9,598.4 L424.5,601.2 L421.9,604 L419.3,606.5 L416.6,608.9 L413.8,611.1 L411,613.1 L408.1,614.9 L405.2,616.5 L402.3,617.8 L399.4,619 L396.6,619.8 L393.7,620.5 L390.9,620.9 L388.2,621 L385.5,620.9 L382.9,620.6 L380.5,620 L378.1,619.1 L375.9,618.1 L373.8,616.7 L371.8,615.2 L370,613.5 L368.3,611.5 L366.9,609.3 L365.6,607 L364.5,604.4 L363.6,601.7 L362.8,598.9 L362.3,595.9 L362,592.8 L361.9,589.6 L362,586.2 L362.3,582.9 L362.8,579.4 L363.5,575.9 L364.3,572.4 L365.4,568.9 L366.7,565.4" fill="none" stroke="#111" stroke-width="1.7" stroke-dasharray="16 3 3 3"/>
<path d="M392.2,619.4 L389.4,619.8 L386.7,620 L384,619.9 L381.4,619.6 L379,619 L376.6,618.2 L374.4,617.2 L372.2,615.9 L370.3,614.4 L368.5,612.7 L366.8,610.8 L365.3,608.7 L364,606.4 L362.9,603.9 L361.9,601.2 L361.2,598.4 L360.6,595.5 L360.3,592.4 L360.1,589.2 L360.1,586 L360.4,582.6 L360.8,579.2 L361.5,575.7 L362.3,572.2 L363.3,568.7 L364.6,565.2 L366,561.7 L367.5,558.3 L369.3,554.9 L371.1,551.6 L373.2,548.4 L375.4,545.3 L377.6,542.3 L380.1,539.4 L382.6,536.7" fill="none" stroke="#111" stroke-width="1.7" stroke-dasharray="16 3 3 3"/>
<path d="M414.8,551.5 L415.6,552.1 L416.3,552.7 L417,553.4 L417.6,554.2 L418.2,555.1 L418.7,556.1 L419.1,557.2 L419.4,558.3 L419.6,559.4 L419.8,560.7 L419.9,561.9 L419.9,563.3 L419.8,564.6 L419.6,566 L419.4,567.4 L419.1,568.8 L418.7,570.3 L418.2,571.7 L417.6,573.1 L417,574.6 L416.3,576 L415.6,577.3 L414.8,578.7 L413.9,580 L413,581.3 L412,582.5 L411,583.6 L410,584.7 L408.9,585.7 L407.8,586.7 L406.7,587.6 L405.5,588.4 L404.4,589.1 L403.2,589.7 L402,590.2 L400.9,590.6 L399.7,591 L398.6,591.2 L397.5,591.4 L396.4,591.4 L395.4,591.3 L394.4,591.2 L393.4,590.9 L392.5,590.5 L391.6,590.1 L390.8,589.5 L390.1,588.9 L389.4,588.2 L388.8,587.4 L388.2,586.5 L387.7,585.5 L387.3,584.4 L387,583.3 L386.8,582.2 L386.6,580.9 L386.5,579.7 L386.5,578.3 L386.6,577 L386.8,575.6 L387,574.2 L387.3,572.8 L387.7,571.3 L388.2,569.9 L388.8,568.5 L389.4,567 L390.1,565.6 L390.8,564.3 L391.6,562.9 L392.5,561.6 L393.4,560.3 L394.4,559.1 L395.4,558 L396.4,556.9 L397.5,555.9 L398.6,554.9 L399.7,554 L400.9,553.2 L402,552.5 L403.2,551.9 L404.4,551.4 L405.5,551 L406.7,550.6 L407.8,550.4 L408.9,550.2 L410,550.2 L411,550.3 L412,550.4 L413,550.7 L413.9,551.1 Z" fill="none" stroke="#111" stroke-width="1.8"/>
<path d="M395,534 L391.2,532.5 L392.7,537 L387.5,537.7 L389.3,541.8 L383.7,542.7 L385.7,546.7 L380,547.5 L381.8,551.7 L376.2,552.7 L378.2,556.8 L372.5,558 L374.3,562.2 L369.5,563.2 L371,567" fill="none" stroke="#111" stroke-width="2.3"/>
<path d="M410,538.5 C410.7,537.1 413.5,535.7 416,535.5 C418.5,535.2 423.1,535.9 425,537 C426.9,538.1 427.5,540.5 427.2,542.2 C427,544 425.1,546.7 423.5,547.5 C421.9,548.2 419.5,547.4 417.5,546.7 C415.5,546.1 412.7,545.1 411.5,543.7 C410.2,542.4 409.2,539.9 410,538.5 Z" fill="none" stroke="#111" stroke-width="1.8"/>
<path d="M428,555 C429.1,554 431,553 431.7,555 C432.5,557 433.1,563 432.5,567 C431.9,571 429.5,576.7 428,579 C426.5,581.2 424.4,582 423.5,580.5 C422.6,579 422.5,573.2 422.7,570 C423,566.7 424.1,563.5 425,561 C425.9,558.5 426.9,556 428,555 Z" fill="none" stroke="#111" stroke-width="1.8"/>
<path d="M396.5,603 C396.7,601 399.7,597.2 402.5,595.5 C405.2,593.7 410.9,592.2 413,592.5 C415.1,592.7 415.7,595.2 415.2,597 C414.7,598.7 412.4,601.2 410,603 C407.6,604.7 403.2,607.5 401,607.5 C398.7,607.5 396.2,605 396.5,603 Z" fill="none" stroke="#111" stroke-width="1.8"/>
<path d="M374,585 C374.9,582.5 378.1,583 380,583.5 C381.9,584 384.6,585.5 385.2,588 C385.9,590.5 384.7,595.7 383.7,598.5 C382.7,601.2 380.7,604.5 379.2,604.5 C377.7,604.5 375.6,601.7 374.7,598.5 C373.9,595.2 373.1,587.5 374,585 Z" fill="none" stroke="#111" stroke-width="1.8"/>
<path d="M380,561 C380.2,559.2 383.5,554.6 386,552 C388.5,549.4 393,546 395,545.2 C397,544.5 398.2,545.9 398,547.5 C397.7,549.1 395.7,552.5 393.5,555 C391.2,557.5 386.7,561.5 384.5,562.5 C382.2,563.5 379.7,562.7 380,561 Z" fill="none" stroke="#111" stroke-width="1.8"/>
<path d="M405.9,548.6 L406,548.7 L406.1,548.7 L406.1,548.8 L406.2,548.9 L406.3,549 L406.3,549.1 L406.4,549.2 L406.4,549.3 L406.5,549.5 L406.5,549.6 L406.5,549.7 L406.5,549.8 L406.5,550 L406.5,550.1 L406.5,550.3 L406.5,550.4 L406.4,550.6 L406.4,550.7 L406.4,550.8 L406.3,551 L406.2,551.1 L406.2,551.3 L406.1,551.4 L406,551.5 L405.9,551.6 L405.8,551.8 L405.7,551.9 L405.6,552 L405.5,552.1 L405.4,552.2 L405.3,552.2 L405.1,552.3 L405,552.4 L404.9,552.4 L404.8,552.5 L404.6,552.5 L404.5,552.5 L404.4,552.5 L404.3,552.6 L404.2,552.6 L404,552.5 L403.9,552.5 L403.8,552.5 L403.7,552.4 L403.6,552.4 L403.5,552.3 L403.4,552.3 L403.4,552.2 L403.3,552.1 L403.2,552 L403.2,551.9 L403.1,551.8 L403.1,551.7 L403,551.5 L403,551.4 L403,551.3 L403,551.1 L403,551 L403,550.9 L403,550.7 L403,550.6 L403.1,550.4 L403.1,550.3 L403.1,550.2 L403.2,550 L403.3,549.9 L403.3,549.7 L403.4,549.6 L403.5,549.5 L403.6,549.4 L403.7,549.2 L403.8,549.1 L403.9,549 L404,548.9 L404.1,548.8 L404.2,548.8 L404.4,548.7 L404.5,548.6 L404.6,548.6 L404.7,548.5 L404.9,548.5 L405,548.5 L405.1,548.4 L405.2,548.4 L405.3,548.4 L405.5,548.5 L405.6,548.5 L405.7,548.5 L405.8,548.6 Z" fill="none" stroke="#111" stroke-width="1.6"/>
<path d="M422.8,555.8 L422.9,555.9 L423,555.9 L423.1,556 L423.2,556.1 L423.2,556.2 L423.3,556.3 L423.3,556.4 L423.4,556.5 L423.4,556.7 L423.4,556.8 L423.5,556.9 L423.5,557 L423.5,557.2 L423.5,557.3 L423.5,557.5 L423.4,557.6 L423.4,557.8 L423.4,557.9 L423.3,558 L423.2,558.2 L423.2,558.3 L423.1,558.5 L423,558.6 L422.9,558.7 L422.9,558.8 L422.8,559 L422.7,559.1 L422.5,559.2 L422.4,559.3 L422.3,559.4 L422.2,559.4 L422.1,559.5 L422,559.6 L421.8,559.6 L421.7,559.7 L421.6,559.7 L421.5,559.7 L421.3,559.7 L421.2,559.8 L421.1,559.8 L421,559.7 L420.9,559.7 L420.8,559.7 L420.7,559.6 L420.6,559.6 L420.5,559.5 L420.4,559.5 L420.3,559.4 L420.2,559.3 L420.2,559.2 L420.1,559.1 L420.1,559 L420,558.9 L420,558.7 L419.9,558.6 L419.9,558.5 L419.9,558.3 L419.9,558.2 L419.9,558.1 L419.9,557.9 L420,557.8 L420,557.6 L420,557.5 L420.1,557.4 L420.1,557.2 L420.2,557.1 L420.3,556.9 L420.4,556.8 L420.5,556.7 L420.5,556.6 L420.6,556.4 L420.7,556.3 L420.8,556.2 L421,556.1 L421.1,556 L421.2,556 L421.3,555.9 L421.4,555.8 L421.6,555.8 L421.7,555.7 L421.8,555.7 L421.9,555.7 L422.1,555.6 L422.2,555.6 L422.3,555.6 L422.4,555.7 L422.5,555.7 L422.6,555.7 L422.7,555.8 Z" fill="none" stroke="#111" stroke-width="1.6"/>
<path d="M415.6,580.9 L415.7,580.9 L415.8,581 L415.9,581.1 L416,581.2 L416,581.3 L416.1,581.4 L416.1,581.5 L416.2,581.6 L416.2,581.7 L416.2,581.8 L416.3,582 L416.3,582.1 L416.3,582.2 L416.3,582.4 L416.3,582.5 L416.2,582.7 L416.2,582.8 L416.2,582.9 L416.1,583.1 L416,583.2 L416,583.4 L415.9,583.5 L415.8,583.6 L415.7,583.8 L415.7,583.9 L415.6,584 L415.5,584.1 L415.3,584.2 L415.2,584.3 L415.1,584.4 L415,584.5 L414.9,584.6 L414.8,584.6 L414.6,584.7 L414.5,584.7 L414.4,584.8 L414.3,584.8 L414.1,584.8 L414,584.8 L413.9,584.8 L413.8,584.8 L413.7,584.8 L413.6,584.7 L413.5,584.7 L413.4,584.6 L413.3,584.6 L413.2,584.5 L413.1,584.4 L413,584.3 L413,584.2 L412.9,584.1 L412.9,584 L412.8,583.9 L412.8,583.8 L412.7,583.7 L412.7,583.5 L412.7,583.4 L412.7,583.3 L412.7,583.1 L412.7,583 L412.8,582.8 L412.8,582.7 L412.8,582.5 L412.9,582.4 L412.9,582.3 L413,582.1 L413.1,582 L413.2,581.9 L413.3,581.7 L413.3,581.6 L413.4,581.5 L413.5,581.4 L413.6,581.3 L413.8,581.2 L413.9,581.1 L414,581 L414.1,580.9 L414.2,580.9 L414.4,580.8 L414.5,580.8 L414.6,580.7 L414.7,580.7 L414.9,580.7 L415,580.7 L415.1,580.7 L415.2,580.7 L415.3,580.7 L415.4,580.8 L415.5,580.8 Z" fill="none" stroke="#111" stroke-width="1.6"/>
<path d="M395.4,592.9 L395.5,592.9 L395.6,593 L395.6,593.1 L395.7,593.2 L395.8,593.3 L395.8,593.4 L395.9,593.5 L395.9,593.6 L396,593.7 L396,593.8 L396,594 L396,594.1 L396,594.2 L396,594.4 L396,594.5 L396,594.7 L395.9,594.8 L395.9,594.9 L395.9,595.1 L395.8,595.2 L395.7,595.4 L395.7,595.5 L395.6,595.6 L395.5,595.8 L395.4,595.9 L395.3,596 L395.2,596.1 L395.1,596.2 L395,596.3 L394.9,596.4 L394.8,596.5 L394.6,596.6 L394.5,596.6 L394.4,596.7 L394.3,596.7 L394.1,596.8 L394,596.8 L393.9,596.8 L393.8,596.8 L393.7,596.8 L393.5,596.8 L393.4,596.8 L393.3,596.7 L393.2,596.7 L393.1,596.6 L393,596.6 L392.9,596.5 L392.9,596.4 L392.8,596.3 L392.7,596.2 L392.7,596.1 L392.6,596 L392.6,595.9 L392.5,595.8 L392.5,595.7 L392.5,595.5 L392.5,595.4 L392.5,595.3 L392.5,595.1 L392.5,595 L392.5,594.8 L392.6,594.7 L392.6,594.5 L392.6,594.4 L392.7,594.3 L392.8,594.1 L392.8,594 L392.9,593.9 L393,593.7 L393.1,593.6 L393.2,593.5 L393.3,593.4 L393.4,593.3 L393.5,593.2 L393.6,593.1 L393.7,593 L393.9,592.9 L394,592.9 L394.1,592.8 L394.2,592.8 L394.4,592.7 L394.5,592.7 L394.6,592.7 L394.7,592.7 L394.8,592.7 L395,592.7 L395.1,592.7 L395.2,592.8 L395.3,592.8 Z" fill="none" stroke="#111" stroke-width="1.6"/>
<path d="M387.9,573.4 L388,573.4 L388.1,573.5 L388.1,573.6 L388.2,573.7 L388.3,573.8 L388.3,573.9 L388.4,574 L388.4,574.1 L388.5,574.2 L388.5,574.3 L388.5,574.5 L388.5,574.6 L388.5,574.7 L388.5,574.9 L388.5,575 L388.5,575.2 L388.4,575.3 L388.4,575.4 L388.4,575.6 L388.3,575.7 L388.2,575.9 L388.2,576 L388.1,576.1 L388,576.3 L387.9,576.4 L387.8,576.5 L387.7,576.6 L387.6,576.7 L387.5,576.8 L387.4,576.9 L387.3,577 L387.1,577.1 L387,577.1 L386.9,577.2 L386.8,577.2 L386.6,577.3 L386.5,577.3 L386.4,577.3 L386.3,577.3 L386.2,577.3 L386,577.3 L385.9,577.3 L385.8,577.2 L385.7,577.2 L385.6,577.1 L385.5,577.1 L385.4,577 L385.4,576.9 L385.3,576.8 L385.2,576.7 L385.2,576.6 L385.1,576.5 L385.1,576.4 L385,576.3 L385,576.2 L385,576 L385,575.9 L385,575.8 L385,575.6 L385,575.5 L385,575.3 L385.1,575.2 L385.1,575 L385.1,574.9 L385.2,574.8 L385.3,574.6 L385.3,574.5 L385.4,574.4 L385.5,574.2 L385.6,574.1 L385.7,574 L385.8,573.9 L385.9,573.8 L386,573.7 L386.1,573.6 L386.2,573.5 L386.4,573.4 L386.5,573.4 L386.6,573.3 L386.7,573.3 L386.9,573.2 L387,573.2 L387.1,573.2 L387.2,573.2 L387.3,573.2 L387.5,573.2 L387.6,573.2 L387.7,573.3 L387.8,573.3 Z" fill="none" stroke="#111" stroke-width="1.6"/>
<path d="M276,645 L343.8,597.5" fill="none" stroke="#111" stroke-width="1.7" stroke-dasharray="60 3 3 3 200"/>
<path d="M350,593.3 L405.5,554" fill="none" stroke="#111" stroke-width="1.7"/>
<path d="M405.5,553.5 C407.5,551.7 412.7,546 417.5,543 C422.2,540 429,536.4 434,535.5 C439,534.6 443.5,535.7 447.5,537.7 C451.5,539.7 455.6,543.4 458,547.5 C460.4,551.6 461.7,557 461.7,562.5 C461.7,568 460.4,574.7 458,580.5 C455.6,586.2 451.9,591.7 447.5,597 C443.1,602.2 437.6,607.2 431.7,612 C425.9,616.7 421.1,620.7 412.5,625.5 C403.9,630.3 385.4,638 380,640.5" fill="none" stroke="#111" stroke-width="1.7" stroke-dasharray="52 3 3 3"/>
<path d="M380,640.5 L354,652.3" fill="none" stroke="#111" stroke-width="1.7"/>
<path d="M350.8,653.8 L349.6,654.3" fill="none" stroke="#111" stroke-width="1.7"/>
<path d="M346.5,655.8 L294,679.6" fill="none" stroke="#111" stroke-width="1.7"/>
<path d="M290.8,681 L289.6,681.6" fill="none" stroke="#111" stroke-width="1.7"/>
<path d="M286.5,683 L272,689.6" fill="none" stroke="#111" stroke-width="1.7"/>
<path d="M276,645 C273.8,646.5 266.4,650.5 262.5,653.8 C258.6,657.1 254.9,661.6 252.5,665 C250.1,668.4 249,672.5 248.3,674" fill="none" stroke="#111" stroke-width="1.7"/>
<path d="M248,679 C248.3,680.4 248.4,685.2 250,687.5 C251.6,689.8 255,691.7 257.5,692.5 C260,693.3 262.6,692.7 265,692.2 C267.4,691.8 270.8,690.2 272,689.8" fill="none" stroke="#111" stroke-width="1.7"/>
<path d="M487.6,577.2 L488.4,571.1 L493.4,567.6 L497.8,570.2 L502.1,572.8 L501.3,578.9 L496.3,582.4 L491.9,579.8 Z" fill="#fff" stroke="#111" stroke-width="2"/>
<path d="M502.1,572.8 L501.3,578.9 L496.3,582.4 L491.9,579.8 L492.7,573.7 L497.7,570.2 Z" fill="none" stroke="#111" stroke-width="2"/>
<path d="M502.1,572.8 L497.8,570.2" fill="none" stroke="#111" stroke-width="2"/>
<path d="M491.9,579.8 L487.6,577.2" fill="none" stroke="#111" stroke-width="2"/>
<path d="M492.7,573.7 L488.4,571.1" fill="none" stroke="#111" stroke-width="2"/>
<path d="M497.7,570.2 L493.4,567.6" fill="none" stroke="#111" stroke-width="2"/>
<path d="M498.9,573.2 L499,573.3 L499.2,573.4 L499.3,573.6 L499.4,573.7 L499.5,573.9 L499.6,574 L499.7,574.2 L499.8,574.4 L499.9,574.6 L499.9,574.8 L499.9,575 L500,575.3 L500,575.5 L500,575.7 L499.9,576 L499.9,576.2 L499.8,576.4 L499.8,576.7 L499.7,576.9 L499.6,577.1 L499.5,577.4 L499.4,577.6 L499.2,577.8 L499.1,578 L499,578.2 L498.8,578.4 L498.6,578.6 L498.5,578.7 L498.3,578.9 L498.1,579 L497.9,579.2 L497.7,579.3 L497.5,579.4 L497.3,579.5 L497.1,579.6 L496.9,579.6 L496.7,579.7 L496.4,579.7 L496.2,579.7 L496,579.7 L495.9,579.6 L495.7,579.6 L495.5,579.5 L495.3,579.5 L495.1,579.4 L495,579.3 L494.8,579.2 L494.7,579 L494.6,578.9 L494.5,578.7 L494.4,578.6 L494.3,578.4 L494.2,578.2 L494.1,578 L494.1,577.8 L494.1,577.6 L494,577.3 L494,577.1 L494,576.9 L494.1,576.6 L494.1,576.4 L494.2,576.2 L494.2,575.9 L494.3,575.7 L494.4,575.5 L494.5,575.2 L494.6,575 L494.8,574.8 L494.9,574.6 L495,574.4 L495.2,574.2 L495.4,574 L495.5,573.9 L495.7,573.7 L495.9,573.6 L496.1,573.4 L496.3,573.3 L496.5,573.2 L496.7,573.1 L496.9,573 L497.1,573 L497.3,572.9 L497.6,572.9 L497.8,572.9 L498,572.9 L498.1,573 L498.3,573 L498.5,573.1 L498.7,573.1 Z" fill="none" stroke="#111" stroke-width="3.1"/>
<path d="M459.3,618.3 L458.6,618.4 L457.8,618.4 L457,618.4 L456.3,618.2 L455.6,618.1 L454.9,617.8 L454.2,617.5 L453.6,617.1 L453,616.7 L452.5,616.2 L452,615.6 L451.6,615 L451.2,614.3 L450.8,613.6 L450.5,612.9 L450.3,612.1 L450.1,611.3 L450,610.4 L449.9,609.5 L449.9,608.6 L450,607.7 L450.1,606.8 L450.3,605.8 L450.5,604.9 L450.8,603.9 L451.1,603 L451.5,602 L451.9,601.1 L452.4,600.2 L452.9,599.3 L453.5,598.5 L454.1,597.7 L454.7,596.9 L455.4,596.2 L456.1,595.5 L456.8,594.8 L457.6,594.2 L458.4,593.7 L459.2,593.2 L460,592.8 L460.8,592.4 L461.6,592.1 L462.4,591.9 L463.2,591.7 L464,591.6 L464.8,591.6 L465.6,591.6 L466.3,591.7" fill="none" stroke="#111" stroke-width="1.8"/>
<path d="M471.4,594.2 L472,594.6 L472.6,595 L473.1,595.5 L473.5,596.1 L474,596.7 L474.3,597.4 L474.7,598.1 L474.9,598.8 L475.1,599.6 L475.3,600.4 L475.4,601.3 L475.5,602.1 L475.5,603 L475.4,604 L475.3,604.9 L475.1,605.8 L474.9,606.7 L474.6,607.7 L474.3,608.6 L473.9,609.5 L473.5,610.4 L473,611.3 L472.5,612.2 L471.9,613 L471.3,613.8 L470.7,614.6 L470,615.3 L469.3,616 L468.6,616.6 L467.9,617.2 L467.1,617.8 L466.3,618.2 L465.5,618.7 L464.7,619 L463.9,619.3 L463.1,619.6 L462.3,619.8 L461.6,619.9 L460.8,619.9 L460,619.9 L459.3,619.8 L458.6,619.7 L457.9,619.5 L457.2,619.2 L456.6,618.8 L456,618.4 L455.4,618 L454.9,617.5 L454.5,616.9 L454,616.3 L453.7,615.6 L453.3,614.9 L453.1,614.2 L452.9,613.4 L452.7,612.6 L452.6,611.7 L452.5,610.9 L452.5,610 L452.6,609 L452.7,608.1 L452.9,607.2 L453.1,606.3 L453.4,605.3 L453.7,604.4 L454.1,603.5 L454.5,602.6 L455,601.7 L455.5,600.8 L456.1,600 L456.7,599.2 L457.3,598.4 L458,597.7 L458.7,597 L459.4,596.4 L460.1,595.8 L460.9,595.2 L461.7,594.8 L462.5,594.3 L463.3,594 L464.1,593.7 L464.9,593.4 L465.7,593.2 L466.4,593.1 L467.2,593.1 L468,593.1 L468.7,593.2 L469.4,593.3 L470.1,593.5 L470.8,593.8 Z" fill="none" stroke="#111" stroke-width="1.8"/>
<path d="M469.9,596.7 L470.3,597 L470.7,597.4 L471.1,597.8 L471.5,598.2 L471.8,598.7 L472.1,599.2 L472.3,599.8 L472.5,600.3 L472.7,601 L472.8,601.6 L472.9,602.3 L472.9,602.9 L472.9,603.6 L472.8,604.4 L472.7,605.1 L472.6,605.8 L472.4,606.6 L472.2,607.3 L471.9,608 L471.6,608.8 L471.3,609.5 L470.9,610.2 L470.5,610.9 L470,611.5 L469.6,612.2 L469.1,612.8 L468.5,613.3 L468,613.9 L467.4,614.4 L466.9,614.9 L466.3,615.3 L465.7,615.7 L465,616 L464.4,616.3 L463.8,616.6 L463.2,616.8 L462.6,616.9 L462,617 L461.4,617.1 L460.8,617.1 L460.2,617 L459.6,616.9 L459.1,616.7 L458.6,616.5 L458.1,616.3 L457.7,616 L457.3,615.6 L456.9,615.2 L456.5,614.8 L456.2,614.3 L455.9,613.8 L455.7,613.2 L455.5,612.7 L455.3,612 L455.2,611.4 L455.1,610.7 L455.1,610.1 L455.1,609.4 L455.2,608.6 L455.3,607.9 L455.4,607.2 L455.6,606.4 L455.8,605.7 L456.1,605 L456.4,604.2 L456.7,603.5 L457.1,602.8 L457.5,602.1 L458,601.5 L458.4,600.8 L458.9,600.2 L459.5,599.7 L460,599.1 L460.6,598.6 L461.1,598.1 L461.7,597.7 L462.3,597.3 L463,597 L463.6,596.7 L464.2,596.4 L464.8,596.2 L465.4,596.1 L466,596 L466.6,595.9 L467.2,595.9 L467.8,596 L468.4,596.1 L468.9,596.3 L469.4,596.5 Z" fill="none" stroke="#111" stroke-width="1.7"/>
<path d="M469.2,598.9 L469.6,599.2 L469.9,599.4 L470.2,599.7 L470.5,600.1 L470.7,600.5 L471,600.9 L471.1,601.3 L471.3,601.8 L471.4,602.3 L471.5,602.8 L471.5,603.3 L471.6,603.9 L471.5,604.4 L471.5,605 L471.4,605.6 L471.3,606.2 L471.1,606.8 L470.9,607.4 L470.7,607.9 L470.5,608.5 L470.2,609.1 L469.9,609.7 L469.6,610.2 L469.2,610.7 L468.8,611.3 L468.4,611.8 L468,612.2 L467.6,612.7 L467.1,613.1 L466.7,613.5 L466.2,613.8 L465.7,614.1 L465.2,614.4 L464.7,614.7 L464.2,614.9 L463.7,615 L463.3,615.2 L462.8,615.2 L462.3,615.3 L461.8,615.3 L461.4,615.2 L461,615.2 L460.5,615 L460.1,614.9 L459.8,614.7 L459.4,614.4 L459.1,614.2 L458.8,613.9 L458.5,613.5 L458.3,613.1 L458,612.7 L457.9,612.3 L457.7,611.8 L457.6,611.3 L457.5,610.8 L457.5,610.3 L457.4,609.7 L457.5,609.2 L457.5,608.6 L457.6,608 L457.7,607.4 L457.9,606.8 L458.1,606.2 L458.3,605.7 L458.5,605.1 L458.8,604.5 L459.1,603.9 L459.4,603.4 L459.8,602.9 L460.2,602.3 L460.6,601.8 L461,601.4 L461.4,600.9 L461.9,600.5 L462.3,600.1 L462.8,599.8 L463.3,599.5 L463.8,599.2 L464.3,598.9 L464.8,598.7 L465.3,598.6 L465.7,598.4 L466.2,598.4 L466.7,598.3 L467.2,598.3 L467.6,598.4 L468,598.4 L468.5,598.6 L468.9,598.7 Z" fill="none" stroke="#111" stroke-width="2.6"/>
<path d="M469,600.5 L469.3,600.7 L469.5,600.9 L469.8,601.2 L470,601.5 L470.2,601.8 L470.4,602.1 L470.5,602.5 L470.6,602.9 L470.7,603.3 L470.8,603.7 L470.8,604.1 L470.8,604.6 L470.8,605.1 L470.8,605.5 L470.7,606 L470.6,606.5 L470.5,607 L470.3,607.5 L470.1,608 L469.9,608.5 L469.7,609 L469.4,609.4 L469.1,609.9 L468.8,610.4 L468.5,610.8 L468.2,611.2 L467.9,611.6 L467.5,612 L467.1,612.3 L466.7,612.6 L466.3,612.9 L465.9,613.2 L465.5,613.4 L465.1,613.6 L464.7,613.8 L464.3,614 L463.9,614.1 L463.5,614.1 L463.1,614.2 L462.7,614.2 L462.4,614.2 L462,614.1 L461.7,614 L461.3,613.9 L461,613.7 L460.7,613.5 L460.5,613.3 L460.2,613 L460,612.7 L459.8,612.4 L459.6,612.1 L459.5,611.7 L459.4,611.3 L459.3,610.9 L459.2,610.5 L459.2,610.1 L459.2,609.6 L459.2,609.1 L459.2,608.7 L459.3,608.2 L459.4,607.7 L459.5,607.2 L459.7,606.7 L459.9,606.2 L460.1,605.7 L460.3,605.2 L460.6,604.8 L460.9,604.3 L461.2,603.8 L461.5,603.4 L461.8,603 L462.1,602.6 L462.5,602.2 L462.9,601.9 L463.3,601.6 L463.7,601.3 L464.1,601 L464.5,600.8 L464.9,600.6 L465.3,600.4 L465.7,600.2 L466.1,600.1 L466.5,600.1 L466.9,600 L467.3,600 L467.6,600 L468,600.1 L468.3,600.2 L468.7,600.3 Z" fill="none" stroke="#111" stroke-width="1.4"/>
<path d="M486.4,620.8 L486,621.4 L485.5,622 L485.1,622.6 L484.6,623.2 L484,623.7 L483.5,624.1 L483,624.6 L482.4,625 L481.9,625.4 L481.3,625.7 L480.7,625.9 L480.2,626.2 L479.6,626.4 L479.1,626.5 L478.6,626.6 L478,626.6 L477.5,626.6 L477.1,626.6 L476.6,626.4 L476.1,626.3 L475.7,626.1 L475.3,625.8 L475,625.5 L474.7,625.2 L474.4,624.8 L474.1,624.4 L473.9,624 L473.7,623.5 L473.5,622.9 L473.4,622.4 L473.3,621.8 L473.3,621.2 L473.3,620.5 L473.3,619.9 L473.4,619.2 L473.5,618.5 L473.7,617.9 L473.9,617.2 L474.1,616.5 L474.4,615.8 L474.7,615.1 L475,614.4 L475.4,613.7 L475.7,613 L476.2,612.4 L476.6,611.8 L477.1,611.2 L477.5,610.6 L478,610 L478.6,609.5 L479.1,609.1 L479.6,608.6 L480.2,608.2 L480.7,607.8 L481.3,607.5 L481.9,607.3 L482.4,607 L483,606.8 L483.5,606.7 L484,606.6" fill="none" stroke="#111" stroke-width="1.8"/>
<path d="M488.2,622.9 L487.7,623.5 L487.2,624 L486.7,624.6 L486.2,625.1 L485.7,625.6 L485.1,626 L484.6,626.4 L484,626.7 L483.5,627 L482.9,627.3 L482.3,627.5 L481.8,627.7 L481.3,627.8 L480.7,627.9 L480.2,627.9 L479.7,627.9 L479.2,627.8 L478.8,627.7 L478.3,627.5 L477.9,627.3 L477.6,627.1 L477.2,626.8 L476.9,626.4 L476.6,626 L476.3,625.6 L476.1,625.1 L475.9,624.6 L475.8,624.1 L475.7,623.5 L475.6,622.9 L475.6,622.3 L475.6,621.7 L475.7,621 L475.7,620.4 L475.9,619.7 L476,619 L476.2,618.3 L476.5,617.6 L476.7,616.9 L477,616.2 L477.4,615.5 L477.7,614.8 L478.1,614.2 L478.6,613.5 L479,612.9 L479.5,612.3 L480,611.8 L480.5,611.2 L481,610.7 L481.5,610.2 L482.1,609.8 L482.6,609.4 L483.2,609.1 L483.7,608.8 L484.3,608.5" fill="none" stroke="#111" stroke-width="1.7"/>
<path d="M475.6,626 L477.9,627.3" fill="none" stroke="#111" stroke-width="1.7"/>
<path d="M495.6,613.5 L496,613.8 L496.2,614 L496.5,614.3 L496.7,614.6 L496.9,615 L497.1,615.4 L497.3,615.8 L497.4,616.3 L497.5,616.7 L497.5,617.2 L497.5,617.8 L497.5,618.3 L497.5,618.9 L497.4,619.4 L497.3,620 L497.1,620.6 L496.9,621.2 L496.7,621.8 L496.5,622.4 L496.2,623 L496,623.6 L495.6,624.1 L495.3,624.7 L494.9,625.2 L494.6,625.8 L494.2,626.3 L493.7,626.8 L493.3,627.2 L492.9,627.7 L492.4,628.1 L492,628.4 L491.5,628.8 L491,629.1 L490.6,629.3 L490.1,629.6 L489.6,629.8 L489.2,629.9 L488.7,630 L488.3,630.1 L487.8,630.1 L487.4,630.1 L487,630.1 L486.7,630 L486.3,629.8 L486,629.7 L485.6,629.4 L485.4,629.2 L485.1,628.9 L484.9,628.6 L484.7,628.2 L484.5,627.8 L484.3,627.4 L484.2,626.9 L484.1,626.5 L484.1,626 L484.1,625.4 L484.1,624.9 L484.1,624.3 L484.2,623.8 L484.3,623.2 L484.5,622.6 L484.7,622 L484.9,621.4 L485.1,620.8 L485.4,620.2 L485.6,619.6 L486,619.1 L486.3,618.5 L486.7,618 L487,617.4 L487.4,616.9 L487.9,616.4 L488.3,616 L488.7,615.5 L489.2,615.1 L489.6,614.8 L490.1,614.4 L490.6,614.1 L491,613.9 L491.5,613.6 L492,613.4 L492.4,613.3 L492.9,613.2 L493.3,613.1 L493.8,613.1 L494.2,613.1 L494.6,613.1 L494.9,613.2 L495.3,613.4 Z" fill="none" stroke="#111" stroke-width="1.8"/>
<path d="M489.3,610.3 L495.6,613.5" fill="none" stroke="#111" stroke-width="1.8"/>
<path d="M479.7,626.5 L486,629.7" fill="none" stroke="#111" stroke-width="1.8"/>
<path d="M494.4,621.8 L494.3,622.2 L494.1,622.5 L494,622.8 L493.8,623.1 L493.7,623.4 L493.5,623.6 L493.3,623.9 L493.1,624.2 L492.9,624.4 L492.7,624.7 L492.4,624.9 L492.2,625.1 L491.9,625.3 L491.7,625.5 L491.4,625.6 L491.2,625.8 L490.9,625.9 L490.7,626 L490.4,626.1 L490.2,626.1 L490,626.2 L489.7,626.2 L489.5,626.2 L489.3,626.2 L489.1,626.1 L488.9,626 L488.7,625.9 L488.5,625.8 L488.3,625.7 L488.2,625.5 L488,625.4 L487.9,625.2 L487.8,625 L487.7,624.8 L487.7,624.5 L487.6,624.3 L487.6,624 L487.5,623.7 L487.5,623.4 L487.5,623.2 L487.6,622.9 L487.6,622.6 L487.7,622.3 L487.8,621.9 L487.9,621.6 L488,621.3 L488.1,621 L488.3,620.7 L488.4,620.4 L488.6,620.1 L488.8,619.8 L489,619.6 L489.2,619.3 L489.4,619.1 L489.6,618.8 L489.9,618.6 L490.1,618.4" fill="none" stroke="#111" stroke-width="2.1"/>
<path d="M506.2,633.1 L525.6,622.5 L526.2,643.8 L507.5,654.4 Z" fill="none" stroke="#111" stroke-width="2"/>
<path d="M506.2,633.1 L500.6,631.9 L521.2,620.6 L525.6,622.5" fill="none" stroke="#111" stroke-width="2"/>
<path d="M500.6,631.9 L500.6,651.9 L507.5,654.4" fill="none" stroke="#111" stroke-width="2"/>
<path d="M519.1,633.7 L519.3,633.8 L519.5,634 L519.6,634.1 L519.8,634.3 L519.9,634.5 L520,634.7 L520.1,634.9 L520.2,635.1 L520.2,635.4 L520.3,635.6 L520.3,635.9 L520.3,636.1 L520.3,636.4 L520.3,636.7 L520.2,637 L520.2,637.2 L520.1,637.5 L520,637.8 L519.9,638.1 L519.8,638.4 L519.7,638.6 L519.5,638.9 L519.4,639.2 L519.2,639.4 L519,639.7 L518.8,639.9 L518.6,640.1 L518.4,640.3 L518.2,640.5 L518,640.7 L517.7,640.9 L517.5,641 L517.3,641.2 L517,641.3 L516.8,641.4 L516.6,641.5 L516.3,641.5 L516.1,641.6 L515.9,641.6 L515.6,641.6 L515.4,641.6 L515.2,641.5 L515,641.4 L514.8,641.4 L514.6,641.3 L514.4,641.2 L514.3,641 L514.1,640.9 L514,640.7 L513.9,640.5 L513.8,640.3 L513.7,640.1 L513.6,639.9 L513.5,639.6 L513.5,639.4 L513.5,639.1 L513.4,638.9 L513.5,638.6 L513.5,638.3 L513.5,638 L513.6,637.8 L513.6,637.5 L513.7,637.2 L513.8,636.9 L513.9,636.6 L514.1,636.4 L514.2,636.1 L514.4,635.8 L514.6,635.6 L514.7,635.3 L514.9,635.1 L515.1,634.9 L515.3,634.7 L515.6,634.5 L515.8,634.3 L516,634.1 L516.2,634 L516.5,633.8 L516.7,633.7 L517,633.6 L517.2,633.5 L517.4,633.5 L517.7,633.4 L517.9,633.4 L518.1,633.4 L518.3,633.4 L518.6,633.5 L518.8,633.6 L519,633.6 Z" fill="none" stroke="#111" stroke-width="2"/>
<path d="M516,640.6 L517.8,634.8" fill="none" stroke="#111" stroke-width="1.4"/>
<path d="M508.8,633.2 L508.9,635" fill="none" stroke="#111" stroke-width="1.4"/>
<path d="M511.2,631.9 L511.4,633.6" fill="none" stroke="#111" stroke-width="1.4"/>
<path d="M513.8,630.5 L513.9,632.2" fill="none" stroke="#111" stroke-width="1.4"/>
<path d="M516.2,629.1 L516.4,630.9" fill="none" stroke="#111" stroke-width="1.4"/>
<path d="M518.8,627.8 L518.9,629.5" fill="none" stroke="#111" stroke-width="1.4"/>
<path d="M521.2,626.4 L521.4,628.1" fill="none" stroke="#111" stroke-width="1.4"/>
<path d="M523.8,625 L523.9,626.8" fill="none" stroke="#111" stroke-width="1.4"/>
<path d="M524,626.6 L525.9,625.6" fill="none" stroke="#111" stroke-width="1.4"/>
<path d="M524,629.1 L525.9,628.1" fill="none" stroke="#111" stroke-width="1.4"/>
<path d="M524,631.6 L525.9,630.6" fill="none" stroke="#111" stroke-width="1.4"/>
<path d="M524,634.1 L525.9,633.1" fill="none" stroke="#111" stroke-width="1.4"/>
<path d="M524,636.6 L525.9,635.6" fill="none" stroke="#111" stroke-width="1.4"/>
<path d="M524,639.1 L525.9,638.1" fill="none" stroke="#111" stroke-width="1.4"/>
<path d="M524,641.6 L525.9,640.6" fill="none" stroke="#111" stroke-width="1.4"/>
<path d="M510,652.2 L510,651" fill="none" stroke="#111" stroke-width="1.4"/>
<path d="M512.5,650.9 L512.5,649.6" fill="none" stroke="#111" stroke-width="1.4"/>
<path d="M515,649.5 L515,648.2" fill="none" stroke="#111" stroke-width="1.4"/>
<path d="M517.5,648.1 L517.5,646.9" fill="none" stroke="#111" stroke-width="1.4"/>
<path d="M520,646.8 L520,645.5" fill="none" stroke="#111" stroke-width="1.4"/>
<path d="M522.5,645.4 L522.5,644.1" fill="none" stroke="#111" stroke-width="1.4"/>
<path d="M456.7,669.6 L483.7,655.1" fill="none" stroke="#111" stroke-width="1.7"/>
<path d="M454.3,665 L481.3,650.5" fill="none" stroke="#111" stroke-width="1.7"/>
<path d="M456.2,669.9 L454.8,664.7" fill="none" stroke="#111" stroke-width="1.6"/>
<path d="M458,668.9 L456.6,663.8" fill="none" stroke="#111" stroke-width="1.6"/>
<path d="M459.7,668 L458.3,662.8" fill="none" stroke="#111" stroke-width="1.6"/>
<path d="M461.5,667 L460.1,661.9" fill="none" stroke="#111" stroke-width="1.6"/>
<path d="M463.2,666.1 L461.8,660.9" fill="none" stroke="#111" stroke-width="1.6"/>
<path d="M465,665.1 L463.6,660" fill="none" stroke="#111" stroke-width="1.6"/>
<path d="M466.8,664.2 L465.4,659" fill="none" stroke="#111" stroke-width="1.6"/>
<path d="M468.5,663.3 L467.1,658.1" fill="none" stroke="#111" stroke-width="1.6"/>
<path d="M470.3,662.3 L468.9,657.2" fill="none" stroke="#111" stroke-width="1.6"/>
<path d="M472.1,661.4 L470.7,656.2" fill="none" stroke="#111" stroke-width="1.6"/>
<path d="M473.8,660.4 L472.4,655.3" fill="none" stroke="#111" stroke-width="1.6"/>
<path d="M475.6,659.5 L474.2,654.3" fill="none" stroke="#111" stroke-width="1.6"/>
<path d="M477.3,658.5 L475.9,653.4" fill="none" stroke="#111" stroke-width="1.6"/>
<path d="M479.1,657.6 L477.7,652.4" fill="none" stroke="#111" stroke-width="1.6"/>
<path d="M478.9,651.4 L480.4,647.3 L485.2,644.7 L489.3,645.8 L491.9,651 L490.5,655.1 L485.6,657.7 L481.6,656.6 Z" fill="#fff" stroke="#111" stroke-width="1.7"/>
<path d="M485.6,657.7 L481.6,656.6 L478.9,651.4 L480.4,647.3 L484.4,648.4 L487.1,653.6 Z" fill="none" stroke="#111" stroke-width="1.7"/>
<path d="M485.6,657.7 L490.5,655.1" fill="none" stroke="#111" stroke-width="1.7"/>
<path d="M480.4,647.3 L485.2,644.7" fill="none" stroke="#111" stroke-width="1.7"/>
<path d="M484.4,648.4 L489.3,645.8" fill="none" stroke="#111" stroke-width="1.7"/>
<path d="M487.1,653.6 L491.9,651" fill="none" stroke="#111" stroke-width="1.7"/>
<path d="M484.3,655.1 L484.2,655.1 L484.1,655.2 L484,655.2 L483.8,655.2 L483.7,655.2 L483.6,655.2 L483.4,655.2 L483.3,655.1 L483.1,655.1 L483,655 L482.8,654.9 L482.7,654.8 L482.5,654.7 L482.4,654.6 L482.3,654.5 L482.1,654.4 L482,654.2 L481.9,654.1 L481.8,653.9 L481.7,653.8 L481.5,653.6 L481.4,653.4 L481.4,653.2 L481.3,653 L481.2,652.9 L481.1,652.7 L481.1,652.5 L481,652.3 L481,652.1 L481,651.9 L480.9,651.7 L480.9,651.6 L480.9,651.4 L480.9,651.2 L481,651 L481,650.9 L481,650.7 L481.1,650.6 L481.1,650.5 L481.2,650.4 L481.3,650.2 L481.4,650.1 L481.5,650.1 L481.6,650 L481.7,649.9 L481.8,649.9 L481.9,649.8 L482,649.8 L482.2,649.8 L482.3,649.8 L482.4,649.8 L482.6,649.8 L482.7,649.9 L482.9,649.9 L483,650 L483.2,650.1 L483.3,650.2 L483.5,650.3 L483.6,650.4 L483.7,650.5 L483.9,650.6 L484,650.8 L484.1,650.9 L484.2,651.1 L484.3,651.2 L484.5,651.4 L484.6,651.6 L484.6,651.8 L484.7,652 L484.8,652.1 L484.9,652.3 L484.9,652.5 L485,652.7 L485,652.9 L485,653.1 L485.1,653.3 L485.1,653.4 L485.1,653.6 L485.1,653.8 L485,654 L485,654.1 L485,654.3 L484.9,654.4 L484.9,654.5 L484.8,654.6 L484.7,654.8 L484.6,654.9 L484.5,654.9 L484.4,655 Z" fill="none" stroke="#111" stroke-width="1.7"/>
<path d="M440.2,673.2 L441.7,669 L446.7,666.4 L451,667.7 L453.8,673.1 L452.3,677.3 L447.3,679.8 L443,678.6 Z" fill="#fff" stroke="#111" stroke-width="1.7"/>
<path d="M447.3,679.8 L443,678.6 L440.2,673.2 L441.7,669 L446,670.2 L448.8,675.6 Z" fill="none" stroke="#111" stroke-width="1.7"/>
<path d="M447.3,679.8 L452.3,677.3" fill="none" stroke="#111" stroke-width="1.7"/>
<path d="M441.7,669 L446.7,666.4" fill="none" stroke="#111" stroke-width="1.7"/>
<path d="M446,670.2 L451,667.7" fill="none" stroke="#111" stroke-width="1.7"/>
<path d="M448.8,675.6 L453.8,673.1" fill="none" stroke="#111" stroke-width="1.7"/>
<path d="M445.6,676.6 L445.5,676.6 L445.4,676.6 L445.3,676.7 L445.2,676.7 L445.1,676.7 L445,676.7 L444.8,676.6 L444.7,676.6 L444.6,676.6 L444.5,676.5 L444.4,676.4 L444.2,676.4 L444.1,676.3 L444,676.2 L443.9,676.1 L443.8,676 L443.7,675.9 L443.6,675.7 L443.5,675.6 L443.4,675.5 L443.3,675.3 L443.2,675.2 L443.1,675 L443,674.9 L443,674.7 L442.9,674.5 L442.9,674.4 L442.8,674.2 L442.8,674.1 L442.8,673.9 L442.8,673.8 L442.8,673.6 L442.8,673.5 L442.8,673.3 L442.8,673.2 L442.8,673 L442.8,672.9 L442.9,672.8 L442.9,672.7 L443,672.6 L443.1,672.5 L443.1,672.4 L443.2,672.3 L443.3,672.3 L443.4,672.2 L443.5,672.2 L443.6,672.2 L443.7,672.1 L443.8,672.1 L443.9,672.1 L444,672.1 L444.2,672.2 L444.3,672.2 L444.4,672.2 L444.5,672.3 L444.6,672.4 L444.8,672.4 L444.9,672.5 L445,672.6 L445.1,672.7 L445.2,672.8 L445.3,672.9 L445.4,673.1 L445.5,673.2 L445.6,673.3 L445.7,673.5 L445.8,673.6 L445.9,673.8 L446,673.9 L446,674.1 L446.1,674.3 L446.1,674.4 L446.2,674.6 L446.2,674.7 L446.2,674.9 L446.2,675 L446.2,675.2 L446.2,675.3 L446.2,675.5 L446.2,675.6 L446.2,675.8 L446.2,675.9 L446.1,676 L446.1,676.1 L446,676.2 L445.9,676.3 L445.9,676.4 L445.8,676.5 L445.7,676.5 Z" fill="none" stroke="#111" stroke-width="1.7"/>
<path d="M539.1,661.8 L538.5,661.8 L537.8,661.8 L537.3,661.8 L536.7,661.7 L536.1,661.5 L535.6,661.3 L535.1,661.1 L534.6,660.8 L534.1,660.4 L533.7,660.1 L533.3,659.6 L533,659.2 L532.6,658.7 L532.4,658.1 L532.1,657.6 L531.9,657 L531.8,656.4 L531.6,655.7 L531.6,655 L531.5,654.4 L531.6,653.7 L531.6,653 L531.7,652.2 L531.9,651.5 L532,650.8 L532.3,650.1 L532.5,649.4 L532.8,648.7 L533.2,648 L533.6,647.3 L534,646.7 L534.4,646.1 L534.9,645.5 L535.4,644.9 L535.9,644.4 L536.5,643.9 L537,643.4 L537.6,643 L538.2,642.6 L538.8,642.2 L539.4,641.9 L540.1,641.7 L540.7,641.5 L541.3,641.4 L541.9,641.2 L542.5,641.2 L543.2,641.2 L543.7,641.2 L544.3,641.3 L544.9,641.5" fill="none" stroke="#111" stroke-width="1.8"/>
<path d="M547.5,642.8 L547.9,643.1 L548.4,643.4 L548.8,643.8 L549.2,644.3 L549.5,644.8 L549.8,645.3 L550.1,645.8 L550.3,646.4 L550.5,647 L550.6,647.7 L550.7,648.3 L550.8,649 L550.8,649.7 L550.7,650.4 L550.6,651.1 L550.5,651.8 L550.4,652.5 L550.2,653.3 L549.9,654 L549.6,654.7 L549.3,655.4 L548.9,656 L548.5,656.7 L548.1,657.3 L547.7,657.9 L547.2,658.5 L546.7,659.1 L546.1,659.6 L545.6,660.1 L545,660.5 L544.4,660.9 L543.8,661.3 L543.2,661.6 L542.5,661.9 L541.9,662.1 L541.3,662.3 L540.7,662.4 L540.1,662.5 L539.4,662.5 L538.9,662.5 L538.3,662.4 L537.7,662.3 L537.2,662.1 L536.6,661.9 L536.1,661.6 L535.7,661.3 L535.2,661 L534.8,660.6 L534.4,660.1 L534.1,659.6 L533.8,659.1 L533.5,658.6 L533.3,658 L533.1,657.4 L533,656.7 L532.9,656.1 L532.8,655.4 L532.8,654.7 L532.9,654 L533,653.3 L533.1,652.6 L533.2,651.9 L533.4,651.1 L533.7,650.4 L534,649.7 L534.3,649 L534.7,648.4 L535.1,647.7 L535.5,647.1 L535.9,646.5 L536.4,645.9 L536.9,645.3 L537.5,644.8 L538,644.3 L538.6,643.9 L539.2,643.5 L539.8,643.1 L540.4,642.8 L541.1,642.5 L541.7,642.3 L542.3,642.1 L542.9,642 L543.5,641.9 L544.2,641.9 L544.7,641.9 L545.3,642 L545.9,642.1 L546.4,642.3 L547,642.5 Z" fill="none" stroke="#111" stroke-width="1.8"/>
<path d="M544.1,648.4 L544.2,648.5 L544.4,648.7 L544.6,648.8 L544.7,649 L544.8,649.2 L545,649.4 L545,649.6 L545.1,649.8 L545.2,650.1 L545.2,650.3 L545.3,650.6 L545.3,650.9 L545.3,651.1 L545.3,651.4 L545.2,651.7 L545.2,652 L545.1,652.3 L545,652.6 L544.9,652.8 L544.8,653.1 L544.7,653.4 L544.5,653.7 L544.4,653.9 L544.2,654.2 L544,654.4 L543.8,654.7 L543.6,654.9 L543.4,655.1 L543.2,655.3 L543,655.5 L542.7,655.6 L542.5,655.8 L542.3,655.9 L542,656 L541.8,656.1 L541.5,656.2 L541.3,656.2 L541,656.3 L540.8,656.3 L540.6,656.3 L540.4,656.3 L540.1,656.2 L539.9,656.2 L539.7,656.1 L539.5,656 L539.4,655.9 L539.2,655.7 L539,655.6 L538.9,655.4 L538.8,655.2 L538.6,655 L538.6,654.8 L538.5,654.6 L538.4,654.3 L538.4,654.1 L538.3,653.8 L538.3,653.5 L538.3,653.3 L538.3,653 L538.4,652.7 L538.4,652.4 L538.5,652.1 L538.6,651.8 L538.7,651.6 L538.8,651.3 L538.9,651 L539.1,650.7 L539.2,650.5 L539.4,650.2 L539.6,650 L539.8,649.7 L540,649.5 L540.2,649.3 L540.4,649.1 L540.6,648.9 L540.9,648.8 L541.1,648.6 L541.3,648.5 L541.6,648.4 L541.8,648.3 L542.1,648.2 L542.3,648.2 L542.6,648.1 L542.8,648.1 L543,648.1 L543.2,648.1 L543.5,648.2 L543.7,648.2 L543.9,648.3 Z" fill="none" stroke="#111" stroke-width="1.8"/>
<path d="M549.8,664.7 L554.9,656.2 L563,655.2 L570.1,659.5 L573.1,667.1 L568,675.6 L559.9,676.5 L552.8,672.2 Z" fill="#fff" stroke="#111" stroke-width="1.8"/>
<path d="M570.1,659.5 L573.1,667.1 L568,675.6 L559.9,676.5 L556.9,668.9 L562,660.4 Z" fill="none" stroke="#111" stroke-width="1.8"/>
<path d="M570.1,659.5 L563,655.2" fill="none" stroke="#111" stroke-width="1.8"/>
<path d="M559.9,676.5 L552.8,672.2" fill="none" stroke="#111" stroke-width="1.8"/>
<path d="M556.9,668.9 L549.8,664.7" fill="none" stroke="#111" stroke-width="1.8"/>
<path d="M562,660.4 L554.9,656.2" fill="none" stroke="#111" stroke-width="1.8"/>
<path d="M569,662.3 L569.2,662.5 L569.5,662.7 L569.8,663 L570,663.2 L570.2,663.5 L570.4,663.8 L570.5,664.2 L570.7,664.5 L570.8,664.9 L570.9,665.3 L570.9,665.7 L571,666.2 L571,666.6 L570.9,667 L570.9,667.5 L570.8,667.9 L570.7,668.4 L570.6,668.8 L570.4,669.3 L570.2,669.7 L570,670.1 L569.8,670.6 L569.6,671 L569.3,671.4 L569,671.8 L568.7,672.1 L568.4,672.5 L568,672.8 L567.7,673.1 L567.3,673.4 L567,673.6 L566.6,673.9 L566.2,674.1 L565.8,674.2 L565.4,674.4 L565,674.5 L564.7,674.6 L564.3,674.6 L563.9,674.7 L563.5,674.6 L563.2,674.6 L562.8,674.5 L562.5,674.4 L562.2,674.3 L561.8,674.1 L561.6,673.9 L561.3,673.7 L561,673.4 L560.8,673.2 L560.6,672.9 L560.4,672.6 L560.3,672.2 L560.1,671.9 L560,671.5 L559.9,671.1 L559.9,670.7 L559.8,670.2 L559.8,669.8 L559.9,669.4 L559.9,668.9 L560,668.5 L560.1,668 L560.2,667.6 L560.4,667.1 L560.6,666.7 L560.8,666.3 L561,665.8 L561.2,665.4 L561.5,665 L561.8,664.6 L562.1,664.3 L562.4,663.9 L562.8,663.6 L563.1,663.3 L563.5,663 L563.8,662.8 L564.2,662.5 L564.6,662.3 L565,662.2 L565.4,662 L565.8,661.9 L566.1,661.8 L566.5,661.8 L566.9,661.7 L567.3,661.8 L567.6,661.8 L568,661.9 L568.3,662 L568.6,662.1 Z" fill="none" stroke="#111" stroke-width="1.7"/>
<path d="M568.1,663.7 L568.1,663.8 L568.2,663.8 L568.2,663.9 L568.3,663.9 L568.3,664 L568.3,664 L568.4,664.1 L568.4,664.1 L568.4,664.2 L568.4,664.3 L568.5,664.3 L568.5,664.4 L568.5,664.5 L568.5,664.5 L568.5,664.6 L568.5,664.7 L568.4,664.8 L568.4,664.8 L568.4,664.9 L568.4,665 L568.3,665 L568.3,665.1 L568.3,665.2 L568.2,665.2 L568.2,665.3 L568.1,665.4 L568.1,665.4 L568,665.5 L568,665.5 L567.9,665.6 L567.8,665.6 L567.8,665.6 L567.7,665.7 L567.6,665.7 L567.6,665.7 L567.5,665.7 L567.4,665.7 L567.4,665.7 L567.3,665.7 L567.2,665.7 L567.2,665.7 L567.1,665.7 L567.1,665.7 L567,665.7 L566.9,665.6 L566.9,665.6 L566.8,665.6 L566.8,665.5 L566.8,665.5 L566.7,665.4 L566.7,665.4 L566.6,665.3 L566.6,665.2 L566.6,665.2 L566.6,665.1 L566.6,665 L566.6,665 L566.6,664.9 L566.6,664.8 L566.6,664.8 L566.6,664.7 L566.6,664.6 L566.6,664.5 L566.6,664.5 L566.7,664.4 L566.7,664.3 L566.7,664.3 L566.8,664.2 L566.8,664.1 L566.9,664.1 L566.9,664 L567,664 L567,663.9 L567.1,663.9 L567.1,663.8 L567.2,663.8 L567.3,663.7 L567.3,663.7 L567.4,663.7 L567.4,663.7 L567.5,663.7 L567.6,663.6 L567.6,663.6 L567.7,663.6 L567.8,663.6 L567.8,663.7 L567.9,663.7 L568,663.7 L568,663.7 Z" fill="none" stroke="#111" stroke-width="2"/>
<path d="M569.2,666.8 L569.2,666.8 L569.3,666.9 L569.3,666.9 L569.4,667 L569.4,667 L569.4,667.1 L569.5,667.1 L569.5,667.2 L569.5,667.2 L569.5,667.3 L569.6,667.4 L569.6,667.4 L569.6,667.5 L569.6,667.6 L569.6,667.7 L569.6,667.7 L569.5,667.8 L569.5,667.9 L569.5,668 L569.5,668 L569.4,668.1 L569.4,668.2 L569.4,668.2 L569.3,668.3 L569.3,668.4 L569.2,668.4 L569.2,668.5 L569.1,668.5 L569.1,668.6 L569,668.6 L568.9,668.6 L568.9,668.7 L568.8,668.7 L568.7,668.7 L568.7,668.8 L568.6,668.8 L568.5,668.8 L568.5,668.8 L568.4,668.8 L568.3,668.8 L568.3,668.8 L568.2,668.8 L568.2,668.7 L568.1,668.7 L568,668.7 L568,668.6 L567.9,668.6 L567.9,668.6 L567.9,668.5 L567.8,668.5 L567.8,668.4 L567.7,668.4 L567.7,668.3 L567.7,668.2 L567.7,668.2 L567.7,668.1 L567.7,668 L567.7,668 L567.7,667.9 L567.7,667.8 L567.7,667.7 L567.7,667.7 L567.7,667.6 L567.7,667.5 L567.8,667.4 L567.8,667.4 L567.8,667.3 L567.9,667.2 L567.9,667.2 L567.9,667.1 L568,667.1 L568,667 L568.1,667 L568.2,666.9 L568.2,666.9 L568.3,666.8 L568.3,666.8 L568.4,666.8 L568.5,666.7 L568.5,666.7 L568.6,666.7 L568.7,666.7 L568.7,666.7 L568.8,666.7 L568.9,666.7 L568.9,666.7 L569,666.7 L569.1,666.7 L569.1,666.8 Z" fill="none" stroke="#111" stroke-width="2"/>
<path d="M567.1,670.3 L567.1,670.3 L567.2,670.4 L567.2,670.4 L567.3,670.5 L567.3,670.5 L567.3,670.6 L567.4,670.6 L567.4,670.7 L567.4,670.8 L567.4,670.8 L567.4,670.9 L567.4,671 L567.5,671 L567.5,671.1 L567.4,671.2 L567.4,671.3 L567.4,671.3 L567.4,671.4 L567.4,671.5 L567.4,671.5 L567.3,671.6 L567.3,671.7 L567.2,671.7 L567.2,671.8 L567.2,671.9 L567.1,671.9 L567.1,672 L567,672 L566.9,672.1 L566.9,672.1 L566.8,672.2 L566.8,672.2 L566.7,672.2 L566.6,672.3 L566.6,672.3 L566.5,672.3 L566.4,672.3 L566.4,672.3 L566.3,672.3 L566.2,672.3 L566.2,672.3 L566.1,672.3 L566,672.2 L566,672.2 L565.9,672.2 L565.9,672.2 L565.8,672.1 L565.8,672.1 L565.7,672 L565.7,672 L565.7,671.9 L565.6,671.9 L565.6,671.8 L565.6,671.7 L565.6,671.7 L565.6,671.6 L565.5,671.5 L565.5,671.5 L565.5,671.4 L565.5,671.3 L565.6,671.2 L565.6,671.2 L565.6,671.1 L565.6,671 L565.6,671 L565.7,670.9 L565.7,670.8 L565.7,670.8 L565.8,670.7 L565.8,670.6 L565.9,670.6 L565.9,670.5 L566,670.5 L566.1,670.4 L566.1,670.4 L566.2,670.3 L566.2,670.3 L566.3,670.3 L566.4,670.3 L566.4,670.2 L566.5,670.2 L566.6,670.2 L566.6,670.2 L566.7,670.2 L566.8,670.2 L566.8,670.2 L566.9,670.2 L567,670.3 L567,670.3 Z" fill="none" stroke="#111" stroke-width="2"/>
<path d="M563.9,670.8 L563.9,670.8 L564,670.8 L564,670.9 L564,670.9 L564.1,671 L564.1,671 L564.2,671.1 L564.2,671.2 L564.2,671.2 L564.2,671.3 L564.2,671.4 L564.2,671.4 L564.2,671.5 L564.2,671.6 L564.2,671.6 L564.2,671.7 L564.2,671.8 L564.2,671.9 L564.2,671.9 L564.1,672 L564.1,672.1 L564.1,672.1 L564,672.2 L564,672.3 L563.9,672.3 L563.9,672.4 L563.8,672.4 L563.8,672.5 L563.7,672.5 L563.7,672.6 L563.6,672.6 L563.5,672.7 L563.5,672.7 L563.4,672.7 L563.4,672.7 L563.3,672.7 L563.2,672.8 L563.2,672.8 L563.1,672.8 L563,672.8 L563,672.7 L562.9,672.7 L562.8,672.7 L562.8,672.7 L562.7,672.7 L562.7,672.6 L562.6,672.6 L562.6,672.5 L562.5,672.5 L562.5,672.4 L562.5,672.4 L562.4,672.3 L562.4,672.3 L562.4,672.2 L562.4,672.1 L562.3,672.1 L562.3,672 L562.3,671.9 L562.3,671.9 L562.3,671.8 L562.3,671.7 L562.4,671.6 L562.4,671.6 L562.4,671.5 L562.4,671.4 L562.5,671.4 L562.5,671.3 L562.5,671.2 L562.6,671.2 L562.6,671.1 L562.7,671 L562.7,671 L562.8,670.9 L562.8,670.9 L562.9,670.8 L563,670.8 L563,670.8 L563.1,670.7 L563.2,670.7 L563.2,670.7 L563.3,670.7 L563.4,670.7 L563.4,670.7 L563.5,670.7 L563.6,670.7 L563.6,670.7 L563.7,670.7 L563.7,670.7 L563.8,670.7 Z" fill="none" stroke="#111" stroke-width="2"/>
<path d="M562.8,667.7 L562.8,667.8 L562.9,667.8 L562.9,667.8 L562.9,667.9 L563,667.9 L563,668 L563.1,668 L563.1,668.1 L563.1,668.2 L563.1,668.2 L563.1,668.3 L563.1,668.4 L563.1,668.4 L563.1,668.5 L563.1,668.6 L563.1,668.7 L563.1,668.7 L563.1,668.8 L563.1,668.9 L563,669 L563,669 L563,669.1 L562.9,669.2 L562.9,669.2 L562.9,669.3 L562.8,669.3 L562.8,669.4 L562.7,669.4 L562.6,669.5 L562.6,669.5 L562.5,669.6 L562.5,669.6 L562.4,669.6 L562.3,669.7 L562.3,669.7 L562.2,669.7 L562.1,669.7 L562.1,669.7 L562,669.7 L561.9,669.7 L561.9,669.7 L561.8,669.7 L561.7,669.7 L561.7,669.6 L561.6,669.6 L561.6,669.6 L561.5,669.5 L561.5,669.5 L561.4,669.4 L561.4,669.4 L561.4,669.3 L561.3,669.3 L561.3,669.2 L561.3,669.2 L561.3,669.1 L561.2,669 L561.2,669 L561.2,668.9 L561.2,668.8 L561.2,668.7 L561.2,668.7 L561.3,668.6 L561.3,668.5 L561.3,668.4 L561.3,668.4 L561.4,668.3 L561.4,668.2 L561.4,668.2 L561.5,668.1 L561.5,668 L561.6,668 L561.6,667.9 L561.7,667.9 L561.7,667.8 L561.8,667.8 L561.9,667.8 L561.9,667.7 L562,667.7 L562.1,667.7 L562.1,667.6 L562.2,667.6 L562.3,667.6 L562.3,667.6 L562.4,667.6 L562.5,667.6 L562.5,667.6 L562.6,667.6 L562.6,667.7 L562.7,667.7 Z" fill="none" stroke="#111" stroke-width="2"/>
<path d="M564.9,664.2 L564.9,664.2 L565,664.3 L565,664.3 L565.1,664.4 L565.1,664.4 L565.1,664.5 L565.2,664.5 L565.2,664.6 L565.2,664.7 L565.2,664.7 L565.2,664.8 L565.3,664.9 L565.3,664.9 L565.3,665 L565.3,665.1 L565.2,665.2 L565.2,665.2 L565.2,665.3 L565.2,665.4 L565.2,665.4 L565.1,665.5 L565.1,665.6 L565.1,665.6 L565,665.7 L565,665.8 L564.9,665.8 L564.9,665.9 L564.8,665.9 L564.7,666 L564.7,666 L564.6,666.1 L564.6,666.1 L564.5,666.1 L564.4,666.1 L564.4,666.2 L564.3,666.2 L564.2,666.2 L564.2,666.2 L564.1,666.2 L564,666.2 L564,666.2 L563.9,666.2 L563.8,666.1 L563.8,666.1 L563.7,666.1 L563.7,666.1 L563.6,666 L563.6,666 L563.5,665.9 L563.5,665.9 L563.5,665.8 L563.4,665.8 L563.4,665.7 L563.4,665.6 L563.4,665.6 L563.4,665.5 L563.4,665.4 L563.3,665.4 L563.3,665.3 L563.4,665.2 L563.4,665.1 L563.4,665.1 L563.4,665 L563.4,664.9 L563.4,664.9 L563.5,664.8 L563.5,664.7 L563.6,664.7 L563.6,664.6 L563.6,664.5 L563.7,664.5 L563.7,664.4 L563.8,664.4 L563.9,664.3 L563.9,664.3 L564,664.2 L564,664.2 L564.1,664.2 L564.2,664.1 L564.2,664.1 L564.3,664.1 L564.4,664.1 L564.4,664.1 L564.5,664.1 L564.6,664.1 L564.6,664.1 L564.7,664.1 L564.8,664.2 L564.8,664.2 Z" fill="none" stroke="#111" stroke-width="2"/>
<path d="M581.5,668.5 C581.1,667.9 579.5,666.2 579.3,665 C579.1,663.8 579.7,661.8 580.5,661 C581.3,660.2 583.1,659.8 584,660 C584.9,660.2 585.7,661.4 585.8,662.5 C585.9,663.6 585,665.8 584.8,666.5" fill="none" stroke="#111" stroke-width="1.8"/>
<path d="M581.5,668.5 L580.2,691 L582.2,691.5" fill="none" stroke="#111" stroke-width="1.8"/>
<path d="M584.8,666.5 L583.2,689.5 L582.2,691.5" fill="none" stroke="#111" stroke-width="1.8"/>
<path d="M583.1,668 L581.8,689.5" fill="none" stroke="#111" stroke-width="1.4"/>
<path d="M311,617.8 L336,605" fill="none" stroke="#111" stroke-width="10.2"/>
<circle cx="310.3" cy="616.5" r="0.8" fill="#fff"/>
<circle cx="311.7" cy="619.1" r="0.8" fill="#fff"/>
<circle cx="313.9" cy="614.6" r="0.8" fill="#fff"/>
<circle cx="315.3" cy="617.3" r="0.8" fill="#fff"/>
<circle cx="317.5" cy="612.8" r="0.8" fill="#fff"/>
<circle cx="318.8" cy="615.5" r="0.8" fill="#fff"/>
<circle cx="321" cy="611" r="0.8" fill="#fff"/>
<circle cx="322.4" cy="613.6" r="0.8" fill="#fff"/>
<circle cx="324.6" cy="609.2" r="0.8" fill="#fff"/>
<circle cx="326" cy="611.8" r="0.8" fill="#fff"/>
<circle cx="328.2" cy="607.3" r="0.8" fill="#fff"/>
<circle cx="329.5" cy="610" r="0.8" fill="#fff"/>
<circle cx="331.7" cy="605.5" r="0.8" fill="#fff"/>
<circle cx="333.1" cy="608.2" r="0.8" fill="#fff"/>
<circle cx="335.3" cy="603.7" r="0.8" fill="#fff"/>
<circle cx="336.7" cy="606.3" r="0.8" fill="#fff"/>
<path d="M296.5,630 L303,627.3" fill="none" stroke="#111" stroke-width="10.2"/>
<circle cx="295.9" cy="628.6" r="0.8" fill="#fff"/>
<circle cx="297.1" cy="631.4" r="0.8" fill="#fff"/>
<circle cx="299.2" cy="627.3" r="0.8" fill="#fff"/>
<circle cx="300.3" cy="630" r="0.8" fill="#fff"/>
<circle cx="302.4" cy="625.9" r="0.8" fill="#fff"/>
<circle cx="303.6" cy="628.7" r="0.8" fill="#fff"/>
<path d="M280,641 L291,636.5" fill="none" stroke="#111" stroke-width="10.2"/>
<circle cx="279.4" cy="639.6" r="0.8" fill="#fff"/>
<circle cx="280.6" cy="642.4" r="0.8" fill="#fff"/>
<circle cx="283.1" cy="638.1" r="0.8" fill="#fff"/>
<circle cx="284.2" cy="640.9" r="0.8" fill="#fff"/>
<circle cx="286.8" cy="636.6" r="0.8" fill="#fff"/>
<circle cx="287.9" cy="639.4" r="0.8" fill="#fff"/>
<circle cx="290.4" cy="635.1" r="0.8" fill="#fff"/>
<circle cx="291.6" cy="637.9" r="0.8" fill="#fff"/>
<path d="M181,700.6 L190.6,684 L192.8,686.5 L213.8,675.6 L215.9,677.5 L215.9,692.2 L194.6,703.5 L193.5,708.1 Z" fill="none" stroke="#111" stroke-width="1.8"/>
<path d="M183.5,700.1 L191.2,687.2" fill="none" stroke="#111" stroke-width="1.6"/>
<path d="M193.5,689.5 L213.4,678.8 L213.8,691" fill="none" stroke="#111" stroke-width="1.6"/>
<path d="M213.8,675.6 L213.4,678.8" fill="none" stroke="#111" stroke-width="1.4"/>
<g transform="matrix(0.93,-0.465,-0.22,1,193.5,701.2)" fill="none" stroke="#111" stroke-width="1.7" stroke-linejoin="miter" stroke-linecap="butt"><path d="M0.8,0 V-9.8 H5.3 M0.8,-5 H4.3"/><path d="M6.8,-9.8 L8,0 L9.45,-6.5 L10.9,0 L12.1,-9.8"/><path d="M14.4,-0.8 V-9 H16 Q18.9,-9 18.9,-4.9 Q18.9,-0.8 16,-0.8 Z"/></g>
<path d="M202.7,146.7 V155.1 M202.7,146.7 l-1.4,1.1 M201.5,155.1 h2.4" fill="none" stroke="#111" stroke-width="2"/>
<text transform="translate(205.5,155.1) scale(1.16,1)" font-size="11" stroke="#111" stroke-width="0.75">6</text>
<path d="M212.5,145 L236.9,134.5" fill="none" stroke="#111" stroke-width="1.5"/>
<path d="M230.8,165.3 V173.7 M230.8,165.3 l-1.4,1.1 M229.6,173.7 h2.4" fill="none" stroke="#111" stroke-width="2"/>
<text transform="translate(233.6,173.7) scale(1.16,1)" font-size="11" stroke="#111" stroke-width="0.75">7</text>
<path d="M241.8,165.6 L274.4,155.5" fill="none" stroke="#111" stroke-width="1.5"/>
<text transform="translate(316.1,123.1) scale(1.16,1)" font-size="11" stroke="#111" stroke-width="0.75">2</text>
<text transform="translate(324.4,123.1) scale(1.16,1)" font-size="11" stroke="#111" stroke-width="0.75">3</text>
<path d="M321.3,124.9 L310,150.6" fill="none" stroke="#111" stroke-width="1.5"/>
<text transform="translate(259.8,221.3) scale(1.16,1)" font-size="11" stroke="#111" stroke-width="0.75">2</text>
<text transform="translate(268.1,221.3) scale(1.16,1)" font-size="11" stroke="#111" stroke-width="0.75">4</text>
<path d="M266.9,210.6 L262,191.9" fill="none" stroke="#111" stroke-width="1.5"/>
<text transform="translate(231.7,236.3) scale(1.16,1)" font-size="11" stroke="#111" stroke-width="0.75">2</text>
<text transform="translate(240,236.3) scale(1.16,1)" font-size="11" stroke="#111" stroke-width="0.75">5</text>
<path d="M239.5,225.6 L239.5,206.9" fill="none" stroke="#111" stroke-width="1.5"/>
<text transform="translate(293.6,225.1) scale(1.16,1)" font-size="11" stroke="#111" stroke-width="0.75">2</text>
<path d="M303.6,216.7 V225.1 M303.6,216.7 l-1.4,1.1 M302.4,225.1 h2.4" fill="none" stroke="#111" stroke-width="2"/>
<path d="M301.8,214.4 L321.3,184.4" fill="none" stroke="#111" stroke-width="1.5"/>
<text transform="translate(321.4,238.2) scale(1.16,1)" font-size="11" stroke="#111" stroke-width="0.75">4</text>
<path d="M326.9,227.5 L343.8,199.4" fill="none" stroke="#111" stroke-width="1.5"/>
<text transform="translate(346.9,251.3) scale(1.16,1)" font-size="11" stroke="#111" stroke-width="0.75">3</text>
<path d="M352,240.6 L364.4,209.5" fill="none" stroke="#111" stroke-width="1.5"/>
<text transform="translate(375.8,269.3) scale(1.16,1)" font-size="11" stroke="#111" stroke-width="0.75">2</text>
<path d="M383.9,259.4 L407.5,235" fill="none" stroke="#111" stroke-width="1.5"/>
<path d="M424.9,175.8 V184.2 M424.9,175.8 l-1.4,1.1 M423.7,184.2 h2.4" fill="none" stroke="#111" stroke-width="2"/>
<path d="M428,184.4 L454.4,208" fill="none" stroke="#111" stroke-width="1.5"/>
<text transform="translate(493.4,212.3) scale(1.16,1)" font-size="11" stroke="#111" stroke-width="0.75">7</text>
<path d="M503.8,207.5 L545,207.5" fill="none" stroke="#111" stroke-width="1.5"/>
<text transform="translate(399.8,284.6) scale(1.16,1)" font-size="11" stroke="#111" stroke-width="0.75">6</text>
<path d="M405.3,286 L414.7,308.4" fill="none" stroke="#111" stroke-width="1.5"/>
<text transform="translate(318.7,390.6) scale(1.16,1)" font-size="11" stroke="#111" stroke-width="0.75">5</text>
<path d="M328.4,384.4 L351,367.5" fill="none" stroke="#111" stroke-width="1.5"/>
<text transform="translate(184.3,498.8) scale(1.16,1)" font-size="11" stroke="#111" stroke-width="0.75">3</text>
<path d="M193.8,487.5 L208.8,471.3" fill="none" stroke="#111" stroke-width="1.5"/>
<path d="M214.8,506.1 V514.5 M214.8,506.1 l-1.4,1.1 M213.6,514.5 h2.4" fill="none" stroke="#111" stroke-width="2"/>
<text transform="translate(217.6,514.5) scale(1.16,1)" font-size="11" stroke="#111" stroke-width="0.75">4</text>
<path d="M225,502.5 L240,485" fill="none" stroke="#111" stroke-width="1.5"/>
<text transform="translate(281.4,446.1) scale(1.16,1)" font-size="11" stroke="#111" stroke-width="0.75">8</text>
<path d="M283.8,448.8 L276.3,466.3" fill="none" stroke="#111" stroke-width="1.5"/>
<path d="M309.8,452.2 V460.6 M309.8,452.2 l-1.4,1.1 M308.6,460.6 h2.4" fill="none" stroke="#111" stroke-width="2"/>
<text transform="translate(312.5,460.6) scale(1.16,1)" font-size="11" stroke="#111" stroke-width="0.75">5</text>
<path d="M311.3,463 L298.8,482.5" fill="none" stroke="#111" stroke-width="1.5"/>
<text transform="translate(250.7,541.3) scale(1.16,1)" font-size="11" stroke="#111" stroke-width="0.75">9</text>
<path d="M261.3,535 L292.5,531.3" fill="none" stroke="#111" stroke-width="1.5"/>
<path d="M321.2,570.8 V579.2 M321.2,570.8 l-1.4,1.1 M320.1,579.2 h2.4" fill="none" stroke="#111" stroke-width="2"/>
<text transform="translate(324,579.2) scale(1.16,1)" font-size="11" stroke="#111" stroke-width="0.75">0</text>
<path d="M333.8,568 L354.4,549.4" fill="none" stroke="#111" stroke-width="1.5"/>
<path d="M347.1,631.5 V639.9 M347.1,631.5 l-1.4,1.1 M345.9,639.9 h2.4" fill="none" stroke="#111" stroke-width="2"/>
<text transform="translate(349.9,639.9) scale(1.16,1)" font-size="11" stroke="#111" stroke-width="0.75">2</text>
<path d="M355.5,629 L367.5,615" fill="none" stroke="#111" stroke-width="1.5"/>
<path d="M429.5,630.7 V639.1 M429.5,630.7 l-1.4,1.1 M428.3,639.1 h2.4" fill="none" stroke="#111" stroke-width="2"/>
<path d="M436.9,630.7 V639.1 M436.9,630.7 l-1.4,1.1 M435.7,639.1 h2.4" fill="none" stroke="#111" stroke-width="2"/>
<path d="M440,628 L458.8,607.5" fill="none" stroke="#111" stroke-width="1.5"/>
<path d="M511.2,538.2 V546.6 M511.2,538.2 l-1.4,1.1 M510.1,546.6 h2.4" fill="none" stroke="#111" stroke-width="2"/>
<text transform="translate(514,546.6) scale(1.16,1)" font-size="11" stroke="#111" stroke-width="0.75">3</text>
<path d="M512.5,549.4 L500,568.5" fill="none" stroke="#111" stroke-width="1.5"/>
<text transform="translate(445.5,653.1) scale(1.16,1)" font-size="11" stroke="#111" stroke-width="0.75">2</text>
<text transform="translate(453.8,653.1) scale(1.16,1)" font-size="11" stroke="#111" stroke-width="0.75">2</text>
<path d="M460.6,643 L479.4,624.4" fill="none" stroke="#111" stroke-width="1.5"/>
<text transform="translate(529.2,603.1) scale(1.16,1)" font-size="11" stroke="#111" stroke-width="0.75">2</text>
<text transform="translate(537.5,603.1) scale(1.16,1)" font-size="11" stroke="#111" stroke-width="0.75">3</text>
<path d="M533.8,605 L523.8,622.5" fill="none" stroke="#111" stroke-width="1.5"/>
<path d="M558.4,608.4 V616.8 M558.4,608.4 l-1.4,1.1 M557.1,616.8 h2.4" fill="none" stroke="#111" stroke-width="2"/>
<text transform="translate(561.1,616.8) scale(1.16,1)" font-size="11" stroke="#111" stroke-width="0.75">8</text>
<path d="M558.8,618.8 L546.3,646.3" fill="none" stroke="#111" stroke-width="1.5"/>
<path d="M582.8,623.1 V631.5 M582.8,623.1 l-1.4,1.1 M581.5,631.5 h2.4" fill="none" stroke="#111" stroke-width="2"/>
<text transform="translate(585.5,631.5) scale(1.16,1)" font-size="11" stroke="#111" stroke-width="0.75">9</text>
<path d="M582.5,633.8 L565,657.5" fill="none" stroke="#111" stroke-width="1.5"/>
<text transform="translate(605,645.7) scale(1.16,1)" font-size="11" stroke="#111" stroke-width="0.75">2</text>
<text transform="translate(613.3,645.7) scale(1.16,1)" font-size="11" stroke="#111" stroke-width="0.75">0</text>
<path d="M606.3,647.5 L584.5,661.5" fill="none" stroke="#111" stroke-width="1.5"/>
<text transform="translate(486,689.3) scale(1.16,1)" font-size="11" stroke="#111" stroke-width="0.75">2</text>
<text transform="translate(494.3,689.3) scale(1.16,1)" font-size="11" stroke="#111" stroke-width="0.75">4</text>
<path d="M488.8,678.8 L475,663.8" fill="none" stroke="#111" stroke-width="1.5"/>
<text transform="translate(457.2,703.3) scale(1.16,1)" font-size="11" stroke="#111" stroke-width="0.75">2</text>
<text transform="translate(465.5,703.3) scale(1.16,1)" font-size="11" stroke="#111" stroke-width="0.75">5</text>
<path d="M460,692.5 L451.3,680" fill="none" stroke="#111" stroke-width="1.5"/>
<text transform="translate(173.2,306.3) scale(1.16,1)" font-size="11" stroke="#111" stroke-width="0.75">2</text>
<text transform="translate(181.5,306.3) scale(1.16,1)" font-size="11" stroke="#111" stroke-width="0.75">3</text>
<path d="M183.8,307.5 L193.8,333.8" fill="none" stroke="#111" stroke-width="1.5"/>
<text transform="translate(211,285.3) scale(1.16,1)" font-size="11" stroke="#111" stroke-width="0.75">2</text>
<text transform="translate(219.3,285.3) scale(1.16,1)" font-size="11" stroke="#111" stroke-width="0.75">6</text>
<path d="M223.8,287.5 L236,303.8" fill="none" stroke="#111" stroke-width="1.5"/>
<text transform="translate(241.7,278.1) scale(1.16,1)" font-size="11" stroke="#111" stroke-width="0.75">2</text>
<text transform="translate(250,278.1) scale(1.16,1)" font-size="11" stroke="#111" stroke-width="0.75">7</text>
<path d="M251,280 L261,300" fill="none" stroke="#111" stroke-width="1.5"/>
<text transform="translate(268,269.3) scale(1.16,1)" font-size="11" stroke="#111" stroke-width="0.75">2</text>
<text transform="translate(276.3,269.3) scale(1.16,1)" font-size="11" stroke="#111" stroke-width="0.75">5</text>
<path d="M276,271 L276,292" fill="none" stroke="#111" stroke-width="1.5"/>
<path d="M276,271 L289,286" fill="none" stroke="#111" stroke-width="1.5"/>
<text transform="translate(191.7,611.8) scale(1.16,1)" font-size="11" stroke="#111" stroke-width="0.75">2</text>
<text transform="translate(200,611.8) scale(1.16,1)" font-size="11" stroke="#111" stroke-width="0.75">8</text>
<text transform="translate(226,628.1) scale(1.16,1)" font-size="11" stroke="#111" stroke-width="0.75">2</text>
<text transform="translate(234.3,628.1) scale(1.16,1)" font-size="11" stroke="#111" stroke-width="0.75">9</text>
<path d="M209.5,607.5 L218.8,607.5" fill="none" stroke="#111" stroke-width="1.5"/>
<path d="M310,611 L218.8,596.3 L218.8,620 L225,620" fill="none" stroke="#111" stroke-width="1.5"/>
<path d="M243.8,624.5 L292.5,628.8" fill="none" stroke="#111" stroke-width="1.5"/>
<text x="237.5" y="367.3" font-size="11" text-anchor="start" font-weight="normal" stroke="#111" stroke-width="0.7" textLength="48.5" lengthAdjust="spacingAndGlyphs">3XV1~8</text>
<text x="160.5" y="730.2" font-size="9.6" text-anchor="start" font-weight="normal" stroke="#111" stroke-width="0.55" textLength="85.5" lengthAdjust="spacingAndGlyphs">3XVC010-5380</text>
</svg>
</body></html>
